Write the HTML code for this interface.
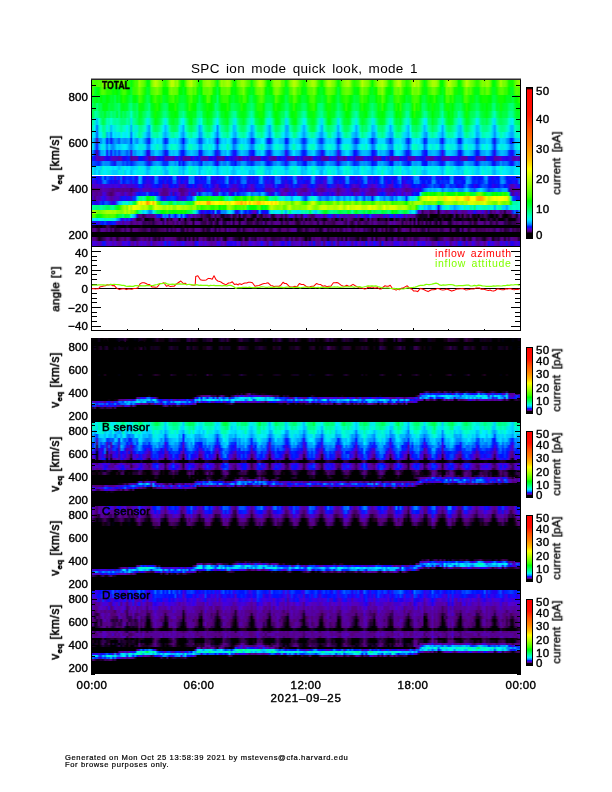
<!DOCTYPE html><html><head><meta charset="utf-8"><title>SPC ion mode quick look</title><style>
*{margin:0;padding:0;box-sizing:border-box}
html,body{width:612px;height:792px;background:#fff;overflow:hidden}
body{position:relative;font-family:"Liberation Sans",sans-serif;color:#000;font-size:11.5px;line-height:1}
.r{position:absolute;left:91px;width:430px}
.k{position:absolute;background:#000}
.t{position:absolute;white-space:nowrap;will-change:transform;-webkit-text-stroke:0.4px #000}
.yl{will-change:transform;position:absolute;white-space:nowrap;text-align:right;width:40px;left:48.3px;letter-spacing:.1px;-webkit-text-stroke:0.4px #000}
.cl{will-change:transform;position:absolute;white-space:nowrap;left:535.5px;letter-spacing:.3px;-webkit-text-stroke:0.4px #000}
.rot{will-change:transform;position:absolute;white-space:nowrap;transform:translate(-50%,-50%) rotate(-90deg);-webkit-text-stroke:0.55px #000}
.cb{position:absolute;left:526px;width:7px;border-left:1px solid #000;border-right:1px solid #000}
sub{font-size:7.5px;vertical-align:baseline;position:relative;top:3px;font-weight:bold}
</style></head><body>
<div class="t" style="left:191px;top:61.5px;font-size:13.5px;word-spacing:2.2px;letter-spacing:.33px;-webkit-text-stroke:0">SPC ion mode quick look, mode 1</div>
<div class="k" style="left:91px;top:79px;width:430px;height:168px"></div>
<div class="r" style="top:79px;height:8px;background:linear-gradient(90deg,#2f0,#5f0,#4f0,#4f0,#5f0,#4f0,#8f0,#9f0,#6f0,#5f0,#5f0,#5f0,#2f0,#5f0,#6f0,#4f0,#7f0,#4f0,#2f0,#3f0,#0f1,#2f0,#4f0,#4f0,#9f0,#7f0,#6f0,#4f0,#0f1,#0f1,#6f0,#9f0,#bf0,#af0,#8f0,#7f0,#3f0,#2f0,#4f0,#8f0,#bf0,#bf0,#8f0,#9f0,#4f0,#1f0,#0f0,#4f0,#8f0,#af0,#bf0,#8f0,#7f0,#4f0,#1f0,#2f0,#7f0,#8f0,#9f0,#9f0,#7f0,#6f0,#3f0,#0f2,#5f0,#9f0,#8f0,#9f0,#af0,#9f0,#5f0,#1f0,#1f0,#6f0,#7f0,#9f0,#9f0,#7f0,#5f0,#4f0,#0f1,#4f0,#6f0,#9f0,#bf0,#af0,#8f0,#4f0,#0f0,#0f0,#4f0,#8f0,#9f0,#9f0,#9f0,#5f0,#5f0,#0f1,#3f0,#7f0,#9f0,#bf0,#af0,#8f0,#5f0,#3f0,#1f0,#3f0,#7f0,#8f0,#af0,#af0,#8f0,#4f0,#2f0,#0f0,#4f0,#7f0,#af0,#af0,#8f0,#7f0,#4f0,#0f1,#2f0,#6f0,#8f0,#9f0,#af0,#8f0,#4f0,#2f0,#3f0,#4f0,#7f0,#bf0,#9f0,#8f0,#7f0,#4f0,#0f0,#4f0,#6f0,#9f0,#af0,#bf0,#9f0,#7f0,#3f0,#1f0,#3f0,#7f0,#9f0,#bf0,#af0,#6f0,#5f0,#2f0,#3f0,#5f0,#9f0,#bf0,#9f0,#af0,#6f0,#3f0,#0f1,#2f0,#6f0,#8f0,#af0,#af0,#9f0,#6f0,#0f0,#0f0,#4f0,#8f0,#bf0,#af0,#8f0,#7f0,#5f0,#0f0,#1f0,#5f0,#8f0,#bf0,#9f0,#7f0,#6f0,#4f0,#2f0,#3f0,#6f0,#8f0,#7f0,#9f0,#8f0,#5f0,#0f0,#0f1,#3f0,#6f0,#af0,#7f0,#7f0,#5f0,#1f0,#1f0,#1f0,#5f0,#7f0,#8f0,#af0)"></div>
<div class="r" style="top:87px;height:8px;background:linear-gradient(90deg,#1f0,#4f0,#0f3,#0f1,#0f0,#4f0,#5f0,#4f0,#2f0,#2f0,#2f0,#0f1,#1f0,#0f0,#0f2,#2f0,#4f0,#4f0,#1f0,#0f0,#0f3,#3f0,#3f0,#4f0,#7f0,#5f0,#3f0,#1f0,#0f3,#0f2,#4f0,#5f0,#6f0,#7f0,#5f0,#4f0,#0f0,#0f0,#0f0,#5f0,#7f0,#6f0,#6f0,#5f0,#0f0,#0f0,#0f2,#0f0,#4f0,#6f0,#6f0,#4f0,#5f0,#1f0,#0f2,#0f0,#5f0,#5f0,#5f0,#6f0,#5f0,#1f0,#0f1,#0f4,#0f0,#5f0,#5f0,#5f0,#6f0,#5f0,#0f0,#0f1,#0f0,#2f0,#4f0,#5f0,#7f0,#3f0,#1f0,#0f1,#0f2,#0f1,#4f0,#6f0,#6f0,#7f0,#5f0,#0f0,#0f2,#0f0,#0f0,#5f0,#7f0,#7f0,#5f0,#3f0,#1f0,#0f2,#0f2,#4f0,#5f0,#8f0,#6f0,#3f0,#4f0,#0f0,#0f1,#0f1,#4f0,#5f0,#5f0,#7f0,#4f0,#0f0,#0f2,#0f2,#0f0,#4f0,#6f0,#6f0,#5f0,#4f0,#1f0,#0f4,#0f1,#4f0,#5f0,#6f0,#6f0,#5f0,#3f0,#0f1,#0f1,#0f0,#4f0,#7f0,#5f0,#5f0,#3f0,#0f1,#0f2,#1f0,#0f0,#6f0,#6f0,#8f0,#5f0,#1f0,#0f0,#0f0,#0f2,#5f0,#6f0,#5f0,#7f0,#4f0,#1f0,#0f0,#1f0,#2f0,#7f0,#6f0,#6f0,#7f0,#4f0,#1f0,#0f1,#0f1,#3f0,#4f0,#6f0,#6f0,#4f0,#2f0,#0f0,#0f2,#1f0,#7f0,#6f0,#7f0,#5f0,#1f0,#1f0,#0f1,#0f1,#1f0,#5f0,#7f0,#4f0,#5f0,#2f0,#0f1,#0f1,#0f1,#4f0,#5f0,#3f0,#6f0,#5f0,#2f0,#0f2,#0f2,#1f0,#4f0,#5f0,#5f0,#3f0,#3f0,#0f0,#0f2,#0f2,#4f0,#5f0,#4f0,#5f0)"></div>
<div class="r" style="top:95px;height:8px;background:linear-gradient(90deg,#0f3,#0f3,#0f2,#0f1,#0f3,#0f0,#0f2,#0f2,#0f0,#0f1,#0f3,#0f2,#0f5,#0f1,#0f3,#0f0,#2f0,#1f0,#0f1,#0f3,#0f5,#0f1,#0f0,#0f2,#4f0,#3f0,#1f0,#0f2,#0f5,#0f4,#0f0,#2f0,#4f0,#2f0,#1f0,#2f0,#0f3,#0f2,#0f1,#2f0,#3f0,#4f0,#1f0,#2f0,#0f2,#0f3,#0f3,#0f2,#1f0,#3f0,#4f0,#1f0,#1f0,#0f1,#0f5,#0f2,#0f0,#1f0,#5f0,#4f0,#0f0,#0f2,#0f2,#0f7,#0f1,#2f0,#3f0,#3f0,#3f0,#0f0,#0f2,#0f3,#0f1,#0f1,#2f0,#1f0,#4f0,#3f0,#0f0,#0f4,#0f5,#0f2,#0f1,#2f0,#4f0,#5f0,#3f0,#0f2,#0f3,#0f3,#0f2,#0f1,#5f0,#3f0,#1f0,#0f0,#0f1,#0f5,#0f3,#2f0,#1f0,#5f0,#4f0,#1f0,#0f0,#0f3,#0f3,#0f2,#0f0,#3f0,#4f0,#4f0,#1f0,#0f2,#0f2,#0f4,#0f2,#0f1,#4f0,#3f0,#1f0,#0f0,#0f2,#0f5,#0f2,#1f0,#2f0,#3f0,#2f0,#0f0,#0f1,#0f4,#0f3,#0f3,#2f0,#4f0,#2f0,#2f0,#0f0,#0f3,#0f3,#0f3,#0f0,#2f0,#1f0,#5f0,#3f0,#0f0,#0f2,#0f4,#0f4,#2f0,#3f0,#4f0,#2f0,#1f0,#0f0,#0f3,#0f2,#0f2,#3f0,#4f0,#4f0,#3f0,#0f0,#0f3,#0f4,#0f2,#1f0,#0f0,#1f0,#3f0,#0f0,#0f2,#0f3,#0f4,#0f0,#4f0,#4f0,#1f0,#3f0,#0f1,#0f3,#0f3,#0f3,#0f1,#4f0,#4f0,#2f0,#0f1,#1f0,#0f2,#0f4,#0f2,#0f0,#1f0,#1f0,#1f0,#0f0,#0f0,#0f4,#0f4,#0f2,#1f0,#1f0,#1f0,#0f0,#0f2,#0f2,#0f2,#0f4,#0f1,#0f0,#2f0,#4f0)"></div>
<div class="r" style="top:103px;height:8px;background:linear-gradient(90deg,#0f6,#0f5,#0f3,#0f8,#0f4,#0f5,#0f1,#0f1,#0f1,#0f4,#0f3,#0f3,#0f5,#0f5,#0f7,#0f2,#0f1,#0f2,#0f2,#0f6,#0f8,#0f4,#0f4,#0f6,#1f0,#0f1,#0f1,#0f4,#0f5,#0f8,#0f2,#0f1,#1f0,#2f0,#0f0,#0f3,#0f5,#0f6,#0f5,#0f0,#0f0,#0f0,#2f0,#0f1,#0f4,#0f5,#0f5,#0f3,#0f1,#3f0,#1f0,#0f0,#0f0,#0f5,#0f6,#0f4,#0f2,#0f1,#1f0,#0f0,#0f0,#0f2,#0f7,#0f6,#0f3,#0f0,#0f0,#0f0,#2f0,#0f1,#0f5,#0f5,#0f4,#0f3,#0f2,#2f0,#0f0,#0f1,#0f4,#0f5,#0f7,#0f5,#0f2,#2f0,#2f0,#2f0,#0f0,#0f5,#0f6,#0f6,#0f5,#0f0,#2f0,#0f0,#0f0,#0f2,#0f3,#0f6,#0f6,#0f2,#0f1,#3f0,#0f0,#0f2,#0f2,#0f5,#0f6,#0f5,#0f1,#1f0,#2f0,#3f0,#0f0,#0f6,#0f7,#0f7,#0f4,#0f1,#1f0,#1f0,#0f2,#0f1,#0f3,#0f7,#0f5,#0f3,#0f0,#3f0,#0f0,#0f0,#0f4,#0f6,#0f5,#0f5,#0f1,#2f0,#0f0,#0f1,#0f2,#0f5,#0f7,#0f5,#0f4,#1f0,#0f2,#3f0,#0f0,#0f2,#0f5,#0f6,#0f6,#0f2,#2f0,#0f0,#3f0,#0f2,#0f4,#0f6,#0f6,#0f4,#1f0,#4f0,#1f0,#2f0,#0f1,#0f6,#0f6,#0f4,#0f1,#0f2,#1f0,#0f1,#0f2,#0f2,#0f6,#0f7,#0f2,#1f0,#1f0,#0f2,#0f0,#0f3,#0f5,#0f5,#0f6,#0f3,#0f1,#2f0,#0f0,#0f2,#0f3,#0f4,#0f6,#0f5,#0f2,#0f1,#0f2,#0f0,#0f2,#0f2,#0f7,#0f7,#0f2,#0f3,#1f0,#0f2,#0f3,#0f3,#0f6,#0f7,#0f7,#0f3,#0f1,#0f1,#0f0)"></div>
<div class="r" style="top:111px;height:7px;background:linear-gradient(90deg,#0f6,#0f4,#0fa,#0f9,#0f7,#0f4,#0f5,#0f2,#0f6,#0f5,#0f8,#0f6,#0f7,#0f3,#0f8,#0f3,#0f6,#0f4,#0f7,#0f7,#0fc,#0f7,#0f5,#0f7,#0f2,#0f2,#0f5,#0f6,#0f9,#0f9,#0f4,#0f2,#1f0,#0f1,#0f2,#0f4,#0f7,#0f8,#0f6,#0f3,#0f1,#0f1,#0f0,#0f1,#0f6,#0f7,#0f9,#0f6,#0f2,#0f1,#0f1,#0f2,#0f2,#0f7,#0f8,#0f8,#0f3,#0f2,#0f0,#0f1,#0f2,#0f5,#0f7,#0fa,#0f6,#0f2,#0f2,#0f0,#0f1,#0f4,#0f7,#0f9,#0f9,#0f4,#0f2,#0f1,#0f1,#0f2,#0f5,#0f8,#0fa,#0f7,#0f2,#0f1,#1f0,#1f0,#0f1,#0f6,#0f8,#0fa,#0f6,#0f2,#0f0,#0f1,#0f3,#0f5,#0f5,#0fa,#0f8,#0f3,#0f0,#0f1,#1f0,#0f4,#0f5,#0f8,#0fa,#0f8,#0f2,#0f1,#0f1,#1f0,#0f3,#0f6,#0f8,#0f9,#0f5,#0f4,#1f0,#0f1,#0f2,#0f2,#0f6,#0f9,#0f7,#0f5,#0f3,#0f0,#0f0,#0f2,#0f6,#0f8,#0fa,#0f7,#0f2,#0f2,#0f1,#0f0,#0f4,#0f6,#0f9,#0f7,#0f4,#0f1,#0f1,#0f0,#0f1,#0f5,#0f7,#0f8,#0f8,#0f4,#0f0,#0f1,#1f0,#0f3,#0f5,#0f9,#0f9,#0f4,#0f0,#2f0,#0f1,#0f1,#0f2,#0f6,#0f9,#0f8,#0f4,#0f3,#0f0,#0f2,#0f3,#0f3,#0f7,#0fa,#0f4,#0f3,#0f0,#0f2,#0f1,#0f5,#0f5,#0fa,#0f8,#0f6,#0f2,#1f0,#0f2,#0f5,#0f5,#0f6,#0f9,#0f8,#0f4,#0f3,#0f2,#0f1,#0f3,#0f5,#0f9,#0fb,#0f6,#0f4,#0f2,#0f4,#0f4,#0f4,#0f8,#0f9,#0f8,#0f4,#0f2,#0f2,#0f3)"></div>
<div class="r" style="top:118px;height:7px;background:linear-gradient(90deg,#0f9,#0f9,#0ed,#0bf,#0fd,#0f8,#0f4,#0f6,#0fb,#0fa,#0fd,#0fa,#0f9,#0fa,#0f9,#0f7,#0f7,#0f7,#0fa,#0f8,#0df,#0f9,#0f8,#0f6,#0f3,#0f4,#0f6,#0fa,#0ee,#0ed,#0f8,#0f5,#0f1,#0f2,#0f4,#0f7,#0fb,#0ee,#0fb,#0f5,#0f3,#0f2,#0f4,#0f4,#0f9,#0fd,#0ef,#0fa,#0f6,#0f2,#0f1,#0f5,#0f6,#0fa,#0ed,#0fd,#0f6,#0f5,#0f2,#0f3,#0f4,#0f9,#0fc,#0ef,#0f9,#0f6,#0f4,#0f3,#0f2,#0f7,#0f9,#0ed,#0ee,#0f8,#0f5,#0f4,#0f2,#0f5,#0f9,#0fb,#0ee,#0fb,#0f5,#0f4,#0f2,#0f1,#0f3,#0fa,#0ee,#0ee,#0fb,#0f6,#0f1,#0f1,#0f3,#0f8,#0f8,#0df,#0ed,#0f7,#0f3,#0f1,#0f1,#0f6,#0f8,#0fb,#0ef,#0fc,#0f5,#0f4,#0f2,#0f2,#0f5,#0fa,#0ed,#0df,#0fa,#0f6,#0f1,#0f1,#0f5,#0f7,#0f9,#0df,#0fc,#0f7,#0f3,#0f3,#0f2,#0f4,#0fa,#0fb,#0ee,#0fa,#0f5,#0f2,#0f3,#0f5,#0f8,#0fa,#0ee,#0ed,#0f8,#0f4,#0f2,#0f2,#0f3,#0f8,#0fb,#0ee,#0fc,#0f6,#0f3,#0f4,#0f2,#0f6,#0fa,#0fc,#0ed,#0f9,#0f3,#0f2,#0f2,#0f4,#0f7,#0fb,#0ef,#0ee,#0f6,#0f6,#0f2,#0f4,#0f5,#0f9,#0fb,#0ee,#0f9,#0f4,#0f2,#0f2,#0f3,#0f8,#0fa,#0ed,#0ee,#0f9,#0f5,#0f2,#0f3,#0f6,#0f8,#0fa,#0ef,#0ed,#0f7,#0f5,#0f6,#0f4,#0f7,#0f9,#0ee,#0df,#0f9,#0f6,#0f5,#0f6,#0f7,#0f8,#0fc,#0ee,#0ef,#0f7,#0f6,#0f5,#0f3)"></div>
<div class="r" style="top:125px;height:7px;background:linear-gradient(90deg,#0fb,#0fb,#0ef,#06f,#0ed,#0fd,#0f8,#0f9,#0ee,#0fb,#0bf,#0ee,#0ed,#0fc,#0fb,#0f9,#0fb,#0fc,#0ef,#0fb,#0af,#0fb,#0ed,#0ed,#0f8,#0f8,#0fa,#0fc,#0cf,#09f,#0fc,#0f7,#0f5,#0f6,#0f8,#0fb,#0ef,#0bf,#0df,#0fa,#0f6,#0f5,#0f5,#0f7,#0ee,#0df,#0af,#0fc,#0f9,#0f6,#0f5,#0f7,#0f9,#0ed,#0af,#0cf,#0fb,#0f8,#0f6,#0f5,#0f8,#0ed,#0ef,#08f,#0ee,#0f9,#0f8,#0f6,#0f5,#0fa,#0fc,#0bf,#0cf,#0fb,#0f8,#0f6,#0f6,#0f8,#0fc,#0ee,#0af,#0cf,#0fb,#0f7,#0f6,#0f6,#0f9,#0ed,#0cf,#09f,#0ed,#0f9,#0f5,#0f6,#0f8,#0fb,#0fc,#0af,#0af,#0fb,#0f8,#0f5,#0f5,#0f9,#0fb,#0df,#0af,#0df,#0fa,#0f6,#0f4,#0f4,#0f8,#0fd,#0df,#0af,#0fc,#0f9,#0f6,#0f7,#0f8,#0fa,#0ed,#0af,#0ef,#0fa,#0f6,#0f5,#0f6,#0f9,#0fc,#0ef,#0af,#0df,#0f9,#0f5,#0f7,#0f6,#0fa,#0fc,#0bf,#0cf,#0ee,#0f7,#0f7,#0f6,#0f8,#0fc,#0ee,#0af,#0df,#0fa,#0f7,#0f5,#0f6,#0fa,#0fc,#0df,#0bf,#0fd,#0f6,#0f6,#0f5,#0f7,#0f9,#0ed,#0bf,#0df,#0fa,#0f8,#0f5,#0f7,#0f8,#0fc,#0ef,#0af,#0ee,#0f8,#0f6,#0f6,#0f8,#0fa,#0ed,#0cf,#0bf,#0ed,#0f7,#0f5,#0f7,#0fa,#0fc,#0ee,#0bf,#0cf,#0fb,#0f8,#0f8,#0f8,#0fa,#0fc,#0cf,#09f,#0ee,#0fa,#0f8,#0f8,#0f9,#0fb,#0ee,#0bf,#0bf,#0fb,#0f9,#0f8,#0f7)"></div>
<div class="r" style="top:132px;height:6px;background:linear-gradient(90deg,#0ee,#0ee,#0df,#05f,#0ee,#0ef,#0fa,#0f9,#0af,#0df,#07f,#0ef,#0df,#0ee,#0df,#0fc,#0ef,#0ee,#0ef,#0fc,#07f,#0ef,#0ed,#0fc,#0f8,#0fa,#0ed,#0df,#0af,#08f,#0ed,#0fa,#0fa,#0f9,#0fc,#0fc,#0cf,#0af,#0cf,#0ed,#0fa,#0f9,#0fb,#0fb,#0ef,#0bf,#09f,#0df,#0fc,#0fa,#0f9,#0fc,#0fc,#0ee,#09f,#0af,#0ed,#0fb,#0f9,#0fa,#0fd,#0ef,#0bf,#07f,#0df,#0fc,#0fa,#0fa,#0f8,#0fc,#0ef,#0bf,#0af,#0ee,#0fb,#0fa,#0f9,#0fb,#0ef,#0bf,#08f,#0bf,#0fd,#0fa,#0fa,#0f8,#0fb,#0ef,#0cf,#08f,#0df,#0fd,#0f8,#0f9,#0fa,#0ee,#0ef,#0af,#0bf,#0ee,#0fc,#0f8,#0f9,#0ed,#0ef,#0cf,#09f,#0cf,#0ed,#0fb,#0f9,#0fa,#0ed,#0df,#0af,#09f,#0df,#0ee,#0f9,#0f8,#0fc,#0ed,#0df,#08f,#0bf,#0ee,#0fa,#0f8,#0fa,#0fb,#0cf,#0bf,#09f,#0cf,#0fc,#0f8,#0fa,#0fb,#0ee,#0ef,#09f,#09f,#0df,#0fa,#0fa,#0f8,#0fa,#0ee,#0cf,#0af,#0af,#0fc,#0f9,#0f9,#0fa,#0ed,#0df,#0cf,#0af,#0ef,#0fa,#0f9,#0f8,#0fa,#0fc,#0df,#0af,#09f,#0ee,#0fb,#0f9,#0fb,#0fc,#0df,#0cf,#09f,#0df,#0fb,#0f9,#0fa,#0fa,#0fd,#0ef,#0bf,#0bf,#0df,#0fa,#0f8,#0fa,#0ed,#0fc,#0ef,#0af,#0bf,#0ee,#0fa,#0fb,#0fc,#0fc,#0ee,#0cf,#08f,#0df,#0ee,#0fa,#0fc,#0ed,#0ef,#0cf,#0af,#0af,#0ed,#0fb,#0fc,#0fb)"></div>
<div class="r" style="top:138px;height:6px;background:linear-gradient(90deg,#0cf,#0cf,#08f,#50a,#08f,#08f,#0cf,#0bf,#02f,#08f,#11f,#06f,#09f,#08f,#05f,#0af,#09f,#08f,#09f,#0af,#02f,#0cf,#0af,#08f,#0cf,#0df,#0bf,#08f,#04f,#11f,#0af,#0cf,#0ef,#0cf,#0df,#0df,#07f,#02f,#04f,#0cf,#0df,#0df,#0cf,#0df,#0af,#06f,#01f,#08f,#0bf,#0ee,#0df,#0df,#0cf,#09f,#04f,#05f,#0af,#0cf,#0ef,#0cf,#0df,#0bf,#06f,#20e,#08f,#0cf,#0df,#0cf,#0ee,#0df,#0af,#04f,#04f,#09f,#0bf,#0df,#0cf,#0df,#0af,#08f,#11f,#03f,#0af,#0cf,#0cf,#0ef,#0ef,#09f,#02f,#11f,#06f,#0cf,#0df,#0df,#0bf,#0bf,#0af,#01f,#03f,#0bf,#0cf,#0ee,#0cf,#0cf,#0af,#05f,#02f,#05f,#0bf,#0df,#0df,#0ee,#0cf,#08f,#04f,#03f,#08f,#0cf,#0df,#0cf,#0df,#0cf,#08f,#01f,#04f,#0bf,#0df,#0df,#0df,#0df,#09f,#05f,#02f,#05f,#0bf,#0df,#0df,#0ef,#0bf,#07f,#01f,#05f,#08f,#0df,#0df,#0df,#0df,#09f,#07f,#03f,#06f,#0cf,#0df,#0df,#0ee,#0cf,#0bf,#05f,#02f,#07f,#0df,#0ee,#0df,#0ef,#0cf,#09f,#02f,#04f,#0cf,#0cf,#0cf,#0cf,#0bf,#0bf,#04f,#11f,#08f,#0cf,#0df,#0cf,#0df,#0cf,#09f,#02f,#02f,#09f,#0df,#0df,#0cf,#0cf,#0bf,#09f,#03f,#06f,#0bf,#0bf,#0bf,#0df,#0cf,#0bf,#04f,#11e,#08f,#0af,#0df,#0cf,#0cf,#09f,#07f,#01f,#03f,#0bf,#0cf,#0cf,#0ef)"></div>
<div class="r" style="top:144px;height:6px;background:linear-gradient(90deg,#0bf,#0ee,#08f,#11f,#0af,#0df,#0ed,#0df,#07f,#0df,#09f,#08f,#0af,#0df,#0cf,#0df,#0ee,#0ef,#0df,#0af,#08f,#0bf,#0df,#0ef,#0ed,#0ed,#0ed,#0df,#08f,#07f,#0df,#0ee,#0ed,#0fb,#0ed,#0ed,#0af,#08f,#0bf,#0ee,#0fb,#0fc,#0fc,#0ed,#0cf,#09f,#06f,#0bf,#0ee,#0fb,#0fb,#0ed,#0ed,#0df,#09f,#09f,#0ee,#0ed,#0ed,#0fc,#0ed,#0ef,#0af,#05f,#0cf,#0ed,#0ee,#0ee,#0fa,#0ed,#0cf,#07f,#09f,#0cf,#0ed,#0fb,#0ed,#0ee,#0df,#0af,#07f,#09f,#0ee,#0ed,#0fc,#0fa,#0fc,#0cf,#09f,#08f,#0bf,#0ee,#0fc,#0fc,#0ed,#0ed,#0cf,#07f,#08f,#0df,#0ed,#0fa,#0ed,#0ef,#0ee,#09f,#06f,#09f,#0ee,#0fc,#0fb,#0fb,#0ef,#0bf,#09f,#08f,#0cf,#0ed,#0fd,#0fc,#0ed,#0ee,#0bf,#05f,#0af,#0ee,#0fc,#0fb,#0fc,#0ed,#0cf,#09f,#08f,#0cf,#0ee,#0fc,#0ee,#0fb,#0ef,#0cf,#07f,#08f,#0df,#0fc,#0ed,#0fc,#0fd,#0ee,#0af,#09f,#08f,#0ee,#0fc,#0ed,#0fc,#0ef,#0cf,#0af,#06f,#0bf,#0fc,#0fb,#0fb,#0ed,#0ee,#0df,#06f,#09f,#0ef,#0fc,#0ed,#0ee,#0fc,#0ee,#09f,#07f,#0cf,#0fc,#0fc,#0ed,#0ed,#0ee,#0cf,#08f,#08f,#0cf,#0fc,#0fb,#0ee,#0ed,#0ee,#0cf,#07f,#09f,#0df,#0fc,#0ef,#0fc,#0ef,#0df,#08f,#03f,#0bf,#0ef,#0ed,#0ed,#0ee,#0df,#0bf,#07f,#08f,#0df,#0ed,#0fd,#0ed)"></div>
<div class="r" style="top:150px;height:6px;background:linear-gradient(90deg,#0af,#08f,#02f,#509,#03f,#0af,#0af,#0cf,#11f,#09f,#11f,#08f,#04f,#08f,#04f,#08f,#09f,#08f,#05f,#08f,#40d,#09f,#08f,#0bf,#0bf,#0cf,#0af,#07f,#20e,#20e,#09f,#09f,#0cf,#0cf,#0af,#09f,#05f,#11e,#02f,#0af,#0cf,#0bf,#0cf,#0cf,#07f,#02f,#01f,#06f,#0af,#0bf,#0cf,#0bf,#0af,#09f,#11f,#02f,#08f,#0af,#0bf,#0cf,#0bf,#08f,#02f,#21e,#04f,#0af,#0bf,#0af,#0df,#0af,#05f,#11f,#11f,#07f,#0af,#0cf,#0bf,#0af,#09f,#03f,#11f,#01f,#09f,#0cf,#0bf,#0df,#0cf,#06f,#02f,#11f,#06f,#0bf,#0cf,#0cf,#0bf,#09f,#08f,#30e,#03f,#08f,#0bf,#0ef,#0bf,#0bf,#09f,#03f,#01f,#03f,#0af,#0bf,#0cf,#0df,#09f,#06f,#04f,#20e,#03f,#0af,#0cf,#0af,#0bf,#09f,#06f,#40e,#03f,#0af,#0bf,#0df,#0df,#0af,#08f,#01f,#11f,#05f,#09f,#0bf,#0bf,#0bf,#0af,#08f,#01f,#11f,#04f,#0cf,#0af,#0bf,#0bf,#09f,#07f,#02f,#01f,#0af,#0df,#0df,#0cf,#0af,#06f,#02f,#11f,#05f,#0bf,#0cf,#0cf,#0bf,#0af,#04f,#11f,#01f,#0af,#0af,#0bf,#0bf,#0af,#08f,#04f,#30e,#05f,#0cf,#0cf,#0cf,#0bf,#0af,#08f,#11f,#01f,#06f,#0bf,#0cf,#0cf,#0af,#09f,#05f,#01f,#02f,#09f,#0af,#0af,#0cf,#0bf,#08f,#03f,#20e,#07f,#09f,#0bf,#0bf,#0af,#09f,#03f,#11f,#11f,#07f,#0bf,#0af,#0cf)"></div>
<div class="r" style="top:156px;height:5px;background:linear-gradient(90deg,#20e,#02f,#20e,#50b,#50a,#50b,#50b,#30e,#20e,#20e,#40d,#50b,#50b,#40c,#50a,#50b,#20e,#20e,#11f,#02f,#508,#50a,#50a,#50a,#01f,#01f,#11e,#30e,#40d,#509,#50b,#509,#50b,#30e,#20e,#11f,#20e,#50b,#50a,#50b,#50b,#50a,#30e,#11f,#40d,#20e,#50a,#509,#50a,#50a,#20e,#40d,#11f,#20e,#11f,#50b,#50a,#50a,#50b,#20e,#20e,#30e,#20e,#509,#50a,#50a,#509,#20e,#01f,#30e,#20e,#30e,#40c,#50b,#509,#50b,#30e,#40e,#20e,#40d,#509,#50a,#50b,#50a,#50a,#11f,#20e,#20e,#30e,#50b,#50a,#509,#50a,#11f,#20e,#21e,#11f,#30e,#50a,#50b,#50b,#50b,#11f,#40c,#21e,#20e,#50b,#50a,#50a,#509,#50b,#11f,#11e,#30e,#20e,#50a,#509,#509,#50a,#11f,#40d,#21e,#30e,#509,#50b,#50b,#509,#50b,#11f,#30e,#40d,#20e,#50a,#509,#50a,#50a,#30e,#21e,#20e,#30e,#20e,#50a,#50a,#50c,#50a,#11e,#01f,#40d,#20e,#50b,#509,#50b,#50b,#50b,#11e,#30e,#11e,#20e,#50b,#50a,#50b,#50b,#21e,#21e,#11e,#20e,#11e,#50b,#50b,#50a,#50a,#40d,#30e,#20e,#20e,#50a,#50a,#50b,#50b,#30e,#30e,#30e,#30e,#20e,#40c,#50a,#50a,#50a,#11e,#11e,#01f,#11f,#50a,#50b,#50b,#50b,#509,#11e,#01f,#20e,#20e,#50a,#50a,#50b,#50c,#30e,#30e,#20e,#30e,#21e,#50a,#50a,#50c,#50a,#01f)"></div>
<div class="r" style="top:161px;height:5px;background:linear-gradient(90deg,#03f,#05f,#04f,#03f,#02f,#05f,#09f,#08f,#08f,#08f,#04f,#03f,#11e,#07f,#07f,#07f,#04f,#06f,#03f,#05f,#02f,#04f,#06f,#08f,#09f,#09f,#09f,#06f,#03f,#21e,#04f,#08f,#09f,#0af,#09f,#07f,#03f,#03f,#03f,#09f,#0af,#0af,#08f,#0af,#02f,#05f,#01f,#05f,#08f,#0af,#09f,#07f,#08f,#07f,#04f,#02f,#09f,#08f,#08f,#09f,#09f,#06f,#02f,#20e,#06f,#09f,#07f,#07f,#0af,#07f,#03f,#03f,#01f,#06f,#06f,#09f,#09f,#08f,#04f,#04f,#02f,#04f,#08f,#08f,#08f,#0af,#09f,#04f,#01f,#02f,#04f,#08f,#08f,#0af,#09f,#06f,#05f,#11f,#04f,#08f,#0af,#0af,#0af,#05f,#06f,#04f,#01f,#01f,#08f,#07f,#09f,#0af,#07f,#03f,#04f,#02f,#05f,#08f,#0af,#08f,#08f,#07f,#04f,#20e,#04f,#07f,#08f,#08f,#0bf,#08f,#06f,#02f,#03f,#04f,#08f,#09f,#08f,#09f,#07f,#06f,#01f,#02f,#03f,#0af,#09f,#0af,#08f,#07f,#05f,#01f,#01f,#08f,#09f,#08f,#0af,#06f,#04f,#03f,#01f,#03f,#0af,#09f,#09f,#0af,#09f,#02f,#01f,#01f,#08f,#07f,#09f,#08f,#07f,#05f,#02f,#11f,#04f,#0af,#0af,#08f,#08f,#05f,#03f,#02f,#03f,#04f,#0af,#0af,#09f,#08f,#08f,#04f,#01f,#04f,#08f,#09f,#08f,#09f,#07f,#06f,#01f,#11e,#05f,#05f,#09f,#06f,#07f,#07f,#04f,#01f,#11f,#07f,#09f,#07f,#09f)"></div>
<div class="r" style="top:166px;height:4px;background:linear-gradient(90deg,#0cf,#0ef,#0bf,#0df,#0df,#0cf,#0fc,#0ef,#0ee,#0ee,#0ef,#0df,#0ef,#0df,#0bf,#0df,#0ed,#0ef,#0df,#0ef,#0cf,#0cf,#0df,#0df,#0fc,#0ee,#0ee,#0df,#0af,#0af,#0ed,#0ee,#0fc,#0ee,#0fd,#0ee,#0cf,#0bf,#0df,#0ed,#0fc,#0ed,#0ee,#0ed,#0cf,#0cf,#0af,#0cf,#0ef,#0fb,#0fc,#0ed,#0ee,#0ee,#0bf,#0cf,#0ee,#0ee,#0ed,#0fd,#0ed,#0df,#0df,#0af,#0df,#0ee,#0ee,#0ee,#0ed,#0ef,#0ef,#0bf,#0df,#0df,#0df,#0fc,#0ee,#0df,#0df,#0df,#0cf,#0df,#0ef,#0ee,#0ed,#0fc,#0ed,#0cf,#0bf,#0bf,#0cf,#0ee,#0ee,#0ee,#0ee,#0ef,#0df,#0af,#0bf,#0ee,#0fd,#0fc,#0fc,#0ef,#0ef,#0bf,#0cf,#0af,#0ee,#0ef,#0fc,#0fc,#0ed,#0cf,#0cf,#0bf,#0cf,#0ef,#0ed,#0ee,#0ee,#0ed,#0df,#0af,#0df,#0ef,#0fd,#0fc,#0fc,#0ed,#0df,#0cf,#0df,#0bf,#0ef,#0fc,#0ed,#0ee,#0ef,#0df,#0af,#0cf,#0df,#0fc,#0ef,#0ed,#0ed,#0ee,#0cf,#0df,#0bf,#0ef,#0ed,#0ed,#0fb,#0ef,#0df,#0cf,#0cf,#0ef,#0ed,#0ed,#0ed,#0ee,#0ed,#0ef,#0cf,#0df,#0ee,#0ee,#0ee,#0ee,#0ee,#0ef,#0cf,#0bf,#0df,#0fc,#0fc,#0ed,#0ed,#0ef,#0cf,#0bf,#0cf,#0df,#0ee,#0fd,#0ee,#0ee,#0ed,#0df,#0cf,#0bf,#0ef,#0ed,#0df,#0ee,#0ed,#0ef,#0cf,#0bf,#0ef,#0ee,#0fc,#0ed,#0ef,#0df,#0df,#0cf,#0cf,#0df,#0ee,#0ee,#0ed)"></div>
<div class="r" style="top:170px;height:5px;background:linear-gradient(90deg,#0ed,#0ed,#0bf,#0ef,#0bf,#0ed,#0ee,#0ef,#0ee,#0ed,#0df,#0cf,#0cf,#0cf,#0ed,#0df,#0ed,#0cf,#0ef,#0ef,#0bf,#0df,#0ef,#0ee,#0ee,#0ee,#0ee,#0df,#0bf,#0cf,#0ee,#0ee,#0ed,#0ee,#0ee,#0ed,#0df,#0bf,#0bf,#0ee,#0fc,#0ed,#0ed,#0ed,#0cf,#0df,#0bf,#0ee,#0ef,#0fc,#0ed,#0ed,#0ed,#0ef,#0bf,#0ef,#0ef,#0ee,#0fd,#0ed,#0ee,#0ef,#0df,#0bf,#0df,#0ef,#0ee,#0ee,#0ed,#0ef,#0cf,#0bf,#0cf,#0ef,#0ef,#0ee,#0ee,#0ee,#0ef,#0bf,#0cf,#0bf,#0ee,#0fc,#0fc,#0fc,#0ed,#0cf,#0df,#0bf,#0ef,#0ed,#0fc,#0ee,#0ee,#0ee,#0ee,#0cf,#0df,#0ed,#0ed,#0ed,#0fc,#0ee,#0ee,#0bf,#0cf,#0cf,#0ee,#0ef,#0ed,#0fc,#0ef,#0ef,#0bf,#0af,#0ef,#0df,#0fc,#0fc,#0ee,#0ed,#0ef,#0bf,#0cf,#0df,#0fd,#0ed,#0fc,#0ee,#0ef,#0cf,#0cf,#0cf,#0ef,#0fd,#0ee,#0ee,#0df,#0df,#0bf,#0df,#0ef,#0ed,#0ee,#0fb,#0ee,#0ef,#0df,#0cf,#0bf,#0ed,#0ed,#0ed,#0fc,#0df,#0ee,#0df,#0cf,#0df,#0ed,#0fb,#0ed,#0ee,#0ed,#0cf,#0bf,#0cf,#0ef,#0ee,#0ee,#0ee,#0ee,#0df,#0df,#0bf,#0ef,#0fc,#0fc,#0ee,#0ee,#0df,#0df,#0cf,#0df,#0cf,#0fc,#0fc,#0fd,#0ef,#0ed,#0df,#0cf,#0cf,#0ef,#0fc,#0ee,#0ee,#0ed,#0ee,#0bf,#0af,#0df,#0df,#0fd,#0ef,#0ef,#0ee,#0df,#0cf,#0cf,#0ee,#0ee,#0ee,#0fc)"></div>
<div class="r" style="top:175px;height:5px;background:linear-gradient(90deg,#30e,#03f,#11e,#01f,#20e,#02f,#08f,#01f,#06f,#04f,#02f,#03f,#40d,#03f,#11f,#06f,#20e,#11f,#03f,#02f,#02f,#04f,#11f,#20e,#0af,#09f,#01f,#01f,#30e,#11f,#11f,#20e,#08f,#07f,#11f,#02f,#11e,#01f,#21e,#01f,#01f,#07f,#08f,#01f,#30e,#01f,#01f,#11e,#20e,#07f,#07f,#07f,#01f,#11f,#21e,#01f,#02f,#01f,#07f,#09f,#11f,#30e,#11f,#20e,#11f,#11f,#11f,#05f,#09f,#01f,#20e,#01f,#02f,#01f,#11f,#05f,#06f,#05f,#21e,#20e,#11f,#20e,#02f,#11f,#06f,#09f,#02f,#11f,#20e,#02f,#11e,#01f,#08f,#06f,#06f,#11f,#02f,#20e,#02f,#02f,#02f,#08f,#06f,#30e,#21e,#20e,#02f,#11f,#01f,#11f,#08f,#09f,#11f,#21e,#20e,#01f,#30e,#30e,#07f,#08f,#06f,#11e,#01f,#20e,#01f,#11e,#11f,#08f,#09f,#01f,#20e,#20e,#02f,#30e,#11f,#03f,#07f,#08f,#11e,#20e,#21e,#01f,#20e,#01f,#04f,#08f,#01f,#20e,#01f,#11f,#11e,#20e,#01f,#07f,#08f,#20e,#11f,#20e,#01f,#11f,#03f,#08f,#09f,#08f,#01f,#01f,#11e,#01f,#02f,#11f,#06f,#06f,#11f,#11f,#21e,#01f,#02f,#01f,#01f,#07f,#08f,#11e,#01f,#01f,#01f,#20e,#03f,#08f,#09f,#06f,#02f,#01f,#02f,#01f,#01f,#02f,#08f,#09f,#11f,#01f,#20e,#11f,#01f,#01f,#08f,#08f,#05f,#01f,#11f,#02f,#11f,#02f,#02f,#05f,#09f)"></div>
<div class="r" style="top:180px;height:4px;background:linear-gradient(90deg,#20e,#21e,#40d,#20e,#11f,#20e,#06f,#08f,#04f,#02f,#20e,#11f,#20e,#11e,#40d,#05f,#01f,#02f,#04f,#03f,#30e,#03f,#11f,#11f,#0af,#08f,#01f,#11e,#30e,#30e,#11e,#11f,#07f,#06f,#01f,#01f,#20e,#02f,#20e,#01f,#20e,#05f,#06f,#11f,#40d,#01f,#11f,#30e,#20e,#08f,#07f,#08f,#01f,#01f,#11f,#11f,#11f,#11f,#06f,#07f,#20e,#20e,#20e,#11f,#11f,#02f,#11f,#06f,#09f,#20e,#01f,#11f,#03f,#20e,#11e,#06f,#07f,#07f,#20e,#11e,#11f,#11e,#11f,#01f,#07f,#08f,#03f,#30e,#11f,#21e,#20e,#11e,#08f,#07f,#08f,#11e,#11e,#30e,#11e,#01f,#20e,#07f,#09f,#20e,#11f,#11f,#01f,#20e,#20e,#21e,#08f,#07f,#11e,#30e,#20e,#11e,#40d,#40d,#06f,#07f,#06f,#11e,#20e,#21e,#01f,#11f,#20e,#07f,#08f,#11f,#11f,#11e,#01f,#20e,#21e,#01f,#06f,#08f,#30e,#11f,#21e,#01f,#30e,#01f,#05f,#08f,#02f,#30e,#01f,#01f,#40d,#01f,#11f,#04f,#07f,#20e,#30e,#11f,#02f,#11f,#01f,#08f,#07f,#08f,#03f,#01f,#01f,#03f,#01f,#11f,#08f,#08f,#03f,#01f,#03f,#02f,#03f,#03f,#02f,#08f,#09f,#01f,#11f,#02f,#02f,#01f,#01f,#0af,#09f,#07f,#02f,#02f,#03f,#01f,#02f,#03f,#06f,#08f,#01f,#01f,#11e,#01f,#02f,#01f,#08f,#09f,#07f,#11f,#01f,#01f,#11f,#11f,#20e,#06f,#08f)"></div>
<div class="r" style="top:184px;height:4px;background:linear-gradient(90deg,#50b,#50b,#40d,#50b,#40d,#40c,#50c,#40d,#40d,#40d,#40d,#40c,#40d,#40d,#30e,#40c,#50c,#50b,#40c,#40d,#40c,#40c,#30e,#30e,#02f,#02f,#20e,#40d,#40c,#40d,#30e,#11f,#11f,#01f,#20e,#11f,#50a,#40c,#50b,#20e,#01f,#11f,#20e,#11f,#40c,#50b,#50a,#40d,#20e,#01f,#01f,#30e,#01f,#30e,#40d,#40d,#11e,#02f,#01f,#03f,#11f,#20e,#40d,#50b,#20e,#01f,#01f,#01f,#03f,#21e,#30e,#40c,#40c,#30e,#11e,#11f,#03f,#01f,#30e,#40e,#50b,#40d,#11f,#02f,#02f,#02f,#03f,#40d,#40d,#40d,#40e,#20e,#04f,#11f,#20e,#20e,#20e,#50c,#40c,#21e,#20e,#03f,#11f,#11e,#30e,#40d,#50b,#50b,#30e,#11f,#01f,#02f,#30e,#40c,#50b,#50b,#40c,#40d,#01f,#02f,#21e,#21e,#40d,#50a,#40d,#40d,#20e,#01f,#02f,#20e,#40c,#50c,#40c,#40c,#20e,#02f,#11f,#11f,#40d,#40d,#50b,#50c,#40e,#21e,#11f,#03f,#02f,#30e,#40d,#50b,#50b,#11f,#01f,#11f,#03f,#30e,#40c,#50c,#40d,#30e,#01f,#01f,#02f,#11f,#01f,#30e,#20e,#11f,#03f,#04f,#06f,#03f,#04f,#03f,#01f,#30e,#02f,#06f,#05f,#02f,#03f,#03f,#01f,#20e,#11f,#01f,#05f,#08f,#04f,#02f,#01f,#30e,#20e,#01f,#03f,#05f,#04f,#04f,#01f,#01f,#30e,#20e,#11e,#01f,#04f,#04f,#01f,#02f,#30e,#50a,#50a,#40d,#30e,#11f,#20e)"></div>
<div class="r" style="top:188px;height:4px;background:linear-gradient(90deg,#507,#508,#508,#508,#508,#509,#50b,#50a,#50a,#509,#508,#507,#509,#508,#508,#509,#508,#509,#508,#509,#406,#508,#509,#50a,#40c,#30e,#50b,#50b,#50b,#50a,#40c,#40d,#40d,#40d,#50b,#50b,#508,#508,#509,#50b,#40d,#50b,#50b,#50c,#508,#507,#508,#509,#50a,#40d,#40c,#40d,#40d,#40c,#50a,#50c,#40d,#30e,#11f,#11f,#30e,#40d,#50a,#50a,#50c,#20e,#30e,#30e,#20e,#40c,#50b,#50a,#50b,#40c,#20e,#20e,#21e,#20e,#40c,#40d,#50b,#50b,#20e,#11f,#11f,#11f,#11e,#50b,#50a,#50a,#50b,#50c,#30e,#20e,#40d,#50c,#50a,#508,#509,#40c,#40c,#30e,#40c,#50b,#50a,#509,#508,#508,#50b,#40d,#30e,#30e,#50c,#509,#509,#508,#509,#50b,#40d,#40c,#50c,#50b,#50a,#507,#509,#50b,#50b,#40d,#30e,#40c,#509,#508,#508,#509,#50c,#40c,#40c,#50c,#50b,#509,#508,#509,#50a,#40d,#50b,#30e,#40d,#50a,#50a,#509,#508,#50a,#40c,#40d,#40d,#50b,#50a,#508,#509,#50a,#40c,#30e,#40d,#30e,#20e,#03f,#07f,#09f,#0bf,#0af,#0bf,#0af,#0bf,#0cf,#0bf,#07f,#0af,#0bf,#09f,#09f,#08f,#0af,#0bf,#08f,#08f,#08f,#0bf,#0df,#0af,#07f,#07f,#05f,#09f,#0bf,#0df,#0bf,#09f,#07f,#04f,#06f,#06f,#08f,#09f,#07f,#08f,#0af,#0af,#0af,#11e,#508,#508,#50a,#50a,#50a,#50a)"></div>
<div class="r" style="top:192px;height:4px;background:linear-gradient(90deg,#406,#50a,#509,#508,#50a,#508,#40d,#40d,#509,#507,#406,#507,#50a,#50c,#50c,#50a,#509,#40d,#50b,#509,#508,#50c,#40d,#02f,#01f,#11f,#02f,#11f,#06f,#11f,#01f,#02f,#20e,#01f,#50c,#509,#508,#508,#508,#50c,#11e,#509,#20e,#40d,#50c,#508,#508,#50b,#50b,#11f,#40c,#50a,#40d,#06f,#01f,#05f,#08f,#07f,#05f,#07f,#05f,#20e,#30e,#40d,#07f,#04f,#01f,#03f,#06f,#40d,#20e,#01f,#06f,#01f,#03f,#05f,#04f,#06f,#09f,#0bf,#06f,#08f,#09f,#08f,#05f,#0bf,#0af,#05f,#02f,#40c,#20e,#11e,#07f,#03f,#21e,#50a,#50c,#50c,#30e,#11e,#40d,#20e,#03f,#50b,#50a,#50b,#40d,#40c,#40d,#40c,#03f,#20e,#20e,#40c,#50c,#40c,#30e,#30e,#11e,#40d,#20e,#30e,#50b,#508,#50b,#40c,#40d,#40d,#30e,#40d,#20e,#50a,#40d,#50b,#40d,#11f,#30e,#50b,#50a,#50a,#509,#50a,#50b,#30e,#11f,#01f,#02f,#40d,#50a,#40c,#40d,#20e,#40c,#40e,#30e,#50a,#30e,#50c,#40c,#50c,#20e,#02f,#01f,#01f,#0df,#0f4,#0f1,#0f0,#2f0,#0f1,#1f0,#0f0,#2f0,#4f0,#3f0,#0f1,#4f0,#2f0,#0f0,#0f1,#0f1,#1f0,#4f0,#0f0,#0f0,#0f1,#1f0,#4f0,#3f0,#0f2,#0f3,#0f4,#4f0,#6f0,#6f0,#3f0,#0f0,#0f3,#0f5,#0f3,#0f0,#1f0,#0f0,#0f3,#0f1,#3f0,#1f0,#3f0,#0f7,#20e,#508,#40c,#30e,#50a,#40e)"></div>
<div class="r" style="top:196px;height:5px;background:linear-gradient(90deg,#508,#40c,#507,#50b,#50a,#40d,#21e,#30e,#50c,#50b,#509,#50a,#40c,#50b,#40c,#11e,#11f,#11f,#30e,#11f,#40c,#03f,#03f,#0bf,#0f8,#0f7,#0fa,#0f8,#0f0,#0f1,#0f5,#0f3,#0fa,#09f,#06f,#02f,#30e,#40d,#02f,#02f,#03f,#03f,#02f,#20e,#40c,#40c,#30e,#40d,#03f,#04f,#03f,#09f,#0ee,#0f1,#0f1,#0f1,#0f2,#0f2,#1f0,#2f0,#0f2,#0f3,#0f4,#0f3,#1f0,#0f0,#0f3,#0f8,#0f7,#0fb,#0f8,#0f5,#0f0,#1f0,#2f0,#4f0,#0f1,#0f0,#4f0,#6f0,#0f0,#3f0,#6f0,#5f0,#2f0,#4f0,#4f0,#1f0,#0f3,#0fa,#0f8,#0f7,#0f5,#0f9,#0ed,#0ee,#0fb,#0cf,#0df,#0df,#09f,#0ef,#0ef,#0ee,#0ef,#0af,#06f,#03f,#0af,#0df,#0fb,#0fc,#0ef,#0af,#06f,#09f,#09f,#07f,#06f,#0af,#09f,#0df,#09f,#07f,#0af,#0cf,#08f,#0bf,#0cf,#09f,#0df,#0af,#05f,#09f,#0cf,#09f,#04f,#0af,#08f,#09f,#01f,#08f,#0cf,#0ef,#0af,#0af,#07f,#0af,#0af,#07f,#05f,#0af,#07f,#0cf,#0cf,#0af,#09f,#02f,#0af,#0ee,#0df,#0ee,#0fb,#0f3,#8f0,#cf0,#df0,#df0,#ff0,#df0,#df0,#ef0,#df0,#bf0,#cf0,#cf0,#fd0,#fe0,#ff0,#ff0,#ef0,#ef0,#fd0,#fe0,#ff0,#ff0,#fd0,#fc0,#fb0,#ff0,#ff0,#ff0,#fb0,#fa0,#fa0,#fb0,#fd0,#ef0,#bf0,#df0,#ef0,#ff0,#ef0,#ff0,#ff0,#ff0,#ef0,#fe0,#9f0,#0fb,#04f,#03f,#11f,#21e,#30e)"></div>
<div class="r" style="top:201px;height:4px;background:linear-gradient(90deg,#20e,#11f,#20e,#20e,#30e,#04f,#01f,#05f,#05f,#03f,#40d,#20e,#30e,#06f,#0bf,#0cf,#0fc,#0fb,#0ef,#0f9,#0fb,#0f5,#0f2,#8f0,#ff0,#fd0,#ff0,#fe0,#f90,#fb0,#ff0,#fb0,#ef0,#6f0,#3f0,#0f5,#0f8,#0f8,#0f7,#0f3,#0f2,#0f7,#0f9,#0f5,#0f6,#0f7,#0f8,#0f6,#0f4,#0f3,#0f4,#3f0,#bf0,#fe0,#fd0,#fe0,#fe0,#fe0,#fa0,#fa0,#fe0,#fe0,#ff0,#ff0,#fe0,#fe0,#ef0,#cf0,#fe0,#cf0,#ff0,#ff0,#fd0,#fc0,#fc0,#fa0,#fd0,#fb0,#ff0,#fb0,#ff0,#fd0,#fd0,#fb0,#fb0,#fe0,#fd0,#ff0,#fe0,#ff0,#fd0,#ff0,#fd0,#ef0,#9f0,#bf0,#af0,#8f0,#8f0,#9f0,#4f0,#7f0,#af0,#af0,#8f0,#5f0,#3f0,#2f0,#6f0,#8f0,#cf0,#cf0,#8f0,#5f0,#3f0,#6f0,#7f0,#5f0,#4f0,#4f0,#5f0,#9f0,#7f0,#4f0,#8f0,#9f0,#5f0,#5f0,#6f0,#5f0,#9f0,#7f0,#4f0,#6f0,#8f0,#4f0,#3f0,#5f0,#5f0,#5f0,#2f0,#4f0,#8f0,#8f0,#6f0,#7f0,#6f0,#5f0,#7f0,#6f0,#2f0,#4f0,#4f0,#5f0,#5f0,#5f0,#3f0,#0f0,#5f0,#8f0,#6f0,#9f0,#af0,#af0,#af0,#8f0,#5f0,#7f0,#6f0,#6f0,#7f0,#7f0,#5f0,#0f4,#3f0,#5f0,#9f0,#af0,#af0,#af0,#9f0,#7f0,#7f0,#af0,#af0,#9f0,#bf0,#af0,#df0,#df0,#df0,#cf0,#bf0,#bf0,#cf0,#cf0,#ef0,#bf0,#9f0,#9f0,#7f0,#6f0,#7f0,#cf0,#9f0,#7f0,#6f0,#8f0,#7f0,#0f1,#0fa,#0fa,#0fa,#0fc,#0fc)"></div>
<div class="r" style="top:205px;height:5px;background:linear-gradient(90deg,#0fb,#0f9,#0f8,#0f7,#0f7,#0fa,#0f8,#0f7,#0f5,#0f5,#0f8,#0f9,#0f5,#0f2,#1f0,#5f0,#8f0,#af0,#7f0,#df0,#af0,#ef0,#ef0,#df0,#df0,#bf0,#af0,#bf0,#af0,#6f0,#5f0,#9f0,#df0,#cf0,#bf0,#bf0,#9f0,#9f0,#bf0,#9f0,#bf0,#8f0,#8f0,#bf0,#bf0,#af0,#9f0,#af0,#9f0,#8f0,#7f0,#9f0,#9f0,#4f0,#5f0,#2f0,#3f0,#4f0,#5f0,#4f0,#2f0,#2f0,#4f0,#4f0,#0f0,#2f0,#1f0,#1f0,#8f0,#9f0,#7f0,#5f0,#2f0,#4f0,#4f0,#5f0,#4f0,#6f0,#0f5,#0f1,#0f0,#0f0,#0f1,#4f0,#5f0,#0f0,#0f3,#0f1,#3f0,#9f0,#bf0,#9f0,#8f0,#7f0,#8f0,#9f0,#5f0,#6f0,#af0,#cf0,#8f0,#7f0,#8f0,#8f0,#7f0,#8f0,#8f0,#8f0,#bf0,#cf0,#af0,#8f0,#7f0,#8f0,#bf0,#cf0,#cf0,#cf0,#af0,#bf0,#bf0,#af0,#af0,#bf0,#df0,#cf0,#9f0,#bf0,#ef0,#bf0,#cf0,#cf0,#df0,#df0,#df0,#bf0,#bf0,#bf0,#df0,#ef0,#cf0,#df0,#cf0,#af0,#9f0,#bf0,#ef0,#bf0,#bf0,#df0,#df0,#df0,#cf0,#af0,#af0,#bf0,#bf0,#af0,#7f0,#5f0,#7f0,#7f0,#2f0,#0f7,#0ee,#0fb,#0cf,#0df,#0af,#0af,#0df,#0df,#0af,#20e,#09f,#0df,#0ed,#0fb,#0fc,#0cf,#0cf,#09f,#0bf,#0cf,#0ee,#0ef,#0fa,#0ee,#0ee,#0f9,#0fb,#0f6,#0ee,#0fc,#0fc,#0fb,#0fa,#0fb,#0ed,#0fc,#0fc,#0af,#0fc,#0fa,#0fa,#0cf,#0cf,#09f,#0df,#0fa,#0fc,#0fc,#0fb,#0fc,#0fc)"></div>
<div class="r" style="top:210px;height:4px;background:linear-gradient(90deg,#7f0,#9f0,#9f0,#7f0,#6f0,#7f0,#8f0,#9f0,#af0,#af0,#af0,#9f0,#af0,#8f0,#8f0,#7f0,#8f0,#bf0,#8f0,#bf0,#7f0,#8f0,#5f0,#0f2,#0f8,#0fb,#0cf,#0ef,#0cf,#08f,#08f,#0ee,#0f9,#0f4,#0f4,#0f1,#0f0,#1f0,#3f0,#0f2,#1f0,#0f0,#0f1,#1f0,#1f0,#0f0,#1f0,#0f0,#0f3,#0f4,#0f5,#0fa,#0ed,#0af,#03f,#20e,#30e,#02f,#20e,#01f,#03f,#20e,#0af,#01f,#11f,#08f,#08f,#08f,#0cf,#0ed,#0cf,#09f,#11e,#20e,#04f,#09f,#04f,#01f,#04f,#01f,#30e,#50b,#50b,#01f,#0af,#01f,#20e,#01f,#01f,#0cf,#0fc,#0df,#0ef,#0ef,#0ee,#0f8,#0ee,#0af,#0fc,#0f6,#0fc,#0ee,#0ee,#0df,#0ee,#0fa,#0fb,#0f9,#0fb,#0f4,#0fb,#0df,#0cf,#0fc,#0f9,#0f6,#0f2,#0f1,#0f5,#0f8,#0f9,#0f7,#0f8,#0f5,#0f3,#0f5,#0f6,#0f6,#0f2,#0f4,#0fb,#0f5,#0f1,#0f5,#0f7,#0f6,#0f3,#0f7,#0f3,#0f1,#0f7,#0f4,#0f6,#0f7,#0f7,#0f3,#0f4,#0f5,#0f8,#0f6,#0f0,#0f2,#0f1,#0f5,#0f8,#0f6,#0f3,#0f4,#0f8,#0cf,#0ee,#0ee,#08f,#40d,#50b,#305,#508,#508,#509,#405,#406,#507,#50a,#102,#508,#50b,#509,#507,#509,#50a,#40c,#509,#507,#40c,#50a,#508,#509,#509,#40d,#50b,#40c,#11f,#40c,#50c,#50b,#30e,#50a,#507,#20e,#405,#509,#507,#50b,#50a,#406,#508,#203,#509,#508,#50a,#03f,#07f,#11e,#08f,#08f)"></div>
<div class="r" style="top:214px;height:4px;background:linear-gradient(90deg,#4f0,#5f0,#4f0,#0f0,#0f1,#1f0,#3f0,#4f0,#5f0,#4f0,#5f0,#5f0,#4f0,#0f1,#0f4,#0f4,#0f8,#0f2,#0f4,#0f4,#0fc,#0cf,#09f,#20e,#507,#508,#304,#406,#509,#508,#508,#508,#50b,#02f,#01f,#40d,#08f,#06f,#08f,#30e,#08f,#06f,#01f,#06f,#0af,#02f,#09f,#03f,#20e,#50a,#40d,#508,#50a,#508,#508,#305,#406,#305,#203,#202,#407,#509,#305,#508,#406,#102,#102,#305,#204,#305,#508,#203,#304,#508,#101,#509,#203,#304,#507,#507,#203,#001,#101,#509,#304,#202,#508,#406,#508,#50b,#203,#203,#507,#509,#508,#305,#509,#304,#508,#30e,#30e,#50a,#305,#50a,#508,#304,#40d,#30e,#509,#507,#405,#406,#50b,#50b,#40c,#40d,#508,#50b,#11f,#02f,#30e,#509,#40c,#02f,#50b,#40c,#509,#40c,#50a,#509,#509,#50a,#11f,#50a,#50b,#02f,#50a,#20e,#20e,#04f,#40d,#40d,#50b,#50b,#509,#50a,#11e,#50b,#40c,#02f,#02f,#50b,#02f,#30e,#11f,#30e,#509,#40d,#509,#50a,#509,#509,#305,#203,#101,#102,#102,#102,#406,#000,#000,#000,#000,#101,#203,#101,#101,#203,#101,#000,#102,#407,#000,#203,#406,#101,#507,#304,#203,#508,#102,#101,#203,#000,#305,#203,#406,#305,#102,#000,#000,#203,#000,#304,#507,#101,#000,#000,#202,#203,#507,#405,#102,#50a,#508)"></div>
<div class="r" style="top:218px;height:3px;background:linear-gradient(90deg,#0df,#0ee,#0ef,#0df,#0ef,#0fc,#0ee,#0fa,#0fb,#0fb,#0fb,#0ed,#0ee,#0af,#08f,#02f,#40d,#04f,#30e,#04f,#20e,#50b,#508,#202,#203,#305,#508,#000,#000,#102,#203,#101,#507,#508,#507,#101,#204,#50b,#202,#406,#203,#508,#50a,#508,#001,#509,#406,#000,#406,#406,#102,#000,#203,#102,#000,#000,#405,#305,#406,#101,#203,#101,#406,#000,#203,#406,#101,#000,#000,#000,#204,#000,#304,#101,#000,#000,#102,#507,#000,#101,#000,#202,#406,#000,#202,#203,#000,#102,#000,#203,#203,#000,#000,#406,#000,#000,#305,#000,#204,#102,#000,#405,#000,#102,#304,#102,#507,#000,#305,#101,#406,#305,#000,#305,#305,#203,#001,#101,#405,#508,#304,#406,#000,#203,#407,#000,#507,#304,#509,#507,#406,#203,#203,#406,#101,#000,#305,#508,#101,#509,#304,#406,#406,#000,#203,#203,#203,#000,#405,#001,#000,#406,#102,#203,#406,#204,#102,#305,#304,#000,#304,#001,#407,#000,#101,#102,#000,#101,#000,#000,#000,#102,#102,#000,#000,#203,#000,#000,#000,#000,#305,#102,#001,#000,#000,#102,#102,#101,#000,#101,#202,#000,#000,#406,#000,#000,#101,#304,#001,#304,#102,#000,#304,#000,#000,#000,#102,#304,#000,#000,#000,#000,#305,#407,#508)"></div>
<div class="r" style="top:221px;height:4px;background:linear-gradient(90deg,#30e,#11f,#30e,#11f,#40c,#02f,#01f,#04f,#01f,#20e,#01f,#02f,#11f,#50b,#509,#40c,#508,#40c,#50a,#50a,#406,#508,#509,#507,#509,#509,#305,#305,#406,#305,#405,#204,#406,#507,#508,#509,#305,#50a,#405,#507,#507,#406,#509,#406,#509,#406,#406,#203,#406,#508,#508,#202,#509,#509,#508,#305,#304,#304,#507,#305,#203,#508,#304,#102,#508,#509,#203,#204,#508,#406,#509,#203,#508,#507,#102,#508,#508,#407,#203,#304,#304,#507,#305,#203,#406,#305,#509,#203,#507,#508,#305,#507,#509,#508,#508,#203,#508,#405,#304,#509,#507,#508,#304,#202,#304,#508,#305,#507,#507,#406,#406,#508,#508,#203,#509,#507,#203,#507,#406,#406,#405,#304,#507,#508,#508,#509,#406,#304,#50a,#405,#203,#406,#50a,#304,#405,#508,#406,#305,#406,#508,#406,#509,#508,#406,#406,#407,#406,#304,#507,#50a,#508,#50a,#508,#507,#507,#204,#507,#405,#507,#305,#508,#203,#509,#202,#406,#304,#508,#203,#406,#203,#508,#304,#102,#507,#102,#406,#507,#508,#203,#102,#406,#508,#406,#507,#509,#305,#507,#508,#406,#204,#507,#202,#304,#509,#508,#508,#304,#508,#508,#203,#406,#507,#203,#508,#508,#508,#204,#305,#202,#203,#305,#304,#406,#507,#509)"></div>
<div class="r" style="top:225px;height:3px;background:linear-gradient(90deg,#203,#102,#101,#000,#101,#000,#102,#101,#405,#305,#102,#101,#202,#000,#000,#000,#000,#000,#102,#000,#000,#000,#000,#000,#000,#101,#000,#000,#000,#000,#000,#000,#000,#000,#000,#000,#000,#000,#000,#000,#000,#101,#000,#000,#000,#000,#101,#000,#000,#000,#000,#000,#000,#000,#000,#000,#000,#000,#000,#000,#000,#101,#000,#000,#000,#101,#000,#000,#000,#000,#000,#000,#000,#000,#000,#001,#000,#000,#000,#000,#000,#000,#000,#000,#000,#000,#000,#000,#000,#001,#001,#000,#000,#000,#000,#000,#000,#000,#000,#000,#000,#000,#000,#000,#000,#000,#000,#000,#000,#000,#000,#000,#000,#000,#000,#000,#000,#000,#000,#000,#000,#000,#000,#000,#000,#000,#000,#000,#102,#000,#000,#000,#101,#000,#000,#000,#000,#000,#000,#000,#000,#000,#000,#000,#000,#000,#000,#000,#101,#000,#000,#000,#000,#000,#101,#000,#000,#000,#000,#000,#101,#000,#000,#000,#000,#000,#000,#000,#000,#000,#000,#000,#000,#000,#000,#000,#000,#000,#000,#000,#000,#000,#000,#000,#000,#000,#000,#000,#001,#000,#000,#000,#000,#000,#000,#000,#000,#000,#000,#000,#000,#000,#000,#000,#000,#000,#000,#000,#000,#000,#000,#000,#000,#000,#000)"></div>
<div class="r" style="top:228px;height:4px;background:linear-gradient(90deg,#406,#507,#509,#405,#203,#509,#509,#508,#406,#509,#304,#508,#203,#304,#304,#406,#508,#305,#508,#508,#202,#508,#507,#507,#406,#405,#305,#304,#406,#508,#203,#304,#204,#304,#405,#406,#406,#507,#204,#508,#305,#407,#405,#509,#508,#204,#203,#507,#304,#507,#406,#304,#508,#508,#508,#406,#203,#405,#203,#204,#508,#407,#203,#508,#305,#507,#507,#304,#50a,#407,#508,#507,#508,#203,#305,#508,#203,#406,#507,#508,#508,#405,#509,#406,#406,#406,#304,#508,#508,#304,#304,#508,#508,#405,#204,#507,#507,#507,#305,#507,#509,#509,#509,#102,#203,#304,#507,#203,#305,#507,#406,#508,#304,#406,#102,#203,#508,#508,#203,#406,#304,#508,#304,#508,#304,#305,#509,#406,#508,#509,#304,#406,#508,#406,#508,#509,#305,#407,#305,#304,#101,#508,#102,#406,#508,#304,#507,#202,#406,#203,#203,#406,#509,#202,#304,#508,#509,#507,#507,#203,#507,#507,#405,#508,#405,#204,#304,#508,#203,#406,#406,#406,#405,#507,#305,#305,#507,#508,#507,#102,#507,#406,#102,#102,#509,#203,#509,#507,#203,#405,#508,#507,#304,#406,#405,#406,#405,#507,#406,#507,#406,#305,#509,#508,#305,#507,#203,#304,#305,#509,#304,#406,#304,#304,#507)"></div>
<div class="r" style="top:232px;height:5px;background:#000"></div>
<div class="r" style="top:237px;height:4px;background:linear-gradient(90deg,#508,#508,#508,#405,#101,#203,#305,#406,#509,#508,#305,#508,#508,#203,#405,#507,#508,#405,#509,#508,#304,#203,#203,#305,#406,#508,#507,#406,#508,#305,#509,#305,#203,#405,#203,#507,#305,#509,#508,#508,#508,#507,#507,#304,#203,#304,#405,#102,#407,#203,#507,#202,#406,#203,#508,#508,#406,#507,#304,#203,#406,#204,#508,#304,#406,#509,#203,#101,#406,#508,#508,#305,#203,#203,#101,#203,#507,#101,#203,#508,#305,#305,#203,#508,#406,#508,#406,#304,#507,#507,#304,#304,#305,#405,#305,#406,#508,#305,#304,#509,#304,#508,#304,#405,#508,#406,#304,#000,#304,#101,#508,#406,#508,#507,#508,#304,#406,#406,#102,#406,#406,#406,#508,#204,#406,#203,#508,#102,#507,#305,#305,#305,#203,#101,#406,#202,#203,#203,#508,#508,#203,#509,#202,#406,#406,#507,#507,#102,#406,#407,#204,#509,#508,#304,#406,#507,#203,#305,#507,#405,#507,#305,#305,#406,#508,#508,#508,#406,#508,#405,#304,#203,#102,#304,#405,#406,#509,#508,#507,#405,#304,#507,#406,#406,#509,#305,#203,#508,#304,#203,#509,#509,#305,#406,#406,#203,#102,#405,#507,#509,#101,#304,#305,#203,#508,#508,#203,#508,#304,#509,#508,#507,#507,#203,#406)"></div>
<div class="r" style="top:241px;height:6px;background:linear-gradient(90deg,#50a,#40d,#40d,#40c,#50a,#40c,#11e,#11f,#50b,#50c,#40d,#50a,#40d,#50a,#509,#50a,#30e,#40d,#40d,#20e,#50a,#509,#40d,#508,#50b,#40d,#50b,#40d,#50a,#509,#30e,#509,#50a,#50b,#40d,#50b,#40d,#02f,#40c,#11f,#40d,#40d,#50b,#40d,#40c,#30e,#21e,#40c,#50b,#50b,#50b,#509,#20e,#11f,#50c,#40d,#50b,#40d,#50b,#50a,#509,#50a,#50a,#30e,#30e,#50a,#50b,#509,#20e,#20e,#20e,#30e,#20e,#50c,#30e,#508,#50b,#509,#50a,#30e,#40d,#50c,#50b,#40c,#40d,#11f,#40d,#50b,#508,#21e,#30e,#509,#50b,#50b,#40d,#20e,#20e,#50b,#20e,#11f,#509,#40c,#50b,#50b,#40d,#508,#40d,#509,#50b,#20e,#50a,#01f,#50a,#509,#50a,#21e,#507,#40d,#11e,#20e,#509,#11e,#50c,#507,#30e,#40d,#40c,#40d,#21e,#30e,#509,#40d,#20e,#50c,#50b,#30e,#50a,#01f,#50b,#30e,#40c,#11f,#30e,#40c,#507,#01f,#50b,#50a,#40c,#50b,#50a,#30e,#30e,#30e,#50c,#50b,#40d,#40c,#50b,#50c,#40d,#50a,#50c,#11f,#40d,#30e,#30e,#50b,#40c,#40c,#509,#50a,#50b,#20e,#40c,#40c,#50a,#30e,#40d,#508,#50b,#40d,#50a,#11e,#11e,#40c,#509,#20e,#50a,#50a,#30e,#40c,#509,#508,#40c,#50b,#508,#50c,#01f,#40d,#30e,#50b,#50a,#509,#30e,#40c,#40c,#11e,#50a,#20e,#20e,#40c,#40d,#30e,#20e)"></div>
<div class="k" style="left:91px;top:338px;width:430px;height:84px"></div>
<div class="r" style="top:338px;height:4px;background:linear-gradient(90deg,#102,#000,#000,#000,#102,#000,#000,#101,#101,#000,#000,#000,#000,#001,#102,#102,#102,#304,#101,#000,#000,#000,#001,#000,#102,#102,#101,#101,#000,#000,#000,#001,#101,#203,#101,#101,#101,#000,#000,#102,#203,#102,#102,#101,#101,#000,#000,#000,#204,#304,#102,#203,#202,#101,#000,#000,#102,#102,#203,#203,#304,#000,#000,#000,#102,#204,#203,#102,#304,#101,#000,#000,#000,#101,#204,#304,#102,#102,#102,#001,#000,#001,#304,#203,#102,#101,#000,#001,#000,#000,#000,#204,#101,#203,#305,#102,#000,#000,#001,#202,#203,#101,#305,#102,#101,#000,#000,#000,#101,#204,#102,#203,#000,#101,#000,#000,#101,#203,#305,#102,#204,#101,#101,#000,#000,#102,#204,#202,#203,#102,#102,#000,#000,#000,#102,#102,#202,#304,#000,#000,#000,#101,#000,#101,#304,#304,#102,#101,#000,#000,#000,#204,#000,#304,#305,#102,#101,#000,#000,#000,#000,#102,#203,#203,#101,#000,#000,#000,#102,#102,#101,#101,#000,#000,#000,#000,#101,#101,#304,#203,#203,#202,#102,#101,#000,#000,#203,#304,#202,#202,#102,#000,#000,#000,#102,#101,#102,#101,#101,#102,#000,#000,#000,#101,#000,#001,#000,#000,#000,#000,#001,#000,#000,#102,#001)"></div>
<div class="r" style="top:342px;height:4px;background:linear-gradient(90deg,#000,#000,#000,#000,#000,#000,#000,#000,#000,#000,#000,#000,#000,#000,#000,#000,#000,#000,#000,#000,#000,#000,#000,#000,#000,#000,#000,#000,#000,#000,#000,#000,#000,#000,#000,#000,#000,#000,#000,#000,#000,#000,#000,#000,#000,#000,#000,#000,#000,#000,#000,#000,#000,#000,#000,#000,#000,#000,#000,#000,#000,#000,#000,#000,#000,#000,#000,#000,#000,#000,#000,#000,#000,#000,#000,#000,#000,#000,#000,#000,#000,#000,#000,#000,#000,#000,#000,#000,#000,#000,#000,#000,#000,#000,#000,#000,#000,#000,#000,#000,#000,#000,#000,#000,#000,#000,#000,#000,#000,#000,#000,#000,#000,#000,#000,#000,#000,#000,#000,#000,#000,#000,#000,#000,#000,#000,#000,#000,#000,#000,#000,#000,#000,#000,#000,#000,#000,#000,#000,#000,#000,#000,#000,#000,#101,#101,#000,#000,#000,#000,#000,#000,#000,#000,#000,#000,#000,#000,#000,#000,#000,#000,#000,#000,#000,#000,#000,#000,#000,#000,#000,#000,#000,#000,#000,#000,#000,#000,#000,#000,#000,#000,#000,#000,#000,#000,#000,#000,#000,#000,#000,#000,#000,#000,#000,#000,#000,#000,#000,#000,#000,#000,#000,#000,#000,#000,#000,#000,#000,#000,#000,#000,#000,#000,#000)"></div>
<div class="r" style="top:346px;height:4px;background:linear-gradient(90deg,#000,#000,#102,#000,#101,#203,#000,#102,#203,#000,#000,#000,#102,#000,#102,#102,#101,#000,#102,#000,#000,#000,#101,#000,#101,#304,#000,#102,#000,#000,#102,#101,#102,#102,#101,#000,#000,#000,#000,#102,#203,#102,#101,#102,#000,#000,#000,#000,#203,#102,#001,#202,#102,#101,#000,#000,#101,#101,#203,#203,#102,#000,#000,#000,#102,#203,#101,#102,#102,#102,#000,#000,#000,#101,#304,#203,#203,#102,#101,#000,#000,#000,#102,#102,#203,#203,#102,#101,#000,#000,#000,#202,#101,#102,#203,#000,#000,#000,#000,#101,#102,#101,#203,#203,#101,#000,#000,#000,#000,#102,#202,#203,#000,#000,#101,#000,#102,#102,#406,#304,#202,#203,#101,#001,#000,#101,#203,#203,#203,#202,#000,#000,#101,#101,#101,#203,#102,#203,#101,#000,#000,#101,#000,#001,#305,#204,#203,#101,#000,#000,#000,#101,#102,#203,#305,#102,#203,#000,#000,#001,#001,#304,#305,#203,#101,#000,#101,#000,#001,#101,#000,#000,#000,#000,#000,#000,#101,#102,#202,#305,#102,#203,#102,#000,#000,#000,#204,#203,#102,#101,#203,#101,#000,#000,#000,#203,#102,#102,#000,#101,#000,#000,#000,#102,#102,#101,#001,#202,#000,#001,#000,#000,#000,#001,#000)"></div>
<div class="r" style="top:350px;height:4px;background:#000"></div>
<div class="r" style="top:354px;height:4px;background:#000"></div>
<div class="r" style="top:358px;height:3px;background:#000"></div>
<div class="r" style="top:361px;height:3px;background:#000"></div>
<div class="r" style="top:364px;height:3px;background:#000"></div>
<div class="r" style="top:367px;height:3px;background:#000"></div>
<div class="r" style="top:370px;height:4px;background:#000"></div>
<div class="r" style="top:374px;height:2px;background:linear-gradient(90deg,#000,#000,#000,#000,#001,#000,#000,#202,#000,#000,#000,#000,#000,#000,#001,#000,#000,#000,#000,#000,#000,#000,#000,#000,#102,#102,#000,#000,#000,#000,#000,#101,#203,#202,#101,#000,#000,#000,#000,#000,#203,#102,#101,#000,#000,#000,#000,#000,#101,#102,#101,#000,#101,#000,#000,#000,#000,#001,#304,#101,#102,#000,#000,#000,#000,#001,#101,#102,#102,#101,#000,#000,#000,#000,#102,#204,#102,#101,#000,#000,#000,#000,#000,#001,#101,#101,#000,#000,#000,#000,#000,#101,#102,#102,#101,#000,#000,#000,#000,#000,#101,#102,#102,#102,#000,#000,#000,#000,#000,#102,#001,#001,#000,#000,#000,#000,#000,#102,#203,#102,#101,#000,#000,#000,#000,#000,#102,#203,#101,#000,#000,#000,#000,#000,#000,#102,#000,#101,#000,#000,#000,#000,#000,#000,#102,#203,#101,#000,#000,#000,#000,#000,#000,#101,#203,#000,#000,#000,#000,#000,#101,#102,#203,#101,#000,#000,#000,#000,#000,#101,#000,#000,#000,#000,#000,#000,#000,#101,#202,#203,#000,#001,#000,#000,#000,#000,#001,#101,#203,#000,#000,#000,#000,#000,#000,#101,#202,#000,#000,#000,#000,#000,#000,#000,#001,#000,#000,#101,#000,#000,#000,#000,#000,#000,#000)"></div>
<div class="r" style="top:376px;height:3px;background:#000"></div>
<div class="r" style="top:379px;height:2px;background:#000"></div>
<div class="r" style="top:381px;height:3px;background:#000"></div>
<div class="r" style="top:384px;height:2px;background:#000"></div>
<div class="r" style="top:386px;height:2px;background:#000"></div>
<div class="r" style="top:388px;height:3px;background:#000"></div>
<div class="r" style="top:391px;height:2px;background:linear-gradient(90deg,#000,#000,#000,#000,#000,#000,#000,#000,#000,#000,#000,#000,#000,#000,#000,#000,#000,#000,#000,#000,#000,#000,#000,#000,#000,#000,#000,#000,#000,#000,#000,#000,#000,#000,#000,#000,#000,#000,#000,#000,#000,#000,#000,#000,#000,#000,#000,#000,#000,#000,#000,#000,#000,#000,#000,#000,#000,#000,#000,#000,#000,#000,#000,#000,#000,#000,#000,#000,#000,#000,#000,#000,#000,#000,#000,#000,#000,#000,#000,#000,#000,#000,#000,#000,#000,#000,#000,#000,#000,#000,#000,#000,#000,#000,#000,#000,#000,#000,#000,#000,#000,#000,#000,#000,#000,#000,#000,#000,#000,#000,#000,#000,#000,#000,#000,#000,#000,#000,#000,#000,#000,#000,#000,#000,#000,#000,#000,#000,#000,#000,#000,#000,#000,#000,#000,#000,#000,#000,#000,#000,#000,#000,#000,#000,#000,#000,#000,#000,#000,#000,#000,#000,#000,#000,#000,#000,#000,#000,#000,#000,#000,#000,#000,#000,#000,#000,#203,#406,#304,#101,#202,#202,#203,#405,#203,#101,#406,#304,#102,#304,#001,#203,#405,#204,#102,#101,#102,#304,#102,#102,#101,#000,#304,#507,#304,#203,#101,#000,#101,#203,#305,#203,#101,#000,#000,#102,#102,#305,#000,#000,#000,#000,#000,#000,#000)"></div>
<div class="r" style="top:393px;height:2px;background:linear-gradient(90deg,#000,#000,#000,#000,#000,#000,#000,#000,#000,#000,#000,#000,#000,#000,#000,#000,#000,#000,#000,#000,#000,#000,#000,#000,#000,#000,#000,#000,#000,#000,#000,#000,#000,#000,#000,#000,#000,#000,#000,#000,#000,#000,#000,#000,#000,#000,#000,#000,#000,#000,#000,#000,#000,#000,#000,#000,#000,#000,#000,#000,#000,#000,#000,#000,#000,#000,#000,#000,#000,#000,#000,#000,#000,#102,#000,#203,#000,#202,#406,#508,#102,#204,#102,#101,#000,#101,#101,#001,#000,#000,#000,#000,#000,#000,#000,#000,#000,#000,#000,#000,#000,#000,#000,#000,#000,#000,#000,#000,#000,#000,#000,#000,#000,#000,#000,#000,#000,#000,#000,#000,#000,#000,#000,#000,#000,#000,#000,#000,#000,#000,#000,#000,#000,#000,#000,#000,#000,#000,#000,#000,#000,#000,#000,#000,#000,#000,#000,#000,#000,#000,#000,#000,#000,#000,#000,#000,#000,#000,#000,#000,#000,#000,#000,#000,#50c,#40c,#11f,#05f,#03f,#11e,#03f,#11f,#02f,#11e,#11f,#11f,#21e,#04f,#02f,#01f,#50b,#11f,#07f,#02f,#30e,#11f,#09f,#05f,#03f,#30e,#01f,#11f,#11f,#0bf,#11f,#06f,#04f,#11e,#50b,#30e,#03f,#11e,#40c,#02f,#01f,#50b,#40d,#09f,#508,#509,#509,#50b,#305,#509,#507)"></div>
<div class="r" style="top:395px;height:2px;background:linear-gradient(90deg,#000,#000,#000,#000,#000,#000,#000,#000,#000,#000,#000,#000,#000,#000,#000,#000,#000,#000,#000,#000,#000,#000,#000,#000,#000,#000,#000,#000,#000,#102,#000,#000,#000,#000,#000,#000,#000,#000,#000,#000,#000,#000,#000,#000,#000,#000,#000,#000,#000,#000,#000,#000,#000,#203,#304,#507,#508,#508,#509,#50a,#305,#304,#305,#101,#305,#509,#406,#102,#101,#000,#204,#305,#40c,#508,#40d,#20e,#40d,#509,#50b,#20e,#20e,#40d,#40d,#40c,#40d,#50a,#508,#50a,#40c,#509,#507,#305,#305,#406,#101,#000,#204,#101,#203,#000,#000,#000,#001,#000,#000,#000,#000,#000,#000,#000,#203,#101,#000,#000,#000,#000,#000,#000,#000,#000,#000,#000,#001,#000,#000,#101,#000,#000,#000,#000,#000,#000,#000,#000,#000,#000,#000,#000,#000,#000,#000,#000,#001,#000,#101,#000,#000,#000,#000,#000,#000,#000,#000,#000,#000,#000,#000,#000,#000,#000,#000,#000,#202,#507,#03f,#08f,#08f,#09f,#0ef,#0af,#0df,#0df,#06f,#09f,#0bf,#0df,#0cf,#0ee,#0cf,#0df,#0bf,#0af,#0af,#0af,#05f,#0cf,#0af,#0df,#0af,#0bf,#0bf,#09f,#0ee,#0fb,#0ee,#0cf,#0ee,#0cf,#21e,#0df,#05f,#0ee,#0bf,#0df,#09f,#05f,#09f,#0ed,#30e,#50b,#50a,#30e,#04f,#01f,#50c)"></div>
<div class="r" style="top:397px;height:2px;background:linear-gradient(90deg,#000,#000,#000,#000,#000,#000,#000,#000,#000,#000,#000,#000,#000,#000,#000,#000,#000,#000,#000,#000,#000,#000,#000,#509,#509,#11f,#30e,#30e,#07f,#07f,#21e,#20e,#50a,#305,#000,#000,#000,#000,#000,#000,#000,#000,#000,#000,#000,#000,#000,#000,#000,#000,#000,#102,#40c,#01f,#09f,#01f,#0bf,#07f,#11f,#09f,#09f,#02f,#09f,#40c,#0af,#07f,#02f,#06f,#08f,#50a,#03f,#04f,#0bf,#0af,#0df,#0ef,#0df,#0df,#0cf,#0fc,#09f,#0cf,#0ee,#0fc,#0ef,#0df,#0df,#09f,#0ee,#0af,#0cf,#09f,#11f,#06f,#01f,#02f,#03f,#11e,#20e,#509,#508,#40d,#06f,#11e,#40d,#40c,#509,#509,#01f,#06f,#02f,#40d,#01f,#509,#40d,#30e,#40d,#50c,#50b,#40d,#50c,#30e,#40d,#50a,#40d,#30e,#50a,#40c,#01f,#50b,#30e,#30e,#507,#50a,#02f,#509,#40c,#40c,#30e,#01f,#40d,#50b,#30e,#20e,#01f,#30e,#40c,#40d,#40d,#50a,#509,#508,#40c,#40d,#50b,#50a,#407,#509,#40c,#50b,#50a,#40d,#03f,#40c,#0bf,#06f,#09f,#0cf,#08f,#20e,#03f,#0bf,#02f,#11f,#03f,#11f,#08f,#0cf,#0ef,#09f,#0af,#30e,#09f,#06f,#08f,#09f,#0af,#0ef,#09f,#0ee,#09f,#0ee,#08f,#0cf,#07f,#0ef,#0df,#0ef,#06f,#0af,#30e,#05f,#03f,#0ef,#0af,#09f,#20e,#0ee,#20e,#40d,#30e,#02f,#03f,#50b,#20e)"></div>
<div class="r" style="top:399px;height:2px;background:linear-gradient(90deg,#000,#000,#000,#000,#000,#000,#000,#000,#000,#101,#000,#000,#101,#101,#507,#509,#509,#50a,#50b,#40d,#50b,#20e,#50c,#0cf,#08f,#0bf,#0af,#0bf,#0bf,#0ee,#06f,#0df,#0ed,#05f,#20e,#01f,#40c,#40d,#11f,#50a,#02f,#50b,#50b,#20e,#50a,#30e,#40d,#20e,#04f,#20e,#50b,#01f,#0bf,#0af,#0ed,#07f,#0cf,#0bf,#0ef,#0ef,#0df,#0ef,#0cf,#0cf,#09f,#0ef,#09f,#0cf,#0ee,#07f,#0df,#0ef,#0cf,#0ef,#0df,#0cf,#0df,#06f,#0af,#0fc,#0df,#03f,#08f,#0fc,#0cf,#0df,#0cf,#09f,#0ef,#0ee,#0ef,#0cf,#0bf,#0ef,#0af,#05f,#05f,#02f,#08f,#06f,#09f,#11f,#0ed,#07f,#08f,#0cf,#04f,#0af,#0bf,#0df,#0cf,#04f,#0af,#04f,#04f,#0af,#0fc,#0df,#01f,#0bf,#08f,#0bf,#08f,#0df,#09f,#0af,#0bf,#0cf,#0fd,#07f,#08f,#0ef,#0cf,#08f,#0bf,#05f,#03f,#0cf,#0df,#0df,#0df,#0bf,#09f,#0af,#0df,#0cf,#0ee,#0af,#0af,#02f,#0bf,#0af,#0bf,#03f,#0bf,#0cf,#06f,#0df,#0af,#01f,#02f,#20e,#30e,#40d,#50c,#50a,#101,#508,#508,#304,#305,#508,#203,#001,#101,#304,#50a,#405,#509,#407,#508,#101,#102,#508,#405,#406,#507,#508,#40d,#30e,#50a,#50b,#406,#509,#50c,#50b,#50a,#509,#50b,#509,#508,#50a,#508,#50a,#50b,#406,#203,#508,#203,#000,#000,#203,#304,#102,#203)"></div>
<div class="r" style="top:401px;height:2px;background:linear-gradient(90deg,#50c,#40c,#50a,#30e,#40d,#40c,#50b,#508,#30e,#01f,#50b,#50a,#02f,#40d,#07f,#07f,#03f,#0cf,#08f,#0cf,#08f,#0af,#0bf,#0ee,#0ee,#09f,#0cf,#0ee,#04f,#05f,#06f,#03f,#0af,#08f,#04f,#20e,#07f,#0af,#04f,#02f,#0af,#05f,#0bf,#0bf,#0cf,#08f,#09f,#09f,#04f,#0af,#03f,#11f,#07f,#50b,#05f,#40d,#20e,#40d,#11f,#04f,#40c,#50b,#20e,#11f,#30e,#03f,#50b,#40d,#01f,#11f,#09f,#08f,#509,#40c,#50b,#40c,#40d,#30e,#50a,#40d,#50b,#50b,#50a,#30e,#40c,#509,#509,#305,#50a,#20e,#20e,#01f,#11e,#40c,#40d,#40d,#50a,#50a,#11e,#01f,#11f,#509,#02f,#01f,#50b,#40c,#50b,#40d,#20e,#09f,#30e,#30e,#04f,#40d,#03f,#02f,#03f,#04f,#01f,#40d,#05f,#11f,#05f,#09f,#06f,#05f,#02f,#04f,#08f,#20e,#11f,#03f,#02f,#05f,#07f,#20e,#06f,#01f,#0af,#0cf,#08f,#06f,#08f,#11f,#04f,#03f,#0af,#09f,#01f,#11f,#05f,#0af,#01f,#40c,#04f,#02f,#40c,#05f,#40c,#50a,#50b,#30e,#40c,#101,#000,#000,#000,#000,#000,#000,#000,#000,#000,#000,#000,#000,#000,#000,#000,#000,#000,#000,#000,#000,#000,#000,#000,#000,#000,#000,#000,#000,#000,#000,#000,#000,#000,#000,#000,#000,#000,#000,#000,#000,#000,#000,#000,#000,#000,#000,#000,#000,#000,#000,#000)"></div>
<div class="r" style="top:403px;height:2px;background:linear-gradient(90deg,#0cf,#0af,#06f,#02f,#06f,#05f,#06f,#11f,#07f,#01f,#03f,#02f,#08f,#11f,#02f,#06f,#06f,#06f,#0af,#0bf,#03f,#09f,#04f,#40d,#50c,#508,#50a,#509,#509,#304,#507,#507,#11e,#50a,#30e,#509,#11f,#06f,#01f,#21e,#30e,#40c,#20e,#07f,#05f,#20e,#40d,#03f,#11e,#30e,#30e,#509,#50b,#000,#000,#000,#000,#000,#000,#000,#000,#000,#000,#000,#000,#000,#000,#101,#102,#203,#405,#102,#000,#000,#000,#000,#000,#000,#000,#000,#000,#000,#000,#000,#000,#000,#000,#000,#000,#000,#000,#000,#000,#000,#102,#102,#000,#000,#406,#101,#001,#000,#203,#000,#101,#202,#000,#304,#203,#203,#102,#000,#203,#001,#202,#508,#305,#509,#305,#406,#508,#000,#304,#508,#509,#203,#101,#305,#509,#305,#101,#507,#203,#508,#203,#406,#203,#305,#50a,#509,#508,#405,#405,#000,#507,#203,#508,#507,#202,#305,#50a,#406,#507,#102,#203,#405,#101,#509,#000,#000,#000,#000,#000,#000,#000,#000,#000,#000,#000,#000,#000,#000,#000,#000,#000,#000,#000,#000,#000,#000,#000,#000,#000,#000,#000,#000,#000,#000,#000,#000,#000,#000,#000,#000,#000,#000,#000,#000,#000,#000,#000,#000,#000,#000,#000,#000,#000,#000,#000,#000,#000,#000,#000,#000,#000)"></div>
<div class="r" style="top:405px;height:2px;background:linear-gradient(90deg,#30e,#02f,#04f,#50a,#40d,#01f,#30e,#50b,#01f,#40d,#11f,#40d,#01f,#50a,#509,#508,#406,#30e,#40c,#50b,#203,#509,#405,#000,#000,#000,#000,#000,#000,#000,#000,#000,#000,#000,#000,#000,#305,#507,#406,#101,#304,#102,#102,#405,#304,#101,#202,#102,#101,#101,#000,#000,#000,#000,#000,#000,#000,#000,#000,#000,#000,#000,#000,#000,#000,#000,#000,#000,#000,#000,#000,#000,#000,#000,#000,#000,#000,#000,#000,#000,#000,#000,#000,#000,#000,#000,#000,#000,#000,#000,#000,#000,#000,#000,#000,#000,#000,#000,#000,#000,#000,#000,#000,#000,#000,#000,#000,#000,#000,#000,#000,#000,#000,#000,#000,#000,#000,#000,#000,#000,#000,#000,#000,#000,#000,#000,#000,#000,#000,#000,#000,#000,#000,#000,#000,#000,#000,#000,#000,#000,#000,#000,#000,#000,#000,#000,#000,#000,#000,#000,#000,#000,#000,#000,#000,#000,#000,#000,#000,#000,#000,#000,#000,#000,#000,#000,#000,#000,#000,#000,#000,#000,#000,#000,#000,#000,#000,#000,#000,#000,#000,#000,#000,#000,#000,#000,#000,#000,#000,#000,#000,#000,#000,#000,#000,#000,#000,#000,#000,#000,#000,#000,#000,#000,#000,#000,#000,#000,#000,#000,#000,#000,#000,#000,#000)"></div>
<div class="r" style="top:407px;height:2px;background:linear-gradient(90deg,#508,#102,#407,#000,#101,#304,#305,#102,#305,#304,#405,#101,#406,#000,#000,#000,#000,#000,#000,#000,#000,#000,#000,#000,#000,#000,#000,#000,#000,#000,#000,#000,#000,#000,#000,#000,#000,#000,#000,#000,#000,#000,#000,#000,#000,#000,#000,#000,#000,#000,#000,#000,#000,#000,#000,#000,#000,#000,#000,#000,#000,#000,#000,#000,#000,#000,#000,#000,#000,#000,#000,#000,#000,#000,#000,#000,#000,#000,#000,#000,#000,#000,#000,#000,#000,#000,#000,#000,#000,#000,#000,#000,#000,#000,#000,#000,#000,#000,#000,#000,#000,#000,#000,#000,#000,#000,#000,#000,#000,#000,#000,#000,#000,#000,#000,#000,#000,#000,#000,#000,#000,#000,#000,#000,#000,#000,#000,#000,#000,#000,#000,#000,#000,#000,#000,#000,#000,#000,#000,#000,#000,#000,#000,#000,#000,#000,#000,#000,#000,#000,#000,#000,#000,#000,#000,#000,#000,#000,#000,#000,#000,#000,#000,#000,#000,#000,#000,#000,#000,#000,#000,#000,#000,#000,#000,#000,#000,#000,#000,#000,#000,#000,#000,#000,#000,#000,#000,#000,#000,#000,#000,#000,#000,#000,#000,#000,#000,#000,#000,#000,#000,#000,#000,#000,#000,#000,#000,#000,#000,#000,#000,#000,#000,#000,#000)"></div>
<div class="r" style="top:409px;height:2px;background:#000"></div>
<div class="r" style="top:411px;height:1px;background:#000"></div>
<div class="r" style="top:412px;height:3px;background:#000"></div>
<div class="r" style="top:415px;height:2px;background:#000"></div>
<div class="r" style="top:417px;height:2px;background:#000"></div>
<div class="r" style="top:419px;height:3px;background:#000"></div>
<div class="k" style="left:91px;top:422px;width:430px;height:84px"></div>
<div class="r" style="top:422px;height:4px;background:linear-gradient(90deg,#0fb,#0fb,#0ee,#0ee,#0fa,#0ed,#0f9,#0f8,#0f9,#0f9,#0ef,#0ee,#0ee,#0fb,#0fb,#0fa,#0f7,#0fa,#0fc,#0fc,#0df,#0fb,#0f9,#0fb,#0f6,#0f7,#0fa,#0fc,#0fb,#0ee,#0fa,#0f8,#0f5,#0f4,#0f7,#0fa,#0fb,#0cf,#0fd,#0f9,#0f9,#0f7,#0f7,#0f8,#0fa,#0fc,#0cf,#0f9,#0f7,#0f5,#0f6,#0f6,#0fa,#0fd,#0ed,#0ed,#0fc,#0f8,#0f8,#0f8,#0f8,#0fa,#0ee,#0df,#0ee,#0f8,#0f4,#0f3,#0f5,#0fa,#0ed,#0ee,#0ee,#0f8,#0fa,#0f7,#0f7,#0f6,#0f9,#0ee,#0ee,#0ed,#0fb,#0f7,#0f3,#0f9,#0f8,#0f9,#0ed,#0bf,#0fd,#0fa,#0f5,#0f7,#0f9,#0f9,#0fa,#0cf,#0ed,#0f9,#0f8,#0f6,#0f7,#0fb,#0fb,#0ee,#0bf,#0fc,#0f8,#0f7,#0f7,#0f3,#0fb,#0fc,#0fc,#0ef,#0f9,#0f7,#0f6,#0f8,#0f7,#0f8,#0ef,#0ef,#0fc,#0f7,#0f4,#0f8,#0f8,#0f8,#0fb,#0ef,#0cf,#0ee,#0f7,#0f8,#0f5,#0f6,#0f8,#0ed,#0ee,#0ee,#0f9,#0f8,#0f7,#0f5,#0f6,#0fa,#0fb,#0ee,#0ee,#0fb,#0f7,#0f4,#0fa,#0f9,#0ee,#0ee,#0bf,#0fc,#0fa,#0f7,#0f6,#0f6,#0fa,#0fb,#0df,#0fc,#0f9,#0f7,#0f5,#0f4,#0f8,#0fc,#0fa,#0cf,#0fa,#0fa,#0f7,#0f6,#0f5,#0f9,#0fb,#0fd,#0fc,#0f9,#0f6,#0f5,#0f8,#0f9,#0fc,#0fd,#0ed,#0ed,#0fa,#0fa,#0f7,#0f9,#0fa,#0fa,#0ed,#0cf,#0fa,#0f7,#0f8,#0f9,#0f8,#0fa,#0fc,#0ee,#0cf,#0fa,#0f8,#0fa,#0f6)"></div>
<div class="r" style="top:426px;height:4px;background:linear-gradient(90deg,#0fa,#0fc,#0fb,#0df,#0fa,#0ee,#0fc,#0fc,#0fc,#0fa,#0fc,#0fc,#0ee,#0fd,#0fc,#0fa,#0fc,#0fc,#0ed,#08f,#09f,#0fc,#0fc,#0fc,#0fa,#0fa,#0fb,#0ee,#0ee,#0ee,#0ed,#0fa,#0f9,#0f9,#0fa,#0fb,#0ee,#0cf,#0ee,#0fc,#0fb,#0f9,#0f9,#0f9,#0fc,#0df,#0df,#0fc,#0fb,#0f9,#0fa,#0f8,#0ed,#0ef,#0df,#0df,#0fc,#0fc,#0fb,#0fa,#0fb,#0fc,#0df,#0ef,#0ee,#0fa,#0f9,#0f7,#0f7,#0fc,#0cf,#0ee,#0df,#0fb,#0ed,#0fa,#0fb,#0fa,#0fc,#0df,#0cf,#0ee,#0ee,#0f8,#0f8,#0fc,#0f9,#0fc,#0ee,#0cf,#0ef,#0ed,#0f9,#0fb,#0f9,#0fb,#0fc,#0cf,#0ee,#0fd,#0f9,#0fb,#0fa,#0fd,#0ee,#0ef,#0bf,#0cf,#0f9,#0f8,#0f9,#0f8,#0fb,#0ee,#0ee,#0bf,#0fc,#0f9,#0fa,#0f9,#0fa,#0fb,#0df,#0ee,#0ef,#0fb,#0f9,#0fb,#0f8,#0fb,#0ed,#0ef,#0cf,#0ee,#0fb,#0fa,#0f8,#0fa,#0fa,#0ee,#0fc,#0ee,#0fa,#0fa,#0f8,#0f9,#0fa,#0ed,#0ef,#0cf,#0cf,#0fa,#0fb,#0f8,#0f9,#0ed,#0ee,#0df,#0af,#0fc,#0fc,#0f9,#0f8,#0f9,#0fb,#0df,#0bf,#0ed,#0fb,#0ed,#0fa,#0f6,#0fb,#0ee,#0ee,#0df,#0fc,#0fc,#0fb,#0f8,#0f8,#0ee,#0ee,#0df,#0ed,#0fa,#0f9,#0f9,#0fa,#0f9,#0fd,#0ee,#0ef,#0ef,#0fb,#0ee,#0fa,#0fb,#0fa,#0fc,#0cf,#0cf,#0fc,#0fb,#0fa,#0fc,#0fa,#0ed,#0ee,#0df,#0cf,#0fc,#0ed,#0fc,#0f9)"></div>
<div class="r" style="top:430px;height:4px;background:linear-gradient(90deg,#0af,#0df,#0af,#0ef,#0fc,#0ee,#0fb,#0cf,#0ee,#0df,#0bf,#0fd,#0cf,#0bf,#0af,#0bf,#0fa,#0df,#0bf,#0ef,#0bf,#0fc,#0ed,#0ee,#0fa,#0ee,#0df,#0df,#0cf,#0cf,#0df,#0fb,#0ee,#0fc,#0ed,#0cf,#0ee,#0af,#0cf,#0ed,#0fc,#0fc,#0ee,#0fb,#0df,#0cf,#0af,#0ee,#0ed,#0fa,#0ee,#0fb,#0ef,#0df,#0cf,#0ef,#0cf,#0ef,#0fb,#0ed,#0ed,#0ee,#0cf,#0bf,#0df,#0fb,#0fa,#0fa,#0fc,#0ef,#0df,#0df,#0cf,#0ee,#0ef,#0ee,#0ed,#0fa,#0ee,#0cf,#0bf,#0df,#0ee,#0fa,#0f9,#0ee,#0ed,#0ee,#0ef,#0af,#0bf,#0fd,#0fb,#0fc,#0fc,#0ef,#0ef,#09f,#09f,#0ee,#0ed,#0ed,#0ee,#0ed,#0cf,#0df,#08f,#0bf,#0ed,#0fb,#0fb,#0fa,#0fd,#0cf,#0ef,#09f,#0ed,#0fb,#0fd,#0fa,#0ed,#0fc,#0bf,#0df,#0df,#0fc,#0fc,#0ed,#0ed,#0ee,#0ee,#0cf,#07f,#0df,#0ed,#0ee,#0fa,#0ed,#0fd,#0ef,#0ee,#0bf,#0df,#0ed,#0ed,#0fc,#0ed,#0df,#0ee,#09f,#0cf,#0ee,#0fc,#0fa,#0fc,#0ee,#0df,#0bf,#07f,#0ee,#0ef,#0fb,#0fb,#0fc,#0ef,#0cf,#0bf,#0bf,#0ed,#0ee,#0fa,#0f9,#0ed,#0df,#0ee,#08f,#0ee,#0fc,#0fc,#0ed,#0fc,#0cf,#0ee,#0df,#0cf,#0ed,#0fc,#0fb,#0fc,#0ee,#0ee,#0ee,#0bf,#0cf,#0fc,#0ef,#0ef,#0df,#0fc,#0ed,#0af,#09f,#0cf,#0fd,#0ed,#0ee,#0fc,#0ef,#0df,#0df,#0bf,#0ee,#0ed,#0ee,#0ee)"></div>
<div class="r" style="top:434px;height:4px;background:linear-gradient(90deg,#08f,#0af,#07f,#03f,#0cf,#0df,#0df,#0bf,#0ef,#0bf,#0bf,#0df,#07f,#0bf,#0df,#0af,#0ee,#0ef,#08f,#06f,#09f,#08f,#0ef,#0ee,#0cf,#0ef,#0bf,#0bf,#0cf,#09f,#0af,#0ed,#0ee,#0ee,#0df,#0df,#0cf,#06f,#0af,#0ee,#0ee,#0ee,#0ee,#0ef,#0af,#0cf,#02f,#0af,#0df,#0df,#0ef,#0df,#0af,#0af,#09f,#0bf,#0cf,#0ee,#0ee,#0df,#0df,#0cf,#08f,#05f,#0af,#0df,#0fc,#0ed,#0ee,#0bf,#0bf,#0cf,#09f,#0df,#0df,#0ee,#0df,#0ee,#0df,#0bf,#09f,#0bf,#0df,#0ed,#0ee,#0ef,#0ee,#0ee,#0bf,#07f,#09f,#0cf,#0ee,#0ee,#0ed,#0cf,#0af,#06f,#08f,#0df,#0ed,#0df,#0cf,#0df,#0bf,#0af,#05f,#0af,#0df,#0df,#0df,#0fc,#0bf,#0bf,#0af,#05f,#0bf,#0ee,#0ee,#0ed,#0ee,#0ee,#09f,#0af,#0af,#0ee,#0fc,#0ee,#0ed,#0cf,#09f,#0af,#05f,#09f,#0cf,#0ee,#0fc,#0ed,#0cf,#0cf,#0af,#08f,#0df,#0ed,#0ee,#0ed,#0ed,#0bf,#0cf,#08f,#08f,#0af,#0ef,#0ed,#0bf,#0bf,#0bf,#08f,#08f,#0af,#0df,#0df,#0ed,#0ee,#0bf,#0af,#07f,#09f,#0bf,#0df,#0ed,#0fc,#0ee,#0cf,#0cf,#07f,#0bf,#0ee,#0ee,#0ee,#0ed,#0af,#0af,#0bf,#09f,#0df,#0ee,#0ed,#0df,#0ee,#0cf,#0df,#09f,#0bf,#0ef,#0ef,#0ef,#0bf,#0ef,#0df,#0bf,#04f,#0cf,#0cf,#0df,#0cf,#0ee,#0cf,#0cf,#0bf,#09f,#0ef,#0bf,#0af,#0cf)"></div>
<div class="r" style="top:438px;height:4px;background:linear-gradient(90deg,#0df,#09f,#06f,#40c,#08f,#09f,#0bf,#0cf,#03f,#04f,#06f,#05f,#0cf,#0bf,#11e,#0df,#08f,#05f,#07f,#11f,#02f,#08f,#08f,#06f,#0ee,#0df,#0af,#08f,#07f,#08f,#09f,#0df,#0df,#0ee,#0cf,#08f,#0bf,#04f,#06f,#0af,#0bf,#0cf,#0cf,#0df,#09f,#09f,#11f,#0bf,#0af,#0bf,#0cf,#0df,#08f,#09f,#07f,#07f,#09f,#09f,#0cf,#0cf,#0cf,#0bf,#07f,#11f,#08f,#0af,#0ef,#0ed,#0df,#09f,#09f,#07f,#06f,#0af,#08f,#0cf,#0bf,#0df,#0af,#07f,#02f,#0af,#0af,#0ee,#0ed,#0cf,#0bf,#0bf,#08f,#01f,#07f,#09f,#0ef,#0af,#0bf,#0bf,#07f,#11f,#02f,#08f,#0df,#0cf,#0bf,#09f,#0af,#06f,#20e,#08f,#0cf,#0ef,#0ef,#0df,#08f,#07f,#06f,#11e,#0bf,#0df,#0ee,#0df,#0bf,#0af,#09f,#01f,#05f,#0bf,#0cf,#0bf,#0ef,#0bf,#08f,#07f,#01f,#09f,#0bf,#0af,#0ed,#0cf,#0af,#09f,#09f,#06f,#0bf,#0df,#0ed,#0cf,#0df,#0af,#08f,#11f,#07f,#08f,#0df,#0ef,#0cf,#09f,#07f,#08f,#03f,#0af,#0af,#0df,#0cf,#0cf,#08f,#07f,#02f,#08f,#08f,#0cf,#0cf,#0df,#0af,#0af,#09f,#01f,#09f,#0cf,#0bf,#0df,#0ef,#0bf,#08f,#08f,#08f,#0bf,#0cf,#0cf,#0ef,#0cf,#0af,#0bf,#05f,#04f,#0bf,#08f,#0cf,#0af,#0af,#0af,#02f,#01f,#0af,#0cf,#0df,#0af,#0cf,#0cf,#08f,#04f,#02f,#09f,#08f,#09f,#0bf)"></div>
<div class="r" style="top:442px;height:3px;background:linear-gradient(90deg,#07f,#01f,#06f,#507,#08f,#04f,#08f,#05f,#50b,#02f,#50a,#09f,#07f,#05f,#21e,#08f,#08f,#07f,#01f,#04f,#30e,#05f,#09f,#03f,#0bf,#0cf,#05f,#05f,#07f,#02f,#08f,#0af,#0bf,#0af,#07f,#09f,#08f,#40d,#02f,#09f,#0bf,#0bf,#09f,#0af,#06f,#02f,#40d,#05f,#08f,#0bf,#08f,#0cf,#04f,#02f,#01f,#01f,#08f,#07f,#0bf,#09f,#09f,#08f,#04f,#11f,#04f,#0bf,#0bf,#0cf,#0df,#06f,#03f,#03f,#11f,#0af,#07f,#0bf,#09f,#0bf,#09f,#07f,#01f,#06f,#05f,#0af,#0df,#0af,#09f,#09f,#03f,#50b,#07f,#07f,#0af,#0af,#0af,#09f,#07f,#11f,#01f,#06f,#0cf,#09f,#0cf,#07f,#05f,#03f,#40d,#11f,#0af,#0af,#0af,#0df,#08f,#03f,#02f,#30e,#09f,#0af,#0bf,#0af,#0af,#0bf,#04f,#01f,#04f,#08f,#0df,#0bf,#0cf,#09f,#04f,#04f,#30e,#07f,#08f,#08f,#0ef,#0cf,#09f,#03f,#05f,#11f,#08f,#09f,#0cf,#0af,#0cf,#06f,#04f,#40d,#03f,#08f,#0af,#0bf,#09f,#09f,#03f,#02f,#30e,#08f,#05f,#0bf,#0af,#0bf,#07f,#04f,#40d,#03f,#08f,#09f,#0cf,#0cf,#0af,#05f,#09f,#30e,#08f,#0af,#09f,#0cf,#0cf,#09f,#06f,#06f,#11f,#08f,#09f,#0cf,#09f,#0af,#08f,#06f,#02f,#04f,#09f,#09f,#08f,#07f,#0af,#08f,#02f,#11e,#03f,#08f,#0cf,#06f,#0af,#07f,#08f,#11f,#30e,#06f,#08f,#07f,#09f)"></div>
<div class="r" style="top:445px;height:3px;background:linear-gradient(90deg,#07f,#02f,#07f,#203,#08f,#02f,#11f,#04f,#40c,#06f,#509,#11f,#04f,#04f,#40c,#0bf,#09f,#04f,#30e,#21e,#509,#20e,#03f,#06f,#0af,#08f,#02f,#02f,#02f,#01f,#03f,#09f,#08f,#0bf,#06f,#07f,#04f,#30e,#02f,#05f,#08f,#09f,#08f,#08f,#04f,#02f,#50b,#04f,#07f,#0af,#08f,#08f,#02f,#03f,#20e,#01f,#05f,#04f,#08f,#05f,#08f,#05f,#20e,#30e,#01f,#07f,#0bf,#0cf,#09f,#03f,#11f,#01f,#30e,#08f,#06f,#07f,#07f,#0bf,#05f,#02f,#40d,#04f,#01f,#0bf,#09f,#06f,#09f,#06f,#11f,#50b,#04f,#04f,#08f,#06f,#07f,#05f,#01f,#40c,#20e,#03f,#09f,#08f,#08f,#03f,#05f,#03f,#50b,#11f,#08f,#09f,#09f,#0af,#04f,#01f,#02f,#40c,#05f,#07f,#09f,#07f,#08f,#09f,#20e,#40d,#30e,#04f,#0bf,#06f,#09f,#06f,#05f,#01f,#50b,#02f,#06f,#07f,#09f,#09f,#05f,#03f,#11f,#11f,#03f,#09f,#0af,#0af,#05f,#05f,#04f,#30e,#01f,#04f,#08f,#0cf,#07f,#01f,#02f,#01f,#50a,#05f,#02f,#08f,#07f,#08f,#04f,#01f,#30e,#20e,#04f,#06f,#07f,#09f,#09f,#06f,#04f,#40c,#01f,#09f,#08f,#0bf,#0af,#05f,#01f,#01f,#20e,#07f,#09f,#06f,#06f,#08f,#05f,#06f,#30e,#01f,#08f,#06f,#06f,#06f,#08f,#05f,#01f,#40d,#11f,#07f,#07f,#04f,#08f,#06f,#02f,#30e,#50b,#07f,#07f,#05f,#07f)"></div>
<div class="r" style="top:448px;height:3px;background:linear-gradient(90deg,#06f,#05f,#30e,#305,#11e,#30e,#20e,#08f,#508,#11f,#50b,#03f,#04f,#01f,#50a,#08f,#07f,#20e,#50a,#40c,#50b,#21e,#04f,#05f,#0af,#07f,#03f,#01f,#40d,#30e,#01f,#08f,#05f,#06f,#04f,#20e,#02f,#50b,#11f,#05f,#03f,#08f,#07f,#07f,#01f,#01f,#50b,#01f,#05f,#08f,#08f,#05f,#03f,#01f,#40d,#40d,#02f,#05f,#03f,#05f,#08f,#03f,#40d,#50c,#20e,#02f,#06f,#08f,#06f,#03f,#11e,#11f,#30e,#04f,#11e,#08f,#05f,#07f,#05f,#02f,#50a,#01f,#03f,#07f,#08f,#06f,#05f,#06f,#20e,#50a,#03f,#03f,#07f,#02f,#06f,#05f,#03f,#40d,#50b,#21e,#06f,#04f,#04f,#02f,#21e,#01f,#50b,#40c,#06f,#07f,#05f,#08f,#11f,#20e,#40d,#50b,#01f,#08f,#08f,#06f,#06f,#05f,#11f,#40d,#40d,#05f,#05f,#06f,#05f,#04f,#02f,#40e,#50b,#21e,#04f,#02f,#0af,#06f,#03f,#11e,#40d,#40c,#05f,#07f,#09f,#08f,#06f,#03f,#20e,#50b,#21e,#04f,#05f,#08f,#07f,#02f,#02f,#21e,#50b,#03f,#03f,#07f,#07f,#09f,#04f,#03f,#509,#50c,#02f,#03f,#0af,#0af,#04f,#11f,#03f,#50a,#04f,#04f,#06f,#08f,#06f,#04f,#01f,#01f,#20e,#04f,#03f,#07f,#06f,#07f,#02f,#01f,#40c,#11f,#03f,#05f,#04f,#02f,#03f,#11f,#20e,#50a,#20e,#04f,#07f,#02f,#05f,#02f,#02f,#40d,#40c,#04f,#01f,#03f,#03f)"></div>
<div class="r" style="top:451px;height:3px;background:linear-gradient(90deg,#01f,#40d,#11e,#001,#20e,#40d,#01f,#07f,#203,#30e,#509,#40c,#30e,#01f,#50b,#01f,#20e,#11f,#50b,#01f,#507,#20e,#01f,#04f,#02f,#03f,#02f,#30e,#40d,#509,#20e,#04f,#04f,#02f,#20e,#20e,#01f,#50b,#50b,#01f,#03f,#03f,#04f,#03f,#01f,#50c,#509,#11f,#02f,#03f,#04f,#02f,#30e,#11e,#50a,#50b,#40d,#02f,#01f,#01f,#04f,#11e,#40c,#509,#30e,#03f,#08f,#05f,#05f,#11f,#20e,#40c,#50a,#11f,#11f,#11f,#11e,#03f,#01f,#20e,#509,#40c,#20e,#05f,#06f,#11f,#04f,#03f,#40d,#407,#30e,#11e,#04f,#01f,#01f,#11f,#20e,#50a,#509,#20e,#02f,#02f,#01f,#20e,#30e,#30e,#508,#50b,#02f,#06f,#02f,#06f,#02f,#30e,#50b,#508,#02f,#03f,#06f,#02f,#04f,#02f,#50b,#50a,#50c,#11f,#06f,#01f,#01f,#21e,#40e,#40c,#507,#20e,#11f,#02f,#09f,#02f,#11e,#30e,#50b,#50b,#03f,#03f,#08f,#07f,#06f,#20e,#40d,#50a,#40d,#11f,#05f,#06f,#02f,#30e,#30e,#40d,#508,#11f,#20e,#03f,#06f,#06f,#11f,#40d,#50a,#50b,#11f,#03f,#07f,#08f,#02f,#21e,#01f,#509,#20e,#02f,#01f,#02f,#03f,#02f,#11e,#40c,#50a,#02f,#03f,#03f,#03f,#04f,#30e,#20e,#509,#40c,#01f,#01f,#02f,#11e,#21e,#20e,#40c,#508,#40d,#04f,#05f,#01f,#04f,#01f,#30e,#509,#508,#01f,#02f,#01f,#05f)"></div>
<div class="r" style="top:454px;height:4px;background:linear-gradient(90deg,#40d,#50b,#20e,#000,#40c,#30e,#11e,#50c,#304,#50a,#305,#30e,#30e,#11e,#509,#11f,#40d,#20e,#50b,#509,#304,#40d,#30e,#50b,#20e,#11f,#40c,#40d,#509,#508,#20e,#03f,#02f,#03f,#20e,#30e,#30e,#507,#50a,#30e,#20e,#04f,#11f,#01f,#40c,#509,#305,#50c,#01f,#05f,#01f,#20e,#20e,#30e,#507,#509,#40d,#01f,#04f,#20e,#11f,#30e,#50b,#203,#50c,#02f,#06f,#08f,#02f,#40d,#40d,#509,#508,#21e,#20e,#04f,#01f,#04f,#30e,#40c,#406,#509,#30e,#04f,#02f,#01f,#04f,#30e,#509,#304,#40d,#30e,#03f,#03f,#01f,#20e,#50b,#305,#406,#40d,#01f,#02f,#01f,#11e,#50c,#50b,#304,#50a,#02f,#04f,#02f,#05f,#30e,#40d,#509,#203,#40c,#02f,#05f,#01f,#11f,#02f,#50b,#508,#509,#02f,#04f,#03f,#06f,#20e,#21e,#50b,#406,#40d,#21e,#20e,#05f,#04f,#20e,#40d,#50a,#507,#11e,#03f,#05f,#06f,#01f,#40c,#50b,#305,#50a,#30e,#02f,#05f,#01f,#20e,#50b,#50a,#102,#40c,#01f,#02f,#02f,#05f,#40d,#40d,#305,#507,#40c,#30e,#06f,#04f,#01f,#40c,#30e,#305,#50b,#01f,#01f,#04f,#04f,#11e,#50b,#509,#507,#20e,#02f,#05f,#02f,#20e,#30e,#50b,#508,#50a,#11e,#11f,#20e,#11f,#02f,#21e,#50a,#305,#40d,#11f,#01f,#01f,#03f,#01f,#40d,#508,#507,#30e,#30e,#20e,#03f)"></div>
<div class="r" style="top:458px;height:2px;background:linear-gradient(90deg,#50a,#50b,#40c,#000,#50b,#30e,#02f,#01f,#000,#40d,#101,#509,#509,#50c,#509,#11f,#20e,#50b,#509,#507,#000,#40c,#50b,#11e,#11e,#01f,#40d,#50a,#406,#202,#40c,#11f,#30e,#02f,#40d,#50b,#50a,#102,#507,#30e,#30e,#02f,#40d,#11e,#40d,#507,#000,#50b,#11f,#04f,#20e,#20e,#50a,#50b,#102,#305,#50b,#20e,#11f,#11f,#20e,#40c,#508,#000,#507,#40d,#02f,#02f,#02f,#40d,#509,#507,#304,#40c,#40c,#02f,#20e,#01f,#40c,#50a,#101,#507,#50b,#01f,#01f,#11f,#30e,#40d,#508,#000,#50a,#40e,#20e,#20e,#30e,#40d,#50a,#101,#101,#40d,#20e,#01f,#30e,#50c,#50a,#50a,#000,#304,#20e,#01f,#01f,#01f,#40c,#50a,#507,#000,#40c,#20e,#03f,#20e,#01f,#20e,#50a,#101,#304,#20e,#02f,#11f,#03f,#40d,#50a,#507,#001,#507,#40c,#11f,#02f,#04f,#30e,#50a,#405,#203,#40c,#30e,#04f,#02f,#11f,#50a,#50b,#000,#507,#40d,#01f,#02f,#40d,#40d,#50b,#507,#000,#509,#40d,#11f,#01f,#02f,#40d,#50b,#102,#203,#30e,#20e,#01f,#03f,#30e,#40c,#50a,#000,#509,#20e,#02f,#03f,#03f,#50c,#50b,#405,#203,#40c,#30e,#02f,#03f,#11e,#40c,#50b,#202,#406,#30e,#40e,#21e,#40d,#40c,#40c,#507,#001,#50b,#40d,#02f,#30e,#01f,#21e,#50c,#304,#001,#50c,#30e,#30e,#11f)"></div>
<div class="r" style="top:460px;height:3px;background:linear-gradient(90deg,#000,#000,#000,#000,#000,#000,#101,#203,#000,#102,#000,#000,#000,#000,#000,#202,#101,#101,#000,#000,#000,#000,#000,#000,#000,#203,#001,#000,#000,#000,#000,#203,#203,#305,#102,#000,#000,#000,#000,#001,#203,#407,#202,#102,#000,#000,#000,#000,#000,#204,#203,#203,#000,#000,#000,#000,#000,#203,#203,#102,#101,#000,#000,#000,#000,#000,#305,#304,#304,#000,#000,#000,#000,#000,#000,#304,#203,#304,#000,#000,#000,#000,#000,#405,#406,#202,#101,#000,#000,#000,#000,#000,#204,#101,#203,#000,#000,#000,#000,#000,#202,#304,#203,#102,#000,#000,#000,#000,#102,#304,#406,#405,#000,#000,#000,#000,#000,#203,#304,#203,#202,#101,#000,#000,#000,#000,#304,#304,#203,#000,#000,#000,#000,#000,#000,#304,#507,#204,#000,#000,#000,#000,#000,#203,#305,#405,#202,#000,#000,#000,#000,#000,#203,#406,#204,#000,#000,#000,#000,#000,#102,#203,#304,#203,#000,#000,#000,#000,#000,#203,#304,#305,#101,#000,#000,#000,#000,#101,#203,#305,#203,#000,#000,#000,#000,#001,#203,#204,#203,#102,#000,#000,#000,#000,#000,#000,#101,#101,#000,#000,#000,#000,#000,#101,#203,#202,#202,#000,#000,#000,#000,#000,#102,#101,#102)"></div>
<div class="r" style="top:463px;height:2px;background:linear-gradient(90deg,#509,#50c,#50b,#507,#40c,#50b,#30e,#30e,#50b,#30e,#508,#509,#406,#509,#50b,#30e,#50b,#50a,#507,#509,#406,#40c,#50a,#40d,#40c,#20e,#50a,#50b,#406,#507,#509,#11e,#01f,#01f,#40c,#40c,#50a,#204,#507,#50b,#30e,#02f,#40c,#40d,#50b,#507,#203,#509,#30e,#20e,#30e,#30e,#50a,#50a,#507,#406,#50a,#30e,#01f,#40d,#40d,#40c,#406,#406,#507,#40c,#01f,#05f,#03f,#50a,#509,#509,#507,#40c,#30e,#20e,#01f,#01f,#50b,#508,#304,#508,#509,#01f,#05f,#20e,#11e,#50b,#508,#102,#50a,#40c,#30e,#20e,#11f,#50b,#509,#203,#305,#50a,#30e,#30e,#11e,#30e,#509,#509,#304,#507,#40c,#30e,#20e,#03f,#40c,#50a,#405,#203,#50a,#20e,#21e,#11e,#20e,#40d,#507,#507,#405,#40c,#01f,#30e,#30e,#30e,#509,#508,#304,#509,#40c,#20e,#04f,#20e,#50b,#50a,#507,#405,#50a,#30e,#02f,#01f,#30e,#509,#509,#406,#406,#40c,#20e,#03f,#40d,#50b,#508,#406,#203,#509,#50b,#11f,#20e,#01f,#40c,#50a,#204,#305,#40c,#30e,#03f,#01f,#40c,#50b,#509,#304,#509,#20e,#20e,#03f,#11f,#40c,#509,#507,#305,#50b,#11f,#11f,#02f,#40d,#50a,#509,#507,#508,#50c,#50b,#40d,#40c,#30e,#50b,#406,#305,#50a,#40d,#30e,#40c,#30e,#40d,#509,#305,#406,#50a,#50b,#30e,#01f)"></div>
<div class="r" style="top:465px;height:3px;background:linear-gradient(90deg,#509,#50a,#40d,#50b,#40c,#50b,#40d,#20e,#20e,#509,#509,#508,#50b,#40d,#30e,#30e,#01f,#50b,#40c,#50b,#304,#508,#50a,#50b,#30e,#20e,#40c,#509,#509,#406,#50a,#11f,#11f,#04f,#40d,#50a,#50b,#305,#509,#30e,#11f,#04f,#30e,#20e,#40c,#508,#203,#50a,#30e,#02f,#11e,#20e,#40c,#509,#507,#508,#40d,#30e,#03f,#11e,#30e,#40c,#508,#406,#509,#11e,#01f,#02f,#03f,#50c,#50a,#507,#407,#50b,#40c,#20e,#01f,#01f,#40d,#509,#304,#508,#50a,#11f,#02f,#40d,#11f,#40c,#507,#203,#50a,#40c,#02f,#21e,#11e,#40c,#50a,#406,#305,#50a,#11f,#11e,#01f,#30e,#50b,#50a,#304,#508,#30e,#02f,#02f,#04f,#50c,#509,#507,#203,#50a,#21e,#11e,#21e,#20e,#30e,#508,#406,#406,#40d,#11f,#21e,#03f,#40d,#50b,#508,#406,#509,#40c,#01f,#04f,#01f,#50b,#50a,#509,#507,#50c,#01f,#03f,#03f,#01f,#40c,#509,#406,#507,#40c,#30e,#03f,#01f,#40d,#509,#508,#203,#509,#30e,#02f,#01f,#02f,#40c,#50b,#305,#508,#50c,#30e,#03f,#03f,#11f,#50c,#50a,#203,#50a,#40c,#11f,#11e,#01f,#40d,#50b,#507,#509,#40d,#11f,#03f,#01f,#40d,#50b,#509,#406,#406,#40c,#30e,#30e,#11f,#40d,#40c,#508,#406,#508,#40d,#01f,#40d,#01f,#30e,#50a,#508,#305,#40c,#40c,#40d,#11e)"></div>
<div class="r" style="top:468px;height:2px;background:linear-gradient(90deg,#30e,#509,#50b,#508,#50a,#509,#40d,#01f,#40d,#40c,#50a,#50b,#50a,#50b,#40d,#20e,#01f,#30e,#509,#50a,#508,#50b,#40d,#30e,#01f,#30e,#40c,#509,#508,#507,#50a,#40d,#30e,#02f,#40c,#50b,#50a,#204,#507,#30e,#30e,#01f,#20e,#40d,#50b,#508,#305,#509,#30e,#03f,#40d,#40d,#50a,#509,#304,#406,#509,#20e,#21e,#11f,#40c,#50a,#406,#406,#508,#50c,#03f,#05f,#03f,#50b,#509,#508,#305,#50b,#50c,#30e,#01f,#01f,#50b,#509,#405,#507,#50a,#02f,#01f,#11e,#40c,#50b,#507,#305,#509,#30e,#01f,#11f,#30e,#50a,#50a,#305,#406,#509,#30e,#01f,#20e,#40d,#50b,#508,#203,#508,#40c,#11f,#11e,#01f,#50b,#50a,#406,#102,#50a,#30e,#02f,#11e,#30e,#40d,#509,#204,#305,#40d,#02f,#30e,#30e,#30e,#509,#508,#305,#509,#40d,#40d,#03f,#02f,#40c,#50a,#509,#407,#50b,#20e,#04f,#03f,#40d,#50b,#508,#203,#507,#40c,#01f,#01f,#40e,#50a,#508,#406,#204,#509,#50b,#30e,#11f,#02f,#50a,#50a,#204,#305,#50b,#30e,#01f,#02f,#40d,#50a,#508,#304,#509,#40d,#20e,#01f,#02f,#40c,#508,#405,#507,#50b,#40d,#01f,#20e,#40d,#509,#509,#508,#406,#50c,#40d,#40d,#40d,#40d,#50b,#304,#304,#508,#40c,#11f,#40d,#30e,#50a,#509,#406,#305,#50a,#40d,#30e,#30e)"></div>
<div class="r" style="top:470px;height:2px;background:linear-gradient(90deg,#203,#102,#000,#101,#000,#102,#102,#001,#203,#304,#102,#000,#000,#000,#203,#202,#305,#101,#000,#000,#000,#101,#102,#102,#305,#305,#101,#000,#000,#000,#101,#304,#304,#305,#304,#000,#101,#000,#000,#101,#305,#507,#304,#305,#101,#000,#000,#000,#203,#304,#203,#406,#101,#000,#000,#000,#102,#203,#304,#304,#202,#101,#000,#000,#000,#203,#508,#507,#305,#102,#000,#000,#000,#000,#101,#407,#305,#405,#202,#000,#000,#000,#102,#406,#508,#304,#305,#101,#000,#000,#000,#202,#406,#305,#405,#101,#000,#000,#000,#101,#304,#305,#204,#102,#101,#000,#000,#000,#203,#305,#304,#407,#102,#000,#000,#000,#101,#406,#406,#406,#304,#304,#000,#000,#000,#204,#507,#406,#507,#203,#102,#000,#000,#000,#203,#204,#507,#406,#102,#001,#000,#000,#203,#305,#508,#407,#405,#102,#000,#000,#000,#102,#405,#406,#203,#203,#000,#000,#000,#000,#203,#304,#507,#405,#203,#001,#000,#000,#101,#305,#507,#508,#405,#001,#101,#000,#001,#203,#304,#508,#406,#202,#001,#000,#000,#202,#305,#406,#407,#304,#000,#102,#000,#000,#203,#203,#305,#305,#203,#101,#000,#000,#000,#304,#507,#304,#305,#203,#000,#000,#000,#001,#203,#203,#507)"></div>
<div class="r" style="top:472px;height:3px;background:linear-gradient(90deg,#203,#101,#101,#000,#202,#101,#305,#406,#203,#102,#000,#000,#000,#202,#000,#305,#406,#000,#000,#101,#000,#203,#203,#203,#406,#304,#101,#101,#000,#000,#101,#304,#406,#406,#203,#000,#101,#000,#000,#203,#204,#405,#203,#204,#000,#000,#000,#000,#304,#507,#305,#406,#000,#101,#000,#000,#101,#304,#508,#203,#406,#202,#000,#000,#000,#203,#407,#508,#507,#102,#000,#000,#000,#101,#204,#304,#304,#305,#101,#000,#000,#000,#001,#406,#406,#304,#203,#202,#000,#000,#000,#203,#305,#406,#304,#000,#101,#000,#000,#001,#203,#405,#305,#102,#000,#000,#000,#000,#304,#304,#406,#508,#102,#001,#000,#000,#101,#203,#507,#305,#305,#304,#000,#000,#000,#102,#305,#407,#405,#203,#000,#000,#000,#000,#102,#406,#508,#406,#101,#101,#000,#000,#101,#305,#508,#508,#305,#000,#000,#000,#000,#102,#405,#508,#304,#101,#000,#000,#000,#000,#102,#203,#305,#405,#101,#101,#000,#000,#101,#203,#509,#509,#406,#203,#203,#000,#000,#406,#305,#509,#508,#304,#000,#000,#000,#203,#507,#508,#406,#406,#001,#000,#000,#102,#406,#304,#304,#305,#102,#204,#000,#000,#000,#203,#507,#304,#407,#406,#101,#000,#000,#102,#305,#304,#405)"></div>
<div class="r" style="top:475px;height:2px;background:linear-gradient(90deg,#000,#000,#000,#000,#000,#000,#000,#000,#000,#000,#000,#000,#000,#000,#000,#000,#000,#000,#000,#000,#000,#000,#000,#000,#000,#000,#000,#000,#000,#000,#000,#000,#102,#102,#000,#000,#000,#000,#000,#000,#000,#101,#000,#000,#000,#000,#000,#000,#000,#203,#000,#000,#000,#000,#000,#000,#000,#000,#102,#102,#101,#000,#000,#000,#000,#000,#203,#305,#101,#000,#000,#000,#000,#000,#001,#101,#101,#001,#000,#000,#000,#000,#000,#102,#304,#101,#101,#000,#000,#000,#000,#000,#102,#001,#000,#000,#000,#000,#000,#000,#000,#001,#102,#000,#000,#000,#000,#000,#000,#102,#102,#203,#000,#000,#000,#000,#000,#000,#203,#101,#000,#000,#000,#000,#000,#000,#101,#101,#202,#000,#000,#000,#000,#000,#000,#001,#204,#102,#000,#000,#000,#000,#000,#102,#204,#203,#000,#000,#000,#000,#000,#000,#000,#203,#000,#000,#000,#000,#000,#000,#000,#202,#102,#102,#102,#101,#102,#101,#203,#305,#509,#509,#305,#305,#507,#000,#305,#507,#507,#508,#508,#305,#202,#304,#102,#202,#508,#507,#406,#405,#000,#203,#203,#305,#406,#507,#304,#406,#102,#304,#000,#101,#101,#203,#406,#203,#406,#406,#101,#101,#000,#101,#101,#204,#406)"></div>
<div class="r" style="top:477px;height:2px;background:linear-gradient(90deg,#000,#000,#000,#000,#000,#000,#000,#000,#000,#000,#000,#000,#000,#000,#000,#000,#000,#000,#000,#000,#000,#000,#000,#000,#000,#001,#000,#000,#000,#000,#000,#000,#202,#102,#000,#000,#000,#000,#000,#000,#000,#101,#000,#000,#000,#000,#000,#000,#000,#102,#000,#101,#000,#000,#000,#000,#000,#001,#304,#203,#101,#000,#000,#000,#000,#102,#203,#203,#101,#000,#000,#000,#102,#000,#304,#507,#203,#203,#203,#001,#000,#000,#203,#305,#509,#203,#406,#102,#000,#000,#000,#000,#203,#305,#101,#000,#000,#000,#000,#000,#102,#203,#203,#000,#000,#000,#000,#000,#000,#102,#101,#203,#000,#000,#000,#000,#000,#000,#102,#203,#101,#000,#000,#000,#000,#000,#102,#203,#102,#000,#000,#000,#000,#000,#000,#000,#304,#001,#000,#000,#000,#000,#000,#202,#305,#101,#101,#000,#000,#000,#000,#000,#101,#102,#000,#000,#000,#000,#000,#000,#000,#203,#305,#406,#509,#509,#509,#50b,#40d,#50a,#06f,#03f,#20e,#40d,#11f,#50a,#40c,#20e,#11f,#11f,#40c,#01f,#30e,#30e,#509,#30e,#30e,#20e,#30e,#50a,#50b,#40c,#01f,#20e,#04f,#02f,#30e,#30e,#50c,#50b,#40d,#30e,#50b,#30e,#50b,#11e,#11f,#40d,#406,#406,#202,#509,#407,#50a,#30e)"></div>
<div class="r" style="top:479px;height:2px;background:linear-gradient(90deg,#000,#000,#000,#000,#000,#000,#000,#000,#000,#000,#000,#000,#000,#000,#000,#000,#000,#000,#000,#000,#000,#000,#000,#000,#000,#000,#000,#000,#101,#000,#000,#000,#000,#000,#000,#000,#000,#000,#000,#000,#000,#000,#000,#000,#000,#000,#000,#000,#000,#000,#000,#000,#000,#203,#000,#101,#203,#102,#203,#406,#202,#102,#000,#102,#305,#203,#203,#000,#000,#000,#000,#102,#407,#509,#509,#509,#507,#304,#509,#509,#507,#508,#30e,#406,#509,#203,#508,#507,#405,#000,#305,#405,#304,#102,#000,#000,#000,#000,#000,#000,#000,#000,#000,#000,#000,#000,#000,#000,#000,#000,#000,#000,#000,#000,#000,#000,#000,#000,#000,#000,#000,#000,#000,#000,#000,#000,#000,#000,#000,#000,#000,#000,#000,#000,#000,#000,#000,#000,#000,#000,#000,#000,#000,#000,#000,#000,#000,#000,#000,#000,#000,#000,#000,#000,#000,#000,#000,#000,#000,#000,#000,#000,#000,#305,#40c,#11f,#30e,#04f,#01f,#02f,#11e,#20e,#04f,#03f,#01f,#01f,#03f,#0af,#20e,#09f,#40d,#09f,#07f,#06f,#01f,#04f,#0bf,#03f,#04f,#40d,#04f,#01f,#09f,#08f,#0af,#06f,#02f,#30e,#40e,#02f,#02f,#01f,#40c,#08f,#40c,#40c,#07f,#03f,#50b,#50b,#508,#50b,#508,#40c,#40d)"></div>
<div class="r" style="top:481px;height:2px;background:linear-gradient(90deg,#000,#000,#000,#000,#000,#000,#000,#000,#000,#000,#000,#000,#000,#000,#000,#000,#000,#000,#000,#000,#000,#000,#000,#102,#50b,#30e,#304,#509,#40c,#30e,#508,#40d,#509,#000,#000,#000,#000,#000,#000,#000,#000,#000,#000,#000,#000,#000,#000,#000,#000,#000,#000,#101,#508,#20e,#30e,#40d,#04f,#02f,#40d,#08f,#05f,#11f,#02f,#11f,#20e,#01f,#40c,#406,#509,#507,#40c,#11f,#30e,#07f,#0bf,#06f,#06f,#08f,#05f,#09f,#05f,#01f,#0bf,#04f,#0af,#06f,#08f,#05f,#11f,#20e,#30e,#05f,#21e,#21e,#508,#50a,#40c,#50a,#40c,#40c,#508,#50b,#509,#50b,#509,#50b,#508,#509,#507,#30e,#50a,#40d,#40c,#50b,#509,#507,#509,#50a,#507,#50a,#50a,#50a,#50c,#508,#40d,#50a,#50a,#507,#304,#509,#509,#50a,#50a,#507,#50a,#508,#406,#509,#509,#305,#508,#406,#50b,#40d,#50b,#305,#507,#509,#508,#406,#509,#509,#509,#508,#508,#509,#508,#508,#50a,#508,#508,#508,#40c,#01f,#05f,#21e,#40c,#20e,#50a,#40c,#30e,#40c,#40c,#50b,#50c,#01f,#05f,#05f,#03f,#02f,#40c,#30e,#11f,#07f,#07f,#04f,#05f,#30e,#02f,#40c,#07f,#03f,#08f,#06f,#05f,#06f,#03f,#01f,#40d,#04f,#50b,#02f,#50a,#02f,#11f,#509,#03f,#04f,#50b,#50b,#507,#508,#508,#50b,#50b)"></div>
<div class="r" style="top:483px;height:2px;background:linear-gradient(90deg,#000,#000,#000,#000,#000,#000,#000,#000,#000,#000,#000,#000,#000,#000,#102,#101,#203,#406,#203,#508,#50a,#40c,#509,#11f,#0bf,#0cf,#07f,#08f,#0ed,#09f,#40c,#0bf,#20e,#40c,#50a,#50c,#508,#406,#304,#509,#508,#102,#406,#508,#40c,#508,#405,#40c,#509,#50b,#508,#50a,#03f,#05f,#06f,#11f,#07f,#05f,#08f,#07f,#0af,#06f,#06f,#01f,#0af,#08f,#02f,#11f,#02f,#05f,#0af,#09f,#30e,#0af,#0bf,#06f,#03f,#0af,#20e,#11f,#30e,#07f,#04f,#03f,#07f,#20e,#09f,#08f,#20e,#20e,#05f,#0bf,#02f,#03f,#11f,#04f,#40c,#50b,#01f,#01f,#02f,#30e,#05f,#02f,#01f,#02f,#30e,#02f,#07f,#08f,#11f,#02f,#20e,#04f,#01f,#20e,#09f,#06f,#03f,#11e,#07f,#40d,#11e,#02f,#05f,#0af,#03f,#02f,#21e,#30e,#06f,#05f,#08f,#02f,#02f,#03f,#11f,#01f,#08f,#06f,#09f,#40c,#0af,#05f,#40c,#11f,#06f,#02f,#02f,#30e,#07f,#08f,#20e,#21e,#20e,#06f,#40c,#01f,#02f,#40c,#03f,#50b,#30e,#50b,#507,#305,#000,#203,#101,#101,#001,#101,#000,#000,#000,#000,#203,#202,#406,#203,#203,#102,#101,#305,#508,#407,#508,#304,#406,#507,#508,#405,#508,#203,#304,#406,#406,#507,#304,#304,#203,#102,#000,#406,#203,#101,#101,#102,#000,#000,#000,#001,#000,#001,#101)"></div>
<div class="r" style="top:485px;height:2px;background:linear-gradient(90deg,#305,#508,#507,#507,#507,#507,#406,#50b,#40c,#508,#508,#508,#509,#50b,#40c,#30e,#40d,#03f,#01f,#02f,#05f,#08f,#05f,#03f,#03f,#04f,#30e,#06f,#01f,#11f,#508,#09f,#05f,#01f,#05f,#40d,#04f,#50b,#40c,#11e,#04f,#40d,#50b,#01f,#05f,#30e,#30e,#01f,#01f,#20e,#40e,#01f,#04f,#406,#40c,#508,#50a,#40d,#40d,#509,#509,#50a,#508,#50c,#50a,#508,#508,#507,#50c,#50a,#20e,#50b,#203,#509,#50a,#406,#509,#305,#203,#305,#304,#507,#507,#509,#508,#001,#507,#406,#203,#509,#40d,#50b,#508,#406,#509,#50b,#508,#508,#40d,#20e,#40c,#509,#40d,#30e,#50b,#50b,#50b,#20e,#50a,#02f,#50b,#508,#508,#509,#509,#30e,#11e,#50b,#50a,#40c,#02f,#50b,#20e,#30e,#40c,#40d,#50a,#40d,#50b,#40d,#30e,#40c,#11e,#21e,#11e,#40d,#20e,#50a,#40d,#30e,#03f,#30e,#11e,#50b,#509,#40d,#05f,#30e,#40c,#50a,#03f,#05f,#20e,#508,#40d,#30e,#50b,#01f,#50a,#509,#40d,#508,#204,#000,#000,#000,#000,#000,#000,#000,#000,#000,#000,#000,#000,#000,#000,#000,#000,#000,#000,#000,#000,#000,#000,#000,#000,#000,#000,#000,#000,#000,#000,#000,#000,#000,#000,#000,#000,#000,#000,#000,#000,#000,#000,#000,#000,#000,#000,#000,#000,#000,#000,#000,#000)"></div>
<div class="r" style="top:487px;height:2px;background:linear-gradient(90deg,#50a,#21e,#30e,#50a,#40d,#40d,#30e,#05f,#03f,#01f,#11f,#40d,#20e,#01f,#40c,#01f,#02f,#07f,#30e,#11f,#20e,#03f,#20e,#50b,#507,#509,#406,#406,#102,#101,#000,#405,#305,#509,#508,#509,#40d,#40d,#50b,#509,#30e,#50a,#50a,#50b,#30e,#30e,#509,#50b,#50b,#50a,#50a,#507,#507,#000,#000,#000,#000,#000,#000,#000,#000,#000,#000,#000,#000,#000,#000,#000,#000,#102,#000,#000,#000,#000,#000,#000,#000,#000,#000,#000,#000,#000,#000,#000,#000,#000,#000,#000,#000,#000,#000,#000,#000,#000,#000,#000,#000,#000,#000,#203,#000,#000,#000,#000,#000,#000,#000,#000,#102,#000,#000,#000,#000,#000,#000,#001,#000,#000,#102,#204,#204,#000,#101,#000,#304,#101,#000,#001,#101,#102,#000,#000,#203,#202,#001,#000,#203,#000,#102,#102,#203,#304,#000,#101,#000,#000,#204,#101,#000,#001,#204,#508,#203,#000,#000,#304,#000,#102,#000,#000,#000,#000,#000,#000,#000,#000,#000,#000,#000,#000,#000,#000,#000,#000,#000,#000,#000,#000,#000,#000,#000,#000,#000,#000,#000,#000,#000,#000,#000,#000,#000,#000,#000,#000,#000,#000,#000,#000,#000,#000,#000,#000,#000,#000,#000,#000,#000,#000,#000,#000,#000,#000,#000,#000,#000)"></div>
<div class="r" style="top:489px;height:2px;background:linear-gradient(90deg,#509,#50b,#40c,#305,#305,#508,#508,#30e,#30e,#50b,#50b,#40c,#509,#407,#305,#508,#203,#508,#508,#304,#102,#406,#000,#000,#000,#000,#000,#000,#000,#000,#000,#000,#000,#000,#000,#000,#000,#000,#000,#000,#000,#000,#000,#000,#000,#001,#000,#102,#000,#000,#000,#000,#000,#000,#000,#000,#000,#000,#000,#000,#000,#000,#000,#000,#000,#000,#000,#000,#000,#000,#000,#000,#000,#000,#000,#000,#000,#000,#000,#000,#000,#000,#000,#000,#000,#000,#000,#000,#000,#000,#000,#000,#000,#000,#000,#000,#000,#000,#000,#000,#000,#000,#000,#000,#000,#000,#000,#000,#000,#000,#000,#000,#000,#000,#000,#000,#000,#000,#000,#000,#000,#000,#000,#000,#000,#000,#000,#000,#000,#000,#000,#000,#000,#000,#000,#000,#000,#000,#000,#000,#000,#000,#000,#000,#000,#000,#000,#000,#000,#000,#000,#000,#000,#000,#000,#000,#000,#000,#000,#000,#000,#000,#000,#000,#000,#000,#000,#000,#000,#000,#000,#000,#000,#000,#000,#000,#000,#000,#000,#000,#000,#000,#000,#000,#000,#000,#000,#000,#000,#000,#000,#000,#000,#000,#000,#000,#000,#000,#000,#000,#000,#000,#000,#000,#000,#000,#000,#000,#000,#000,#000,#000,#000,#000,#000)"></div>
<div class="r" style="top:491px;height:2px;background:linear-gradient(90deg,#000,#101,#000,#000,#000,#000,#000,#000,#101,#000,#102,#101,#000,#000,#000,#000,#000,#000,#000,#000,#000,#000,#000,#000,#000,#000,#000,#000,#000,#000,#000,#000,#000,#000,#000,#000,#000,#000,#000,#000,#000,#000,#000,#000,#000,#000,#000,#000,#000,#000,#000,#000,#000,#000,#000,#000,#000,#000,#000,#000,#000,#000,#000,#000,#000,#000,#000,#000,#000,#000,#000,#000,#000,#000,#000,#000,#000,#000,#000,#000,#000,#000,#000,#000,#000,#000,#000,#000,#000,#000,#000,#000,#000,#000,#000,#000,#000,#000,#000,#000,#000,#000,#000,#000,#000,#000,#000,#000,#000,#000,#000,#000,#000,#000,#000,#000,#000,#000,#000,#000,#000,#000,#000,#000,#000,#000,#000,#000,#000,#000,#000,#000,#000,#000,#000,#000,#000,#000,#000,#000,#000,#000,#000,#000,#000,#000,#000,#000,#000,#000,#000,#000,#000,#000,#000,#000,#000,#000,#000,#000,#000,#000,#000,#000,#000,#000,#000,#000,#000,#000,#000,#000,#000,#000,#000,#000,#000,#000,#000,#000,#000,#000,#000,#000,#000,#000,#000,#000,#000,#000,#000,#000,#000,#000,#000,#000,#000,#000,#000,#000,#000,#000,#000,#000,#000,#000,#000,#000,#000,#000,#000,#000,#000,#000,#000)"></div>
<div class="r" style="top:493px;height:2px;background:#000"></div>
<div class="r" style="top:495px;height:1px;background:#000"></div>
<div class="r" style="top:496px;height:3px;background:#000"></div>
<div class="r" style="top:499px;height:2px;background:#000"></div>
<div class="r" style="top:501px;height:2px;background:#000"></div>
<div class="r" style="top:503px;height:3px;background:#000"></div>
<div class="k" style="left:91px;top:506px;width:430px;height:84px"></div>
<div class="r" style="top:506px;height:4px;background:linear-gradient(90deg,#40c,#40d,#509,#406,#50a,#509,#50b,#40c,#40c,#01f,#40d,#40c,#508,#30e,#01f,#40c,#50b,#40e,#508,#508,#509,#40c,#40c,#50b,#04f,#30e,#40d,#40c,#50a,#508,#50b,#01f,#01f,#04f,#04f,#40d,#40c,#507,#40d,#01f,#02f,#03f,#01f,#02f,#40d,#509,#508,#50b,#02f,#02f,#06f,#21e,#11e,#40d,#50a,#50b,#20e,#05f,#04f,#01f,#03f,#40d,#50a,#508,#40c,#01f,#06f,#05f,#05f,#02f,#50a,#508,#407,#40d,#05f,#05f,#05f,#03f,#30e,#40d,#509,#50b,#02f,#05f,#05f,#08f,#02f,#30e,#50b,#509,#30e,#06f,#07f,#11f,#04f,#20e,#50a,#508,#50a,#11f,#20e,#05f,#02f,#03f,#40d,#50a,#509,#50a,#30e,#07f,#05f,#05f,#11e,#40c,#509,#508,#40c,#01f,#07f,#02f,#03f,#50c,#50a,#509,#50b,#11f,#06f,#06f,#08f,#20e,#40c,#508,#509,#50c,#01f,#04f,#08f,#07f,#21e,#40c,#509,#50b,#40d,#01f,#01f,#03f,#11f,#11f,#50b,#507,#50a,#21e,#08f,#11f,#06f,#02f,#50a,#50a,#406,#40c,#03f,#07f,#08f,#04f,#21e,#50b,#508,#508,#20e,#02f,#06f,#07f,#20e,#40c,#50b,#509,#50b,#11f,#08f,#08f,#20e,#11f,#40d,#508,#508,#20e,#05f,#04f,#21e,#11e,#50c,#50a,#508,#50b,#30e,#40d,#11e,#11f,#20e,#40c,#509,#508,#50a,#01f,#20e,#04f,#30e,#30e,#50a,#509,#508,#50c,#01f,#03f,#20e)"></div>
<div class="r" style="top:510px;height:4px;background:linear-gradient(90deg,#509,#50b,#508,#406,#50c,#509,#50a,#40d,#30e,#50b,#508,#509,#305,#40c,#509,#40c,#40d,#50a,#50b,#508,#509,#304,#50a,#40e,#30e,#40d,#40c,#509,#508,#507,#40c,#40d,#01f,#40d,#11f,#50a,#50a,#507,#50a,#40d,#30e,#30e,#11f,#30e,#40c,#406,#508,#50a,#11f,#01f,#03f,#40c,#40d,#50a,#508,#509,#40c,#11f,#11f,#01f,#11e,#509,#508,#508,#509,#40c,#03f,#11e,#03f,#30e,#50b,#305,#304,#50b,#01f,#11f,#02f,#02f,#40d,#509,#406,#50a,#30e,#11f,#01f,#01f,#40d,#40c,#507,#406,#50a,#20e,#20e,#01f,#11f,#30e,#50b,#406,#507,#50b,#30e,#04f,#30e,#20e,#50a,#508,#406,#508,#30e,#04f,#03f,#20e,#40d,#50b,#508,#407,#509,#11e,#11f,#20e,#20e,#50a,#508,#508,#50a,#40c,#03f,#05f,#11e,#50c,#508,#406,#406,#509,#40c,#11f,#11f,#03f,#50c,#509,#508,#508,#509,#40c,#20e,#11f,#30e,#40d,#508,#508,#509,#40c,#01f,#20e,#11f,#40d,#509,#508,#304,#50b,#11e,#02f,#01f,#01f,#50b,#40c,#507,#508,#20e,#20e,#02f,#03f,#20e,#509,#509,#406,#509,#40c,#03f,#02f,#30e,#40d,#509,#406,#405,#50b,#11f,#11f,#40c,#50c,#50a,#509,#406,#50a,#50a,#50b,#30e,#40d,#50b,#50b,#507,#406,#509,#20e,#40c,#11e,#50a,#40d,#509,#304,#507,#50a,#30e,#11f,#40d)"></div>
<div class="r" style="top:514px;height:4px;background:linear-gradient(90deg,#50a,#509,#406,#304,#203,#509,#509,#507,#509,#406,#305,#508,#102,#305,#509,#508,#406,#508,#507,#204,#406,#304,#507,#305,#40d,#509,#507,#406,#203,#203,#507,#50b,#50c,#40c,#50b,#508,#507,#204,#406,#509,#509,#40c,#50b,#50b,#509,#305,#202,#508,#50b,#50a,#40d,#509,#509,#406,#204,#507,#50a,#40c,#40c,#50a,#50b,#507,#203,#304,#305,#50a,#40d,#40d,#40c,#50b,#407,#304,#203,#508,#50b,#40d,#40d,#50a,#509,#508,#203,#507,#50a,#40c,#40d,#40d,#509,#508,#507,#305,#507,#50b,#40c,#40c,#50c,#509,#406,#304,#405,#509,#509,#30e,#40c,#50c,#508,#305,#304,#507,#509,#40c,#40d,#40c,#509,#508,#304,#203,#508,#50a,#40d,#50b,#50b,#406,#304,#405,#508,#508,#30e,#30e,#50b,#50a,#405,#203,#405,#305,#50a,#40d,#40d,#50b,#50a,#304,#203,#406,#507,#50a,#40c,#50a,#50b,#50a,#406,#405,#406,#50b,#30e,#40c,#40c,#50a,#406,#305,#102,#406,#50b,#50b,#40d,#50b,#508,#509,#203,#203,#509,#50a,#11e,#40d,#509,#405,#305,#203,#304,#50a,#30e,#20e,#50a,#50a,#508,#304,#305,#509,#50b,#40c,#50a,#509,#507,#305,#204,#508,#509,#508,#50b,#50a,#508,#508,#101,#204,#508,#50a,#50a,#50b,#508,#509,#304,#305,#203,#406,#50b,#40d,#509)"></div>
<div class="r" style="top:518px;height:4px;background:linear-gradient(90deg,#508,#305,#203,#000,#102,#102,#304,#406,#203,#102,#000,#000,#203,#203,#304,#406,#305,#101,#102,#203,#001,#000,#203,#507,#509,#405,#305,#102,#101,#000,#304,#507,#508,#509,#509,#204,#102,#000,#203,#507,#508,#508,#507,#507,#305,#000,#101,#203,#508,#406,#509,#507,#406,#304,#101,#203,#203,#509,#50a,#509,#406,#202,#000,#001,#102,#405,#50a,#508,#50a,#406,#203,#000,#000,#304,#508,#509,#509,#508,#304,#102,#000,#203,#406,#508,#508,#509,#507,#304,#000,#101,#203,#406,#509,#406,#508,#406,#203,#000,#000,#305,#507,#50a,#508,#508,#305,#000,#000,#101,#304,#50a,#509,#508,#305,#304,#000,#001,#203,#507,#509,#50a,#509,#305,#000,#000,#202,#204,#50a,#50b,#50a,#406,#203,#000,#000,#202,#508,#50a,#50a,#508,#305,#000,#101,#202,#202,#507,#507,#508,#507,#406,#101,#101,#203,#507,#50a,#406,#508,#507,#101,#102,#000,#203,#508,#50a,#50a,#508,#406,#304,#001,#101,#305,#406,#50c,#50a,#507,#202,#000,#000,#101,#406,#50a,#509,#406,#508,#203,#101,#000,#305,#508,#508,#507,#305,#304,#101,#000,#102,#204,#204,#507,#507,#507,#304,#000,#000,#204,#508,#507,#508,#305,#507,#000,#000,#000,#202,#508,#508,#507)"></div>
<div class="r" style="top:522px;height:4px;background:linear-gradient(90deg,#102,#000,#000,#000,#000,#000,#202,#101,#102,#203,#000,#001,#000,#000,#000,#202,#000,#000,#000,#001,#000,#000,#000,#202,#406,#203,#000,#000,#000,#000,#001,#405,#406,#406,#508,#000,#000,#000,#000,#304,#406,#405,#305,#204,#101,#000,#000,#001,#406,#507,#406,#304,#102,#000,#000,#000,#101,#406,#507,#507,#202,#000,#000,#000,#000,#202,#508,#508,#507,#203,#000,#000,#000,#102,#406,#406,#406,#304,#203,#000,#000,#001,#304,#507,#305,#508,#203,#101,#000,#000,#101,#305,#508,#304,#305,#203,#000,#000,#000,#102,#203,#508,#508,#406,#000,#000,#000,#000,#203,#507,#508,#508,#304,#001,#000,#000,#000,#305,#508,#407,#406,#102,#000,#000,#000,#102,#508,#509,#406,#304,#000,#000,#000,#000,#203,#405,#508,#406,#102,#000,#000,#000,#000,#305,#507,#406,#203,#102,#000,#000,#000,#304,#508,#507,#508,#304,#000,#000,#000,#000,#304,#407,#406,#203,#102,#101,#000,#000,#304,#305,#509,#507,#202,#000,#000,#000,#000,#204,#509,#508,#304,#304,#000,#000,#000,#101,#405,#406,#305,#202,#001,#000,#000,#000,#202,#101,#304,#304,#102,#000,#000,#000,#000,#203,#203,#406,#102,#101,#000,#000,#000,#101,#405,#508,#405)"></div>
<div class="r" style="top:526px;height:3px;background:linear-gradient(90deg,#000,#000,#000,#000,#000,#000,#000,#000,#000,#000,#000,#000,#000,#000,#000,#000,#000,#000,#000,#000,#000,#000,#000,#000,#000,#000,#000,#000,#000,#000,#000,#001,#202,#102,#101,#000,#000,#000,#000,#000,#000,#101,#101,#000,#000,#000,#000,#000,#000,#000,#101,#000,#000,#000,#000,#000,#000,#102,#101,#101,#000,#000,#000,#000,#000,#000,#000,#101,#202,#000,#000,#000,#000,#000,#000,#102,#203,#000,#000,#000,#000,#000,#000,#000,#102,#001,#000,#000,#000,#000,#000,#000,#000,#101,#101,#000,#000,#000,#000,#000,#000,#102,#102,#000,#000,#000,#000,#000,#000,#203,#203,#000,#000,#000,#000,#000,#000,#000,#102,#101,#000,#000,#000,#000,#000,#000,#102,#203,#001,#000,#000,#000,#000,#000,#000,#101,#202,#102,#000,#000,#000,#000,#000,#000,#001,#000,#000,#000,#000,#000,#000,#000,#101,#101,#001,#000,#000,#000,#000,#000,#000,#000,#101,#000,#000,#000,#000,#000,#000,#000,#204,#203,#000,#000,#000,#000,#000,#000,#102,#203,#000,#000,#000,#000,#000,#000,#000,#102,#001,#000,#000,#000,#000,#000,#000,#000,#000,#000,#000,#000,#000,#000,#000,#000,#000,#000,#000,#000,#000,#000,#000,#000,#000,#102,#000)"></div>
<div class="r" style="top:529px;height:3px;background:#000"></div>
<div class="r" style="top:532px;height:3px;background:#000"></div>
<div class="r" style="top:535px;height:3px;background:#000"></div>
<div class="r" style="top:538px;height:4px;background:#000"></div>
<div class="r" style="top:542px;height:2px;background:#000"></div>
<div class="r" style="top:544px;height:3px;background:#000"></div>
<div class="r" style="top:547px;height:2px;background:#000"></div>
<div class="r" style="top:549px;height:3px;background:#000"></div>
<div class="r" style="top:552px;height:2px;background:#000"></div>
<div class="r" style="top:554px;height:2px;background:#000"></div>
<div class="r" style="top:556px;height:3px;background:#000"></div>
<div class="r" style="top:559px;height:2px;background:linear-gradient(90deg,#000,#000,#000,#000,#000,#000,#000,#000,#000,#000,#000,#000,#000,#000,#000,#000,#000,#000,#000,#000,#000,#000,#000,#000,#000,#000,#000,#000,#000,#000,#000,#000,#000,#000,#000,#000,#000,#000,#000,#000,#000,#000,#000,#000,#000,#000,#000,#000,#000,#000,#000,#000,#000,#000,#000,#000,#000,#000,#000,#000,#000,#000,#000,#000,#000,#000,#000,#000,#000,#000,#000,#000,#000,#000,#000,#000,#000,#000,#000,#000,#000,#000,#000,#000,#000,#000,#000,#000,#000,#000,#000,#000,#000,#000,#000,#000,#000,#000,#000,#000,#000,#000,#000,#000,#000,#000,#000,#000,#000,#000,#000,#000,#000,#000,#000,#000,#000,#000,#000,#000,#000,#000,#000,#000,#000,#000,#000,#000,#000,#000,#000,#000,#000,#000,#000,#000,#000,#000,#000,#000,#000,#000,#000,#000,#000,#000,#000,#000,#000,#000,#000,#000,#000,#000,#000,#000,#000,#000,#000,#000,#000,#000,#000,#000,#000,#203,#102,#204,#405,#000,#102,#305,#305,#102,#405,#102,#305,#000,#102,#000,#204,#102,#101,#101,#203,#202,#101,#304,#102,#000,#000,#203,#203,#304,#406,#202,#101,#102,#102,#102,#000,#102,#203,#000,#202,#405,#304,#304,#000,#000,#000,#000,#000,#000,#000)"></div>
<div class="r" style="top:561px;height:2px;background:linear-gradient(90deg,#000,#000,#000,#000,#000,#000,#000,#000,#000,#000,#000,#000,#000,#000,#000,#000,#000,#000,#000,#000,#000,#000,#000,#000,#000,#000,#000,#000,#000,#000,#000,#000,#000,#000,#000,#000,#000,#000,#000,#000,#000,#000,#000,#000,#000,#000,#000,#000,#000,#000,#000,#000,#000,#000,#000,#000,#000,#000,#000,#000,#000,#000,#000,#000,#000,#000,#000,#000,#000,#000,#000,#000,#102,#203,#102,#101,#101,#304,#102,#203,#001,#102,#102,#102,#203,#000,#000,#101,#001,#000,#000,#000,#000,#000,#000,#000,#000,#000,#000,#000,#000,#000,#000,#000,#000,#000,#000,#000,#000,#000,#000,#000,#000,#000,#000,#000,#000,#000,#000,#000,#000,#000,#000,#000,#000,#000,#000,#000,#000,#000,#000,#000,#000,#000,#000,#000,#000,#000,#000,#000,#000,#000,#000,#000,#000,#000,#000,#000,#000,#000,#000,#000,#000,#000,#000,#000,#000,#000,#000,#000,#000,#000,#000,#000,#40c,#50a,#40c,#50c,#30e,#01f,#04f,#02f,#30e,#40d,#02f,#30e,#03f,#01f,#04f,#02f,#11e,#02f,#08f,#02f,#02f,#11f,#05f,#07f,#06f,#40c,#20e,#50c,#04f,#0cf,#09f,#07f,#30e,#50b,#40d,#30e,#03f,#08f,#02f,#30e,#20e,#05f,#08f,#01f,#507,#50a,#406,#50c,#509,#50a,#508)"></div>
<div class="r" style="top:563px;height:2px;background:linear-gradient(90deg,#000,#000,#000,#000,#000,#000,#000,#000,#000,#000,#000,#000,#000,#000,#000,#000,#000,#000,#000,#000,#000,#000,#000,#000,#000,#000,#000,#000,#000,#000,#000,#001,#000,#000,#000,#000,#000,#000,#000,#000,#000,#000,#000,#000,#000,#000,#000,#000,#000,#000,#000,#000,#000,#508,#508,#50a,#304,#405,#508,#509,#405,#203,#203,#507,#509,#406,#203,#204,#203,#000,#102,#406,#509,#40d,#11f,#20e,#40e,#50b,#01f,#40c,#508,#50b,#03f,#40d,#50c,#50b,#11e,#40c,#50a,#305,#50a,#50a,#50a,#507,#101,#101,#304,#000,#101,#001,#000,#000,#000,#304,#000,#000,#000,#000,#000,#101,#000,#101,#000,#000,#000,#000,#000,#000,#000,#000,#000,#203,#101,#000,#202,#202,#000,#000,#000,#000,#000,#000,#000,#000,#000,#000,#000,#000,#000,#000,#000,#000,#000,#202,#000,#000,#000,#000,#000,#000,#000,#000,#000,#000,#000,#000,#000,#000,#000,#101,#000,#000,#507,#407,#05f,#05f,#09f,#08f,#0df,#08f,#08f,#0af,#08f,#07f,#05f,#03f,#0ef,#08f,#0af,#09f,#0df,#0bf,#0ee,#09f,#0df,#0ee,#0bf,#0af,#0df,#0bf,#0af,#0df,#0df,#0f9,#0fa,#0fc,#0cf,#06f,#0af,#09f,#0df,#0ee,#0af,#0ef,#0df,#0cf,#0ef,#0ee,#20e,#06f,#50b,#40c,#06f,#03f,#03f)"></div>
<div class="r" style="top:565px;height:2px;background:linear-gradient(90deg,#000,#000,#000,#000,#000,#000,#000,#000,#000,#000,#000,#000,#000,#000,#000,#000,#000,#000,#000,#000,#000,#000,#000,#509,#509,#04f,#01f,#03f,#40d,#02f,#11f,#01f,#509,#102,#304,#000,#000,#000,#000,#000,#000,#000,#000,#000,#000,#000,#000,#000,#000,#000,#000,#305,#508,#09f,#0df,#0df,#04f,#08f,#0df,#0ef,#07f,#08f,#04f,#11e,#0cf,#09f,#08f,#03f,#06f,#03f,#03f,#08f,#0df,#0ee,#0ef,#09f,#08f,#0ed,#0df,#0df,#09f,#08f,#07f,#0af,#0ed,#0cf,#0af,#0ed,#08f,#06f,#0bf,#03f,#0af,#04f,#11f,#01f,#01f,#11f,#30e,#05f,#509,#40d,#04f,#08f,#11f,#509,#30e,#508,#30e,#04f,#03f,#04f,#20e,#30e,#50a,#50b,#30e,#20e,#40d,#30e,#40d,#03f,#20e,#50b,#03f,#30e,#03f,#11f,#20e,#40d,#03f,#30e,#01f,#11f,#20e,#40d,#20e,#50a,#20e,#40c,#30e,#40d,#05f,#03f,#03f,#40d,#01f,#20e,#20e,#01f,#40d,#508,#50b,#509,#508,#11f,#40c,#509,#50a,#11f,#30e,#03f,#08f,#09f,#08f,#02f,#01f,#09f,#08f,#09f,#02f,#09f,#50b,#30e,#08f,#30e,#0df,#04f,#0cf,#0ef,#0af,#02f,#0af,#08f,#0df,#0ee,#0df,#0af,#0df,#08f,#06f,#0cf,#0df,#0ee,#0ee,#0ed,#0df,#0bf,#08f,#0af,#0af,#0af,#08f,#0df,#0bf,#30e,#0cf,#05f,#11e,#20e,#30e,#50b,#01f,#21e,#05f)"></div>
<div class="r" style="top:567px;height:2px;background:linear-gradient(90deg,#000,#000,#000,#000,#000,#000,#000,#000,#000,#000,#000,#000,#001,#000,#203,#508,#509,#50b,#507,#02f,#40c,#40d,#11e,#09f,#0ed,#0fb,#0ee,#0fb,#0fc,#0ee,#0fc,#0df,#0af,#05f,#08f,#21e,#40c,#50b,#40c,#40c,#30e,#50c,#40d,#40d,#20e,#50c,#20e,#509,#30e,#30e,#20e,#04f,#0af,#0ef,#0fc,#0fc,#05f,#0bf,#0ee,#0fc,#0fc,#0af,#04f,#0cf,#0fc,#09f,#0ef,#07f,#0ed,#0bf,#0bf,#0df,#0ee,#0df,#0bf,#09f,#0af,#0ed,#05f,#0bf,#07f,#0ee,#07f,#0cf,#0ed,#0cf,#04f,#0df,#0df,#0ee,#0df,#0ed,#0fc,#09f,#0af,#0cf,#06f,#06f,#05f,#0ed,#08f,#08f,#0ef,#0df,#05f,#0cf,#05f,#02f,#0df,#0ed,#09f,#06f,#07f,#08f,#0af,#0cf,#0cf,#06f,#04f,#0bf,#0df,#0df,#07f,#0ee,#0ee,#0ee,#0af,#0bf,#07f,#0af,#0df,#0bf,#0ee,#0ef,#0cf,#0bf,#0ef,#0bf,#0af,#0cf,#0bf,#0cf,#0ef,#0df,#0df,#0af,#0df,#08f,#0df,#0bf,#0bf,#0cf,#0cf,#0af,#20e,#0ef,#05f,#02f,#02f,#04f,#04f,#0af,#08f,#30e,#40c,#508,#304,#305,#508,#203,#406,#405,#000,#000,#001,#203,#50a,#304,#509,#40c,#508,#405,#406,#406,#405,#50b,#50a,#50a,#30e,#40d,#508,#509,#50a,#50b,#20e,#30e,#30e,#40c,#509,#508,#203,#507,#406,#50a,#40c,#101,#50a,#305,#203,#202,#202,#304,#407,#305,#102)"></div>
<div class="r" style="top:569px;height:2px;background:linear-gradient(90deg,#509,#40c,#40c,#20e,#40c,#40d,#30e,#40d,#40c,#20e,#40c,#11f,#509,#02f,#21e,#04f,#0df,#0df,#01f,#0cf,#0af,#0df,#0cf,#08f,#0df,#0ef,#0cf,#0af,#0df,#09f,#11f,#08f,#0af,#0bf,#0cf,#0df,#04f,#0bf,#09f,#02f,#0bf,#07f,#11f,#09f,#0cf,#05f,#09f,#06f,#0af,#01f,#07f,#09f,#05f,#40d,#11e,#20e,#30e,#11f,#08f,#06f,#01f,#30e,#50a,#20e,#40d,#02f,#02f,#50c,#09f,#08f,#40d,#02f,#30e,#02f,#30e,#50c,#30e,#50a,#406,#305,#508,#508,#406,#50b,#50c,#507,#507,#50a,#50b,#20e,#03f,#06f,#06f,#03f,#02f,#40e,#40d,#50b,#05f,#09f,#01f,#20e,#20e,#01f,#11e,#11f,#11f,#40d,#08f,#0bf,#40d,#20e,#05f,#11f,#03f,#07f,#09f,#01f,#02f,#03f,#08f,#20e,#07f,#0bf,#0cf,#02f,#03f,#02f,#03f,#07f,#09f,#09f,#0af,#03f,#08f,#09f,#06f,#01f,#0af,#08f,#0af,#0af,#0bf,#07f,#04f,#08f,#0df,#07f,#07f,#0bf,#0bf,#0bf,#03f,#50c,#02f,#09f,#06f,#11f,#40d,#50b,#02f,#02f,#50a,#406,#000,#000,#000,#000,#000,#000,#000,#000,#000,#000,#000,#000,#000,#000,#000,#000,#000,#000,#000,#000,#000,#000,#000,#000,#000,#000,#000,#000,#000,#000,#000,#000,#000,#000,#000,#000,#000,#000,#000,#000,#000,#000,#000,#000,#000,#000,#000,#000,#000,#000,#000)"></div>
<div class="r" style="top:571px;height:2px;background:linear-gradient(90deg,#08f,#02f,#09f,#09f,#03f,#03f,#09f,#06f,#05f,#09f,#03f,#0af,#04f,#05f,#04f,#08f,#03f,#0af,#06f,#0df,#07f,#04f,#40d,#01f,#509,#20e,#20e,#50a,#406,#406,#304,#304,#40d,#30e,#20e,#05f,#50a,#30e,#04f,#40d,#03f,#01f,#03f,#03f,#02f,#20e,#08f,#03f,#50b,#40d,#40c,#40d,#509,#000,#203,#101,#000,#000,#101,#000,#001,#000,#001,#000,#000,#000,#000,#000,#202,#305,#304,#203,#000,#000,#000,#000,#000,#000,#000,#000,#000,#000,#000,#000,#000,#000,#000,#000,#000,#000,#202,#001,#102,#000,#101,#101,#000,#000,#203,#406,#101,#000,#000,#000,#000,#102,#305,#304,#508,#304,#000,#000,#203,#000,#102,#304,#509,#406,#204,#405,#507,#304,#304,#508,#508,#203,#507,#203,#102,#204,#203,#304,#508,#203,#203,#406,#50b,#405,#509,#50a,#508,#509,#508,#203,#101,#406,#50b,#507,#305,#508,#508,#50b,#50a,#305,#000,#406,#507,#304,#101,#000,#000,#000,#000,#000,#000,#000,#000,#000,#000,#000,#000,#000,#000,#000,#000,#000,#000,#000,#000,#000,#000,#000,#000,#000,#000,#000,#000,#000,#000,#000,#000,#000,#000,#000,#000,#000,#000,#000,#000,#000,#000,#000,#000,#000,#000,#000,#000,#000,#000,#000,#000,#000,#000,#000,#000)"></div>
<div class="r" style="top:573px;height:2px;background:linear-gradient(90deg,#40d,#50b,#40d,#50a,#50b,#20e,#01f,#40d,#20e,#03f,#01f,#02f,#11f,#40d,#50a,#50b,#50b,#40d,#509,#509,#405,#508,#406,#000,#000,#000,#000,#000,#000,#000,#000,#000,#000,#000,#000,#304,#000,#203,#406,#000,#203,#102,#001,#406,#202,#101,#304,#304,#102,#101,#001,#000,#000,#000,#000,#000,#000,#000,#000,#000,#000,#000,#000,#000,#000,#000,#000,#000,#000,#000,#000,#000,#000,#000,#000,#000,#000,#000,#000,#000,#000,#000,#000,#000,#000,#000,#000,#000,#000,#000,#000,#000,#000,#000,#000,#000,#000,#000,#000,#000,#000,#000,#000,#000,#000,#000,#000,#000,#000,#000,#000,#000,#000,#000,#000,#000,#000,#000,#000,#000,#000,#000,#000,#000,#000,#000,#000,#000,#000,#000,#000,#000,#000,#000,#000,#000,#000,#000,#000,#000,#000,#000,#000,#000,#000,#000,#000,#000,#000,#000,#000,#000,#000,#000,#000,#000,#000,#000,#000,#000,#000,#000,#000,#000,#000,#000,#000,#000,#000,#000,#000,#000,#000,#000,#000,#000,#000,#000,#000,#000,#000,#000,#000,#000,#000,#000,#000,#000,#000,#000,#000,#000,#000,#000,#000,#000,#000,#000,#000,#000,#000,#000,#000,#000,#000,#000,#000,#000,#000,#000,#000,#000,#000,#000,#000)"></div>
<div class="r" style="top:575px;height:2px;background:linear-gradient(90deg,#203,#305,#203,#101,#000,#203,#406,#102,#101,#305,#508,#202,#202,#000,#000,#000,#000,#000,#000,#000,#000,#000,#000,#000,#000,#000,#000,#000,#000,#000,#000,#000,#000,#000,#000,#000,#000,#000,#000,#000,#000,#000,#000,#000,#000,#000,#000,#000,#000,#000,#000,#000,#000,#000,#000,#000,#000,#000,#000,#000,#000,#000,#000,#000,#000,#000,#000,#000,#000,#000,#000,#000,#000,#000,#000,#000,#000,#000,#000,#000,#000,#000,#000,#000,#000,#000,#000,#000,#000,#000,#000,#000,#000,#000,#000,#000,#000,#000,#000,#000,#000,#000,#000,#000,#000,#000,#000,#000,#000,#000,#000,#000,#000,#000,#000,#000,#000,#000,#000,#000,#000,#000,#000,#000,#000,#000,#000,#000,#000,#000,#000,#000,#000,#000,#000,#000,#000,#000,#000,#000,#000,#000,#000,#000,#000,#000,#000,#000,#000,#000,#000,#000,#000,#000,#000,#000,#000,#000,#000,#000,#000,#000,#000,#000,#000,#000,#000,#000,#000,#000,#000,#000,#000,#000,#000,#000,#000,#000,#000,#000,#000,#000,#000,#000,#000,#000,#000,#000,#000,#000,#000,#000,#000,#000,#000,#000,#000,#000,#000,#000,#000,#000,#000,#000,#000,#000,#000,#000,#000,#000,#000,#000,#000,#000,#000)"></div>
<div class="r" style="top:577px;height:2px;background:#000"></div>
<div class="r" style="top:579px;height:1px;background:#000"></div>
<div class="r" style="top:580px;height:3px;background:#000"></div>
<div class="r" style="top:583px;height:2px;background:#000"></div>
<div class="r" style="top:585px;height:2px;background:#000"></div>
<div class="r" style="top:587px;height:3px;background:#000"></div>
<div class="k" style="left:91px;top:590px;width:430px;height:84px"></div>
<div class="r" style="top:590px;height:4px;background:linear-gradient(90deg,#05f,#01f,#30e,#30e,#20e,#01f,#03f,#20e,#11f,#20e,#02f,#06f,#30e,#04f,#02f,#40d,#02f,#40d,#40d,#05f,#02f,#03f,#30e,#04f,#07f,#01f,#05f,#11f,#40d,#20e,#11f,#02f,#07f,#02f,#03f,#06f,#01f,#04f,#01f,#07f,#01f,#05f,#03f,#11e,#04f,#01f,#40d,#20e,#03f,#03f,#04f,#03f,#01f,#20e,#01f,#11f,#11e,#03f,#01f,#02f,#11e,#02f,#30e,#11f,#30e,#03f,#05f,#01f,#03f,#01f,#03f,#30e,#11f,#02f,#01f,#01f,#01f,#03f,#11e,#40d,#21e,#01f,#11e,#05f,#03f,#02f,#11e,#01f,#02f,#40d,#05f,#01f,#02f,#02f,#03f,#02f,#40d,#03f,#40d,#02f,#04f,#03f,#01f,#01f,#01f,#30e,#30e,#05f,#04f,#02f,#01f,#02f,#04f,#01f,#20e,#02f,#04f,#01f,#03f,#01f,#20e,#04f,#02f,#40d,#11f,#03f,#06f,#03f,#04f,#03f,#20e,#03f,#21e,#04f,#20e,#20e,#06f,#03f,#01f,#30e,#02f,#11f,#01f,#04f,#03f,#11f,#04f,#03f,#20e,#02f,#21e,#04f,#04f,#05f,#07f,#05f,#02f,#01f,#11f,#30e,#01f,#07f,#04f,#04f,#03f,#02f,#30e,#21e,#21e,#01f,#06f,#02f,#11e,#01f,#03f,#11f,#20e,#01f,#02f,#01f,#03f,#01f,#21e,#11f,#11e,#04f,#03f,#05f,#04f,#03f,#01f,#02f,#01f,#01f,#11f,#01f,#06f,#20e,#03f,#11e,#20e,#20e,#20e,#03f,#05f,#20e,#02f,#02f,#03f,#04f,#03f,#11e,#02f,#04f,#03f)"></div>
<div class="r" style="top:594px;height:4px;background:linear-gradient(90deg,#04f,#30e,#40d,#11e,#01f,#21e,#05f,#30e,#30e,#05f,#30e,#04f,#20e,#03f,#30e,#11f,#01f,#11e,#50c,#11f,#02f,#01f,#40c,#30e,#04f,#11f,#01f,#20e,#30e,#20e,#40d,#01f,#03f,#02f,#02f,#02f,#11f,#01f,#11f,#01f,#01f,#01f,#05f,#20e,#11f,#11f,#50b,#30e,#01f,#01f,#01f,#30e,#20e,#11f,#30e,#30e,#40d,#04f,#20e,#20e,#40d,#30e,#40c,#21e,#40c,#20e,#11f,#11f,#20e,#20e,#11f,#20e,#50b,#01f,#01f,#02f,#01f,#11f,#20e,#20e,#30e,#01f,#20e,#04f,#02f,#02f,#40c,#20e,#20e,#40d,#11f,#01f,#01f,#01f,#11e,#20e,#30e,#21e,#50b,#30e,#03f,#20e,#01f,#21e,#30e,#11f,#50b,#01f,#20e,#02f,#30e,#02f,#03f,#20e,#40c,#11f,#01f,#20e,#01f,#01f,#11f,#01f,#11f,#40d,#21e,#11f,#02f,#03f,#20e,#11f,#20e,#30e,#11f,#02f,#30e,#40d,#01f,#02f,#20e,#30e,#11e,#40d,#01f,#04f,#11f,#21e,#20e,#30e,#40d,#11f,#20e,#11f,#03f,#11f,#04f,#02f,#40d,#11f,#11f,#21e,#40d,#04f,#03f,#30e,#01f,#11f,#40d,#30e,#11e,#11f,#03f,#11f,#03f,#11f,#11f,#30e,#40d,#40c,#02f,#40d,#02f,#30e,#30e,#30e,#11e,#01f,#02f,#11e,#20e,#20e,#20e,#11e,#30e,#50c,#20e,#01f,#02f,#40d,#01f,#30e,#30e,#20e,#11f,#11f,#03f,#11e,#30e,#40d,#01f,#30e,#11f,#11f,#20e,#30e,#01f)"></div>
<div class="r" style="top:598px;height:4px;background:linear-gradient(90deg,#30e,#50b,#50b,#40d,#11e,#50a,#03f,#40d,#20e,#01f,#40c,#40c,#20e,#20e,#30e,#40c,#30e,#11f,#50a,#20e,#40d,#02f,#50b,#50a,#40c,#50b,#11f,#30e,#50a,#30e,#30e,#11f,#02f,#20e,#11e,#01f,#30e,#30e,#30e,#01f,#30e,#20e,#21e,#40d,#30e,#30e,#40c,#50c,#20e,#30e,#40d,#30e,#30e,#50b,#40c,#40d,#30e,#11e,#40c,#40d,#40c,#40c,#50b,#30e,#50a,#40d,#30e,#30e,#40d,#40d,#40c,#40c,#50c,#40d,#20e,#30e,#21e,#30e,#30e,#40e,#50b,#30e,#40d,#03f,#11f,#30e,#40d,#40d,#30e,#40d,#30e,#50b,#30e,#20e,#30e,#40d,#50b,#11e,#509,#30e,#21e,#20e,#11f,#01f,#40d,#40d,#50c,#30e,#30e,#11e,#30e,#40d,#30e,#40c,#40d,#40c,#40d,#40d,#02f,#40c,#40c,#01f,#20e,#40c,#50b,#30e,#11f,#11e,#40d,#30e,#50a,#40d,#40d,#30e,#30e,#40d,#20e,#02f,#30e,#40d,#30e,#50b,#30e,#21e,#40d,#40d,#40d,#30e,#50c,#20e,#40c,#11e,#01f,#30e,#20e,#20e,#40d,#30e,#30e,#40d,#50c,#11e,#20e,#20e,#30e,#30e,#50a,#50c,#40d,#30e,#01f,#30e,#40c,#50b,#50c,#40c,#40c,#40d,#11e,#50c,#11f,#50b,#50a,#30e,#50b,#30e,#40d,#40c,#50c,#30e,#50c,#40d,#40c,#50a,#40c,#30e,#20e,#40c,#40d,#30e,#50b,#40d,#40d,#40d,#30e,#20e,#40d,#40d,#30e,#30e,#40c,#30e,#30e,#30e,#30e)"></div>
<div class="r" style="top:602px;height:4px;background:linear-gradient(90deg,#50a,#50a,#507,#50a,#509,#50b,#40d,#40d,#40d,#50a,#508,#30e,#40d,#50b,#21e,#508,#40d,#50b,#507,#40c,#50b,#21e,#50a,#40d,#11f,#50a,#40d,#50b,#508,#50a,#509,#30e,#20e,#30e,#40d,#40d,#50a,#40d,#40d,#30e,#40d,#40d,#40c,#50b,#509,#50b,#50a,#50b,#40d,#40c,#40d,#30e,#40d,#50a,#50a,#50a,#509,#40d,#50a,#40d,#40c,#50a,#50a,#50b,#50a,#50b,#40d,#40d,#40d,#40c,#40c,#509,#50a,#40c,#40c,#40d,#40d,#40c,#50b,#50a,#509,#50b,#50a,#20e,#40d,#30e,#50b,#50c,#50a,#509,#40d,#50b,#40d,#20e,#50b,#50a,#50a,#40d,#509,#50b,#50c,#50a,#40d,#40e,#40c,#50b,#508,#30e,#40d,#50c,#50b,#50b,#50b,#40c,#50a,#50b,#40d,#40c,#40d,#50a,#50c,#50b,#40d,#50b,#50a,#50c,#40d,#40d,#50b,#40d,#50b,#50b,#50b,#50b,#40c,#40c,#30e,#20e,#40c,#509,#50b,#50a,#40d,#40d,#40c,#40c,#50b,#50b,#50a,#50a,#50b,#40c,#40c,#40c,#40d,#50c,#50b,#40c,#50b,#509,#50b,#20e,#30e,#50b,#50c,#40c,#509,#50b,#40d,#40c,#20e,#40d,#50a,#50a,#50a,#50a,#50b,#509,#20e,#40c,#20e,#50b,#509,#50a,#508,#40d,#30e,#50a,#40d,#40c,#50a,#50b,#50b,#509,#50b,#40c,#40d,#50b,#50b,#40c,#50b,#50a,#50b,#50b,#30e,#50a,#50b,#50a,#40e,#50c,#50c,#50b,#40d,#40c,#20e)"></div>
<div class="r" style="top:606px;height:4px;background:linear-gradient(90deg,#40d,#50a,#508,#508,#50b,#50c,#50b,#50b,#509,#30e,#507,#509,#40d,#50b,#50a,#50b,#50c,#40c,#406,#508,#50c,#50a,#50c,#508,#50a,#509,#50b,#50a,#407,#50b,#50a,#40d,#40c,#40c,#509,#50a,#50a,#509,#50b,#40d,#509,#50b,#50b,#50a,#50b,#50a,#508,#509,#50b,#50b,#50b,#50a,#509,#509,#508,#508,#509,#50b,#50b,#509,#508,#50b,#508,#507,#508,#50a,#40c,#50b,#50a,#50b,#508,#509,#508,#50a,#40d,#50c,#50a,#50a,#509,#50a,#508,#50a,#509,#40d,#50b,#50c,#509,#508,#50a,#508,#40c,#508,#50b,#40d,#50a,#50b,#509,#50b,#508,#50b,#509,#509,#50a,#50b,#50a,#50a,#508,#50b,#509,#50b,#509,#50b,#50a,#509,#509,#509,#50a,#50b,#40c,#50a,#509,#50b,#50a,#508,#509,#40c,#50b,#40c,#50a,#50b,#508,#508,#508,#50b,#509,#50b,#40c,#40d,#509,#50a,#50a,#509,#509,#50c,#50b,#50c,#509,#509,#509,#50b,#50a,#50b,#40d,#50b,#50b,#40c,#508,#509,#50a,#50a,#509,#40c,#40d,#509,#40c,#50b,#508,#509,#50a,#50a,#50c,#509,#50a,#509,#509,#406,#508,#508,#40c,#509,#40c,#508,#509,#509,#509,#50a,#509,#50a,#50b,#50a,#50a,#50a,#509,#507,#509,#50b,#50b,#508,#50a,#509,#508,#508,#50a,#50b,#40c,#50a,#509,#50a,#50b,#50a,#50a,#509,#50b,#50a,#40d)"></div>
<div class="r" style="top:610px;height:3px;background:linear-gradient(90deg,#50a,#50a,#405,#508,#50a,#508,#509,#507,#509,#508,#508,#507,#405,#50a,#509,#50b,#40c,#507,#305,#50a,#509,#50b,#50a,#508,#50b,#508,#508,#509,#406,#508,#507,#50a,#40c,#50a,#509,#509,#508,#507,#508,#509,#509,#40c,#50b,#509,#509,#509,#203,#508,#50a,#50b,#50a,#50b,#509,#508,#508,#405,#508,#40c,#509,#509,#508,#509,#508,#304,#507,#508,#50b,#509,#50a,#50a,#508,#508,#203,#508,#50b,#509,#50a,#508,#508,#507,#507,#509,#508,#50a,#50b,#50a,#507,#509,#508,#406,#50a,#509,#509,#509,#50a,#508,#406,#509,#507,#50a,#50b,#509,#50a,#50a,#508,#507,#305,#50a,#50a,#50a,#509,#509,#50a,#50a,#508,#507,#509,#509,#50a,#508,#509,#50b,#509,#507,#406,#50a,#50b,#50b,#50a,#509,#507,#508,#507,#509,#509,#509,#50c,#50a,#509,#407,#509,#507,#508,#40c,#50b,#509,#50a,#509,#508,#508,#406,#50a,#50a,#50b,#50a,#50a,#507,#50a,#508,#507,#509,#50a,#50a,#509,#50a,#50b,#507,#509,#50a,#509,#50a,#509,#50a,#508,#508,#406,#508,#507,#40c,#50a,#50b,#508,#507,#508,#406,#509,#509,#50b,#50a,#509,#509,#508,#406,#507,#406,#50a,#50b,#508,#50a,#509,#508,#406,#509,#50a,#50a,#50a,#509,#406,#509,#50a,#508,#509,#50a,#509,#50b)"></div>
<div class="r" style="top:613px;height:3px;background:linear-gradient(90deg,#508,#508,#305,#203,#405,#50a,#50b,#509,#509,#50b,#507,#507,#507,#509,#50b,#508,#509,#509,#304,#509,#507,#50b,#407,#406,#508,#508,#509,#509,#304,#304,#508,#50a,#50c,#50a,#509,#50a,#508,#304,#508,#50a,#50a,#50a,#509,#509,#509,#508,#102,#406,#50a,#509,#509,#509,#509,#508,#305,#304,#508,#50a,#508,#509,#406,#507,#406,#203,#507,#509,#509,#508,#509,#509,#507,#406,#203,#508,#50a,#509,#50a,#508,#509,#507,#203,#508,#508,#50b,#509,#509,#509,#508,#405,#204,#50a,#507,#50a,#50a,#509,#508,#507,#507,#304,#509,#50b,#508,#50a,#509,#508,#406,#102,#509,#509,#50a,#509,#50a,#509,#508,#507,#304,#507,#508,#50b,#509,#508,#509,#508,#305,#406,#50a,#50a,#509,#508,#508,#508,#508,#304,#508,#508,#507,#40c,#509,#508,#406,#406,#304,#507,#50b,#509,#50a,#509,#507,#507,#305,#305,#50a,#509,#50a,#50a,#50a,#508,#508,#305,#508,#509,#50b,#50a,#50a,#509,#50a,#304,#304,#508,#509,#50a,#508,#509,#507,#406,#203,#305,#507,#50b,#50a,#40c,#509,#405,#406,#203,#509,#509,#509,#507,#508,#509,#509,#204,#304,#507,#508,#50a,#508,#50a,#508,#508,#204,#509,#509,#50a,#508,#507,#508,#509,#405,#507,#508,#508,#509,#50b)"></div>
<div class="r" style="top:616px;height:3px;background:linear-gradient(90deg,#508,#509,#102,#508,#406,#508,#50b,#508,#50a,#509,#507,#406,#405,#305,#50b,#50a,#508,#509,#305,#305,#305,#50a,#406,#508,#50b,#407,#508,#406,#102,#203,#507,#509,#50b,#50b,#509,#507,#507,#102,#304,#508,#50a,#50b,#50b,#507,#507,#507,#101,#405,#509,#508,#509,#509,#507,#508,#203,#101,#508,#50a,#509,#508,#407,#507,#204,#101,#304,#508,#50b,#50a,#508,#509,#507,#204,#102,#406,#509,#50a,#509,#508,#507,#304,#000,#405,#508,#50b,#509,#509,#507,#508,#406,#101,#508,#509,#508,#50b,#509,#406,#405,#203,#001,#509,#50a,#509,#509,#508,#509,#406,#101,#405,#507,#509,#507,#509,#508,#508,#304,#202,#508,#509,#50b,#407,#508,#509,#508,#102,#203,#508,#50a,#50a,#509,#508,#406,#304,#102,#405,#507,#508,#50a,#50b,#508,#508,#406,#203,#509,#509,#50a,#509,#508,#508,#305,#203,#305,#509,#509,#508,#509,#509,#507,#305,#202,#406,#509,#50a,#509,#508,#508,#509,#000,#202,#508,#508,#50b,#508,#509,#507,#405,#000,#406,#305,#509,#509,#509,#508,#507,#304,#000,#508,#508,#509,#509,#508,#507,#405,#202,#102,#304,#507,#509,#508,#50a,#508,#203,#102,#405,#508,#50a,#508,#507,#405,#508,#304,#203,#508,#507,#509,#509)"></div>
<div class="r" style="top:619px;height:3px;background:linear-gradient(90deg,#507,#507,#406,#203,#407,#203,#509,#50b,#508,#50a,#305,#203,#304,#203,#507,#204,#508,#508,#507,#204,#304,#406,#203,#305,#50a,#405,#407,#406,#001,#000,#406,#50a,#50a,#509,#508,#406,#406,#101,#204,#508,#507,#509,#509,#508,#406,#305,#000,#406,#509,#509,#509,#406,#507,#405,#000,#000,#406,#509,#509,#508,#508,#406,#203,#000,#101,#406,#508,#509,#509,#507,#405,#202,#000,#406,#508,#509,#508,#509,#407,#304,#000,#102,#507,#50a,#508,#508,#507,#406,#102,#000,#507,#508,#509,#50a,#406,#507,#304,#203,#000,#507,#509,#507,#508,#509,#305,#202,#000,#406,#508,#50a,#507,#509,#509,#507,#102,#101,#507,#507,#509,#509,#508,#508,#508,#000,#101,#508,#50a,#509,#509,#507,#407,#203,#000,#203,#508,#507,#50b,#50a,#507,#304,#304,#000,#507,#50a,#509,#509,#406,#508,#304,#101,#203,#509,#509,#508,#50b,#50a,#406,#203,#000,#203,#406,#50a,#509,#407,#509,#508,#000,#000,#406,#508,#50a,#507,#509,#507,#405,#000,#203,#507,#50a,#509,#50a,#507,#406,#102,#000,#406,#507,#508,#509,#507,#508,#305,#000,#000,#305,#509,#50a,#406,#508,#406,#101,#000,#203,#508,#508,#406,#508,#304,#406,#101,#101,#406,#407,#509,#508)"></div>
<div class="r" style="top:622px;height:4px;background:linear-gradient(90deg,#508,#509,#102,#203,#508,#203,#508,#508,#508,#509,#507,#305,#304,#407,#304,#305,#509,#50a,#203,#507,#305,#406,#305,#304,#508,#406,#508,#304,#000,#000,#304,#508,#50b,#509,#509,#509,#204,#000,#101,#509,#509,#50a,#509,#406,#305,#102,#000,#203,#508,#50a,#509,#509,#507,#405,#101,#000,#507,#50b,#507,#508,#507,#406,#102,#000,#102,#305,#50a,#509,#507,#507,#304,#101,#000,#304,#50a,#50a,#508,#507,#406,#102,#000,#101,#407,#509,#509,#509,#305,#407,#101,#000,#406,#406,#508,#50a,#508,#507,#203,#101,#000,#406,#507,#508,#50a,#509,#507,#304,#000,#305,#406,#50a,#406,#507,#509,#507,#001,#000,#405,#508,#509,#406,#507,#508,#305,#000,#101,#508,#509,#509,#50a,#508,#305,#203,#000,#305,#508,#508,#50a,#50b,#406,#203,#203,#000,#406,#509,#50a,#509,#508,#508,#304,#101,#202,#509,#509,#50a,#50a,#508,#305,#102,#000,#304,#406,#50a,#50a,#508,#507,#508,#000,#101,#405,#508,#50a,#507,#508,#507,#304,#000,#101,#406,#50a,#508,#50b,#507,#304,#101,#000,#406,#509,#508,#508,#507,#406,#406,#000,#000,#304,#509,#50a,#507,#508,#507,#203,#000,#304,#407,#50a,#507,#508,#304,#507,#102,#101,#406,#507,#509,#50a)"></div>
<div class="r" style="top:626px;height:2px;background:linear-gradient(90deg,#406,#304,#102,#203,#305,#406,#508,#509,#304,#508,#305,#203,#305,#507,#406,#405,#509,#204,#001,#101,#203,#102,#203,#202,#508,#305,#507,#202,#000,#000,#203,#508,#50a,#509,#507,#405,#101,#000,#101,#508,#507,#509,#50a,#406,#203,#000,#000,#101,#507,#509,#509,#508,#304,#204,#000,#000,#204,#507,#507,#508,#305,#305,#101,#000,#000,#406,#508,#507,#508,#508,#203,#000,#000,#203,#508,#508,#508,#405,#305,#202,#000,#101,#305,#509,#509,#508,#203,#304,#101,#000,#102,#305,#507,#50a,#507,#305,#203,#000,#000,#203,#508,#509,#509,#507,#406,#001,#000,#001,#304,#509,#508,#407,#507,#203,#000,#000,#203,#507,#509,#406,#406,#507,#203,#000,#000,#507,#508,#508,#509,#405,#204,#000,#000,#102,#304,#508,#509,#509,#305,#102,#000,#000,#102,#508,#509,#508,#305,#507,#102,#000,#000,#507,#508,#507,#50a,#507,#203,#102,#000,#101,#305,#509,#509,#508,#507,#203,#000,#000,#304,#508,#50a,#507,#507,#305,#001,#000,#001,#203,#50a,#507,#509,#305,#204,#000,#000,#204,#507,#508,#406,#507,#305,#203,#000,#000,#203,#406,#507,#406,#507,#203,#000,#000,#001,#405,#508,#508,#405,#305,#203,#000,#000,#304,#305,#508,#509)"></div>
<div class="r" style="top:628px;height:3px;background:linear-gradient(90deg,#000,#000,#000,#000,#000,#000,#000,#000,#000,#000,#000,#000,#000,#000,#000,#101,#101,#001,#000,#000,#000,#000,#000,#000,#304,#000,#001,#000,#000,#000,#000,#101,#304,#203,#101,#000,#000,#000,#000,#101,#101,#305,#304,#000,#000,#000,#000,#000,#102,#204,#203,#102,#000,#000,#000,#000,#000,#203,#304,#101,#101,#000,#000,#000,#000,#000,#102,#203,#102,#102,#000,#000,#000,#000,#102,#202,#202,#202,#000,#000,#000,#000,#000,#203,#405,#202,#000,#000,#000,#000,#000,#101,#102,#202,#101,#000,#000,#000,#000,#000,#001,#203,#102,#001,#000,#000,#000,#000,#000,#102,#203,#102,#001,#000,#000,#000,#000,#102,#203,#001,#101,#000,#000,#000,#000,#000,#203,#305,#101,#000,#000,#000,#000,#000,#001,#101,#305,#203,#000,#000,#000,#000,#000,#202,#304,#203,#101,#000,#000,#000,#000,#102,#203,#304,#304,#101,#000,#000,#000,#000,#000,#304,#304,#203,#000,#000,#000,#000,#000,#101,#304,#101,#102,#000,#000,#000,#000,#000,#203,#102,#304,#000,#000,#000,#000,#000,#203,#203,#101,#001,#000,#000,#000,#000,#000,#000,#202,#101,#001,#000,#000,#000,#000,#000,#204,#101,#101,#000,#000,#000,#000,#000,#101,#203,#203)"></div>
<div class="r" style="top:631px;height:2px;background:linear-gradient(90deg,#50a,#508,#305,#50a,#508,#406,#50b,#50b,#508,#508,#50a,#509,#509,#507,#50b,#509,#509,#406,#204,#508,#507,#50a,#507,#305,#50a,#406,#509,#507,#304,#508,#407,#508,#50a,#509,#509,#508,#509,#509,#508,#509,#508,#50b,#50a,#508,#508,#507,#406,#507,#508,#50a,#50a,#508,#508,#406,#508,#508,#509,#50a,#508,#509,#509,#508,#407,#507,#406,#508,#50a,#509,#508,#50a,#508,#508,#304,#508,#50a,#50a,#509,#508,#509,#507,#507,#508,#509,#50b,#50a,#509,#406,#508,#406,#405,#508,#509,#50a,#50b,#508,#509,#507,#509,#507,#509,#50a,#508,#509,#509,#507,#508,#406,#50a,#509,#509,#507,#509,#50b,#508,#406,#509,#509,#509,#50b,#508,#508,#50a,#508,#406,#305,#509,#509,#50a,#508,#509,#508,#507,#507,#507,#509,#50a,#50b,#509,#509,#407,#507,#406,#508,#50b,#508,#50a,#509,#509,#508,#508,#406,#50b,#50a,#50a,#50a,#509,#507,#508,#509,#508,#507,#50b,#50a,#509,#50a,#50a,#507,#406,#508,#509,#50c,#508,#50a,#508,#508,#507,#406,#507,#509,#509,#50b,#508,#508,#406,#406,#509,#508,#50a,#50a,#50a,#509,#509,#507,#508,#508,#508,#50b,#507,#509,#509,#405,#507,#508,#509,#50b,#507,#508,#507,#509,#507,#508,#508,#509,#50a,#50a)"></div>
<div class="r" style="top:633px;height:3px;background:linear-gradient(90deg,#50a,#508,#507,#507,#50a,#509,#50b,#50b,#50a,#508,#509,#40c,#507,#50a,#508,#50b,#508,#508,#509,#406,#406,#507,#509,#50a,#50a,#508,#50b,#508,#508,#508,#509,#509,#509,#509,#509,#50a,#508,#50a,#509,#50b,#509,#50a,#50a,#508,#509,#509,#508,#509,#50a,#509,#50a,#50a,#508,#507,#508,#508,#509,#50a,#508,#509,#508,#508,#508,#508,#507,#508,#509,#50b,#509,#509,#508,#508,#508,#509,#509,#50b,#509,#509,#509,#507,#507,#508,#509,#40c,#509,#508,#509,#406,#509,#509,#50a,#50a,#508,#509,#508,#508,#508,#508,#507,#509,#509,#508,#509,#509,#509,#508,#406,#508,#509,#50a,#508,#509,#509,#509,#508,#508,#509,#50a,#50a,#509,#508,#509,#508,#508,#507,#50a,#50a,#50b,#50b,#508,#507,#508,#509,#509,#509,#509,#50a,#509,#508,#508,#508,#508,#50a,#50b,#50a,#50b,#50a,#508,#508,#508,#507,#509,#50a,#508,#50b,#50b,#508,#508,#50a,#507,#508,#50a,#509,#50a,#50a,#50a,#406,#509,#508,#50a,#50b,#509,#508,#509,#50a,#508,#508,#407,#509,#50a,#40c,#508,#508,#509,#406,#509,#508,#508,#508,#508,#508,#50a,#509,#406,#509,#50a,#50a,#50a,#50a,#508,#509,#508,#509,#509,#509,#509,#509,#509,#509,#509,#509,#507,#509,#50a,#40c)"></div>
<div class="r" style="top:636px;height:2px;background:linear-gradient(90deg,#50a,#509,#508,#509,#509,#508,#50a,#40c,#508,#509,#509,#508,#509,#508,#508,#50a,#50b,#50b,#304,#507,#507,#50b,#509,#508,#50a,#509,#50a,#507,#507,#508,#406,#509,#509,#509,#509,#50b,#508,#509,#509,#509,#50a,#50a,#509,#508,#509,#508,#406,#509,#50a,#509,#509,#50a,#508,#509,#507,#405,#507,#50a,#509,#509,#509,#508,#406,#508,#507,#406,#509,#50b,#507,#50a,#508,#508,#507,#507,#509,#508,#509,#50a,#509,#508,#507,#508,#507,#40c,#50a,#508,#406,#507,#407,#406,#508,#508,#509,#50b,#508,#509,#406,#508,#507,#508,#508,#508,#50a,#509,#507,#507,#305,#50a,#509,#509,#509,#508,#50a,#508,#405,#508,#509,#508,#50b,#50a,#509,#50b,#50a,#507,#406,#509,#50b,#50a,#508,#509,#508,#509,#508,#509,#509,#509,#50b,#509,#509,#508,#509,#406,#509,#50b,#508,#509,#509,#508,#406,#508,#508,#50b,#50a,#50a,#509,#50a,#508,#509,#508,#508,#509,#50a,#50b,#50a,#50a,#508,#507,#406,#509,#508,#40d,#50a,#50a,#406,#509,#508,#507,#406,#50a,#508,#50c,#406,#507,#406,#406,#508,#50a,#509,#508,#508,#507,#507,#508,#507,#507,#508,#509,#507,#50a,#508,#507,#509,#507,#508,#50b,#50a,#508,#508,#509,#50a,#508,#509,#507,#509,#40c)"></div>
<div class="r" style="top:638px;height:2px;background:linear-gradient(90deg,#000,#000,#000,#000,#000,#000,#304,#001,#102,#102,#203,#203,#101,#203,#304,#203,#304,#000,#000,#102,#000,#000,#102,#000,#202,#202,#102,#000,#000,#000,#001,#203,#507,#406,#304,#000,#000,#000,#000,#203,#304,#508,#305,#102,#000,#000,#000,#000,#203,#204,#203,#102,#001,#000,#000,#000,#001,#304,#304,#203,#102,#000,#000,#000,#000,#001,#406,#305,#203,#202,#000,#000,#000,#001,#203,#304,#305,#102,#101,#000,#000,#001,#000,#305,#405,#203,#102,#000,#000,#000,#001,#000,#304,#406,#203,#102,#000,#000,#000,#000,#203,#304,#407,#305,#000,#000,#000,#001,#001,#304,#405,#304,#202,#000,#000,#000,#000,#204,#406,#304,#102,#101,#000,#000,#000,#101,#305,#507,#203,#203,#000,#000,#000,#000,#102,#203,#406,#305,#102,#000,#000,#000,#101,#204,#204,#305,#202,#102,#000,#000,#000,#202,#406,#305,#406,#203,#000,#000,#000,#000,#000,#406,#405,#304,#102,#102,#000,#000,#000,#203,#508,#204,#203,#000,#000,#000,#000,#102,#405,#305,#406,#000,#000,#000,#000,#202,#203,#304,#305,#101,#000,#000,#000,#000,#000,#304,#304,#203,#203,#000,#000,#000,#000,#101,#203,#203,#102,#000,#101,#000,#000,#101,#101,#406,#305)"></div>
<div class="r" style="top:640px;height:3px;background:linear-gradient(90deg,#000,#202,#000,#102,#000,#203,#305,#305,#102,#202,#000,#000,#000,#000,#305,#102,#203,#203,#101,#102,#101,#203,#101,#000,#203,#000,#001,#000,#000,#000,#000,#304,#507,#305,#102,#000,#000,#000,#000,#101,#203,#406,#406,#101,#000,#000,#000,#000,#102,#305,#304,#203,#000,#000,#000,#000,#000,#305,#304,#305,#202,#102,#000,#000,#000,#101,#406,#304,#204,#203,#001,#000,#000,#000,#202,#305,#305,#304,#102,#000,#000,#101,#000,#406,#305,#406,#101,#000,#000,#000,#000,#001,#204,#405,#203,#000,#000,#000,#000,#000,#304,#203,#305,#102,#000,#000,#000,#000,#203,#304,#203,#203,#203,#001,#000,#000,#000,#203,#305,#305,#101,#203,#000,#000,#000,#102,#203,#406,#203,#202,#000,#000,#000,#000,#203,#203,#507,#305,#101,#000,#000,#000,#000,#204,#406,#304,#204,#101,#000,#000,#000,#102,#304,#203,#406,#203,#001,#000,#000,#000,#203,#508,#508,#304,#203,#203,#000,#000,#203,#405,#509,#405,#507,#102,#202,#101,#000,#102,#507,#507,#507,#304,#102,#101,#000,#102,#406,#405,#305,#203,#203,#000,#101,#202,#000,#304,#406,#203,#304,#102,#102,#101,#000,#304,#304,#405,#304,#000,#101,#000,#000,#001,#304,#405,#507)"></div>
<div class="r" style="top:643px;height:2px;background:linear-gradient(90deg,#304,#001,#102,#202,#000,#203,#406,#102,#102,#405,#000,#204,#001,#102,#000,#102,#102,#203,#000,#202,#102,#102,#101,#000,#508,#203,#304,#101,#000,#101,#202,#406,#509,#305,#304,#102,#000,#102,#101,#304,#406,#507,#305,#101,#000,#000,#000,#102,#305,#305,#305,#406,#101,#202,#202,#102,#203,#507,#405,#406,#102,#102,#001,#000,#102,#304,#508,#508,#406,#204,#101,#000,#101,#203,#305,#509,#508,#304,#203,#000,#000,#102,#204,#508,#508,#507,#203,#101,#101,#000,#304,#203,#305,#508,#203,#203,#001,#101,#000,#203,#304,#406,#507,#305,#202,#102,#000,#102,#202,#405,#305,#304,#305,#203,#101,#203,#203,#203,#507,#406,#203,#203,#203,#000,#000,#202,#507,#405,#304,#202,#000,#000,#102,#101,#203,#405,#508,#305,#203,#102,#102,#001,#204,#305,#507,#507,#203,#101,#101,#203,#101,#202,#507,#405,#508,#305,#001,#102,#203,#102,#203,#508,#508,#204,#509,#507,#509,#508,#40c,#50b,#21e,#509,#509,#50a,#50c,#508,#509,#50a,#50a,#509,#40d,#508,#508,#509,#507,#509,#50a,#40d,#40c,#50a,#406,#305,#508,#509,#508,#40d,#40d,#509,#508,#507,#509,#509,#406,#508,#50a,#50a,#50b,#406,#508,#507,#304,#508,#509,#508,#50a)"></div>
<div class="r" style="top:645px;height:2px;background:linear-gradient(90deg,#000,#202,#102,#000,#000,#101,#204,#102,#101,#102,#000,#000,#000,#102,#305,#001,#203,#101,#000,#202,#000,#000,#203,#102,#507,#304,#202,#202,#102,#203,#304,#406,#508,#406,#304,#102,#000,#101,#000,#102,#203,#406,#304,#101,#101,#000,#000,#101,#203,#304,#305,#203,#202,#202,#304,#202,#203,#508,#508,#509,#305,#305,#203,#203,#304,#507,#508,#406,#406,#304,#101,#102,#405,#507,#50a,#40d,#509,#50b,#508,#507,#507,#407,#508,#50b,#40d,#50c,#50a,#406,#507,#304,#304,#508,#507,#508,#304,#203,#000,#204,#001,#202,#305,#508,#509,#507,#102,#102,#000,#101,#204,#508,#305,#406,#305,#203,#000,#101,#203,#305,#509,#406,#305,#305,#203,#000,#001,#203,#407,#508,#305,#305,#202,#203,#001,#102,#304,#304,#508,#507,#102,#001,#203,#102,#102,#406,#509,#406,#203,#203,#000,#203,#001,#305,#406,#507,#406,#406,#000,#101,#203,#203,#203,#50a,#509,#509,#40d,#03f,#08f,#0cf,#0cf,#09f,#0bf,#07f,#0af,#0af,#08f,#05f,#0bf,#08f,#04f,#06f,#0cf,#0af,#0af,#09f,#09f,#0bf,#0cf,#09f,#0bf,#04f,#03f,#05f,#07f,#0bf,#0cf,#0af,#08f,#09f,#01f,#05f,#06f,#04f,#08f,#03f,#09f,#09f,#08f,#0cf,#11f,#11f,#50c,#03f,#30e,#04f,#08f)"></div>
<div class="r" style="top:647px;height:2px;background:linear-gradient(90deg,#000,#000,#000,#000,#000,#000,#000,#000,#000,#000,#000,#000,#000,#000,#000,#000,#000,#000,#000,#000,#000,#000,#000,#000,#000,#000,#000,#000,#000,#101,#000,#000,#000,#000,#000,#000,#000,#000,#000,#000,#000,#000,#000,#000,#000,#000,#000,#000,#000,#000,#000,#000,#000,#50a,#50a,#304,#509,#508,#406,#507,#50a,#509,#304,#101,#508,#509,#406,#102,#102,#000,#000,#102,#03f,#20e,#40d,#21e,#509,#40c,#03f,#11e,#01f,#20e,#40d,#20e,#50a,#50a,#03f,#50b,#40d,#508,#50b,#509,#305,#405,#000,#101,#305,#101,#101,#000,#000,#000,#000,#203,#101,#000,#000,#000,#000,#000,#102,#102,#203,#000,#000,#000,#000,#000,#000,#000,#000,#102,#000,#000,#000,#000,#000,#000,#000,#000,#102,#000,#000,#000,#000,#000,#000,#000,#000,#000,#000,#000,#102,#000,#001,#000,#000,#000,#000,#000,#000,#000,#000,#000,#000,#000,#000,#000,#000,#101,#000,#000,#406,#509,#07f,#0ed,#0cf,#0ee,#0fa,#0ee,#0cf,#0fd,#0fb,#06f,#0df,#0fb,#0df,#0fa,#0ef,#0fc,#0ef,#0ef,#0fa,#0fc,#0fc,#0fc,#0fb,#0ee,#0f9,#0fa,#0ed,#0df,#0f8,#0f5,#0fb,#0ed,#0fa,#0ee,#0fc,#0df,#0fa,#0af,#0fc,#0ef,#0ef,#0cf,#0fb,#09f,#08f,#0af,#06f,#0af,#05f,#03f,#03f)"></div>
<div class="r" style="top:649px;height:2px;background:linear-gradient(90deg,#000,#000,#000,#000,#000,#000,#000,#000,#000,#000,#000,#000,#000,#000,#000,#000,#000,#000,#000,#000,#000,#000,#000,#507,#30e,#09f,#11f,#08f,#05f,#0af,#08f,#11f,#40d,#203,#000,#101,#000,#000,#000,#000,#000,#000,#000,#000,#000,#000,#000,#000,#001,#000,#000,#101,#40c,#0cf,#0ee,#0df,#09f,#0df,#0df,#0ed,#0ed,#09f,#07f,#0cf,#0cf,#0ef,#08f,#03f,#06f,#08f,#02f,#09f,#0ed,#0fb,#0f8,#0f8,#0fc,#0f8,#0fb,#0fb,#0ed,#0fc,#0ed,#0fa,#0f9,#0bf,#0cf,#0df,#0fa,#0df,#0ed,#0fc,#09f,#08f,#03f,#07f,#04f,#20e,#04f,#02f,#02f,#11f,#01f,#09f,#11f,#40c,#20e,#50a,#50b,#11e,#11f,#08f,#09f,#11f,#30e,#01f,#11f,#40d,#50b,#30e,#01f,#09f,#03f,#11f,#20e,#07f,#50b,#02f,#08f,#02f,#07f,#01f,#02f,#02f,#04f,#509,#30e,#30e,#50b,#06f,#20e,#03f,#11e,#05f,#01f,#50c,#40e,#02f,#03f,#50a,#11e,#20e,#11e,#40e,#30e,#40e,#30e,#50a,#40d,#06f,#03f,#40d,#06f,#05f,#0cf,#0af,#0df,#0ee,#09f,#0bf,#06f,#0af,#0cf,#20e,#06f,#0df,#0df,#0bf,#0df,#0fc,#0ee,#08f,#0ef,#0df,#0ed,#0fd,#0bf,#0bf,#0fc,#0fb,#0fc,#0ee,#0fa,#0ee,#0ed,#0ee,#0fb,#0fc,#0ed,#0bf,#0ed,#04f,#0df,#0fc,#0ed,#0af,#0ee,#0bf,#07f,#30e,#03f,#01f,#07f,#08f,#01f)"></div>
<div class="r" style="top:651px;height:2px;background:linear-gradient(90deg,#000,#000,#000,#000,#000,#000,#000,#000,#000,#000,#000,#000,#102,#000,#507,#50a,#509,#40d,#509,#50c,#11f,#40d,#01f,#0ed,#0ee,#0f9,#0fc,#0f9,#0f4,#0fa,#0ed,#0f8,#0ef,#07f,#03f,#11e,#30e,#50b,#02f,#03f,#40c,#50a,#20e,#02f,#11f,#50a,#50b,#02f,#40d,#05f,#01f,#0bf,#09f,#0f9,#0f9,#0df,#0ed,#0fa,#0ed,#0f8,#0fb,#0fb,#0ee,#0df,#0ed,#0fb,#0df,#0ee,#0fc,#0f9,#0bf,#0fc,#0cf,#0fa,#0ed,#0f9,#0bf,#0fb,#0fc,#0fa,#0bf,#0ee,#0af,#0ed,#0df,#0cf,#09f,#0cf,#0ed,#0ee,#0f7,#0fb,#0fc,#0af,#0cf,#0f9,#0ee,#0df,#0fc,#0ee,#0ed,#0ef,#0fb,#0fc,#0cf,#0ee,#0af,#0af,#0ee,#0fb,#0cf,#0fb,#0df,#0ef,#0cf,#0f9,#0fa,#0df,#0ee,#0fc,#0fb,#0ed,#0ee,#0fa,#0ee,#0f9,#0af,#0fd,#0fa,#0ef,#0fb,#0fc,#0fa,#0f9,#0fc,#09f,#09f,#08f,#0ee,#0f8,#0f9,#0df,#0fb,#0ef,#0df,#0cf,#0ee,#0fc,#0cf,#0df,#0fb,#0ed,#0fc,#0ee,#0ee,#0bf,#0cf,#0cf,#0cf,#09f,#0df,#09f,#0bf,#02f,#40c,#50b,#508,#507,#509,#406,#509,#203,#406,#000,#102,#406,#50a,#50b,#50b,#30e,#509,#406,#508,#40d,#40d,#40c,#40c,#509,#40d,#11f,#50b,#50a,#509,#20e,#50a,#50b,#01f,#30e,#50a,#50a,#50b,#102,#406,#30e,#40c,#203,#509,#406,#405,#203,#000,#203,#406,#406,#305)"></div>
<div class="r" style="top:653px;height:2px;background:linear-gradient(90deg,#20e,#20e,#40d,#11f,#50b,#01f,#20e,#02f,#06f,#01f,#02f,#40c,#09f,#40d,#02f,#0cf,#0ee,#0cf,#08f,#0fa,#0ee,#0af,#0ed,#0fb,#0fc,#0f9,#0af,#0fc,#0df,#0df,#0ef,#0af,#0fc,#0af,#09f,#0ee,#09f,#0ee,#0df,#0cf,#0af,#0bf,#0af,#0df,#0bf,#0cf,#08f,#0fb,#08f,#0af,#0af,#0ee,#0af,#08f,#07f,#40c,#05f,#06f,#11f,#05f,#05f,#05f,#01f,#06f,#30e,#11f,#04f,#20e,#04f,#0cf,#03f,#04f,#509,#50c,#20e,#30e,#30e,#40c,#50a,#407,#509,#508,#507,#50a,#50b,#509,#508,#50a,#50b,#02f,#07f,#05f,#01f,#50b,#20e,#09f,#40c,#11f,#0af,#04f,#0bf,#06f,#30e,#09f,#04f,#02f,#03f,#06f,#06f,#08f,#07f,#06f,#02f,#07f,#0af,#0df,#0cf,#0bf,#0bf,#09f,#0cf,#0cf,#03f,#0af,#08f,#0ef,#03f,#07f,#09f,#0af,#0af,#0ef,#0ee,#0ed,#0bf,#01f,#0bf,#11f,#0cf,#0ed,#0ee,#0df,#0ee,#07f,#08f,#02f,#0df,#08f,#08f,#05f,#0fd,#0cf,#06f,#01f,#05f,#06f,#05f,#09f,#03f,#20e,#03f,#40d,#40c,#203,#000,#000,#000,#000,#000,#000,#000,#000,#000,#000,#000,#000,#000,#000,#000,#000,#000,#000,#000,#000,#000,#000,#000,#000,#000,#000,#000,#000,#000,#000,#000,#000,#000,#000,#000,#000,#000,#000,#000,#000,#000,#000,#000,#000,#000,#000,#000,#000,#000,#000,#000)"></div>
<div class="r" style="top:655px;height:2px;background:linear-gradient(90deg,#03f,#0df,#0cf,#0ef,#04f,#03f,#0cf,#07f,#0fc,#0ed,#0fb,#0af,#0fc,#09f,#07f,#0bf,#0ee,#0df,#02f,#0ee,#0bf,#02f,#09f,#01f,#50b,#11f,#508,#50b,#509,#508,#204,#406,#01f,#20e,#40d,#02f,#09f,#09f,#06f,#01f,#40d,#11f,#07f,#08f,#0af,#40d,#08f,#0bf,#11f,#02f,#20e,#40d,#508,#000,#000,#000,#000,#000,#000,#000,#000,#000,#000,#000,#000,#000,#000,#000,#101,#405,#304,#000,#000,#000,#000,#000,#000,#000,#000,#000,#000,#000,#000,#000,#000,#000,#000,#000,#000,#101,#000,#000,#000,#000,#101,#000,#000,#000,#102,#203,#202,#001,#000,#101,#000,#304,#101,#102,#102,#507,#101,#000,#001,#001,#305,#508,#406,#406,#405,#305,#507,#102,#305,#406,#406,#507,#102,#304,#507,#203,#202,#304,#50a,#50a,#406,#102,#406,#305,#204,#30e,#50b,#508,#509,#203,#507,#204,#509,#406,#101,#406,#509,#304,#507,#304,#203,#204,#305,#304,#000,#000,#001,#000,#000,#000,#000,#000,#000,#000,#000,#000,#000,#000,#000,#000,#000,#000,#000,#000,#000,#000,#000,#000,#000,#000,#000,#000,#000,#000,#000,#000,#000,#000,#000,#000,#000,#000,#000,#000,#000,#000,#000,#000,#000,#000,#000,#000,#000,#000,#000,#000,#000,#000,#000,#000,#000)"></div>
<div class="r" style="top:657px;height:2px;background:linear-gradient(90deg,#02f,#07f,#02f,#05f,#40c,#20e,#05f,#11f,#07f,#04f,#0cf,#02f,#08f,#40d,#40d,#40c,#509,#40c,#507,#50a,#509,#508,#203,#000,#000,#000,#000,#000,#000,#000,#000,#000,#000,#000,#000,#305,#102,#001,#406,#000,#102,#204,#203,#102,#102,#203,#203,#305,#101,#000,#000,#000,#000,#000,#000,#000,#000,#000,#000,#000,#000,#000,#000,#000,#000,#000,#000,#000,#000,#000,#000,#000,#000,#000,#000,#000,#000,#000,#000,#000,#000,#000,#000,#000,#000,#000,#000,#000,#000,#000,#000,#000,#000,#000,#000,#000,#000,#000,#000,#000,#000,#000,#000,#000,#000,#000,#000,#000,#000,#000,#000,#000,#000,#000,#000,#000,#000,#000,#000,#000,#000,#000,#000,#000,#000,#000,#000,#000,#000,#000,#000,#000,#000,#000,#000,#000,#000,#000,#000,#000,#000,#000,#000,#000,#000,#000,#000,#000,#000,#000,#000,#000,#000,#000,#000,#000,#000,#000,#000,#000,#000,#000,#000,#000,#000,#000,#000,#000,#000,#000,#000,#000,#000,#000,#000,#000,#000,#000,#000,#000,#000,#000,#000,#000,#000,#000,#000,#000,#000,#000,#000,#000,#000,#000,#000,#000,#000,#000,#000,#000,#000,#000,#000,#000,#000,#000,#000,#000,#000,#000,#000,#000,#000,#000,#000)"></div>
<div class="r" style="top:659px;height:2px;background:linear-gradient(90deg,#101,#507,#304,#101,#102,#203,#102,#406,#305,#406,#507,#203,#305,#000,#000,#000,#000,#000,#000,#000,#000,#000,#000,#000,#000,#000,#000,#000,#000,#000,#000,#000,#000,#000,#000,#000,#000,#000,#000,#000,#000,#000,#000,#000,#000,#000,#000,#000,#000,#000,#000,#000,#000,#000,#000,#000,#000,#000,#000,#000,#000,#000,#000,#000,#000,#000,#000,#000,#000,#000,#000,#000,#000,#000,#000,#000,#000,#000,#000,#000,#000,#000,#000,#000,#000,#000,#000,#000,#000,#000,#000,#000,#000,#000,#000,#000,#000,#000,#000,#000,#000,#000,#000,#000,#000,#000,#000,#000,#000,#000,#000,#000,#000,#000,#000,#000,#000,#000,#000,#000,#000,#000,#000,#000,#000,#000,#000,#000,#000,#000,#000,#000,#000,#000,#000,#000,#000,#000,#000,#000,#000,#000,#000,#000,#000,#000,#000,#000,#000,#000,#000,#000,#000,#000,#000,#000,#000,#000,#000,#000,#000,#000,#000,#000,#000,#000,#000,#000,#000,#000,#000,#000,#000,#000,#000,#000,#000,#000,#000,#000,#000,#000,#000,#000,#000,#000,#000,#000,#000,#000,#000,#000,#000,#000,#000,#000,#000,#000,#000,#000,#000,#000,#000,#000,#000,#000,#000,#000,#000,#000,#000,#000,#000,#000,#000)"></div>
<div class="r" style="top:661px;height:2px;background:#000"></div>
<div class="r" style="top:663px;height:1px;background:#000"></div>
<div class="r" style="top:664px;height:3px;background:#000"></div>
<div class="r" style="top:667px;height:2px;background:#000"></div>
<div class="r" style="top:669px;height:2px;background:#000"></div>
<div class="r" style="top:671px;height:3px;background:#000"></div>
<div class="k" style="left:92px;top:175px;width:428px;height:1px;background:#fff"></div>
<div class="k" style="left:91px;top:79px;width:1px;height:169px"></div><div class="k" style="left:520px;top:79px;width:1px;height:169px"></div>
<div class="k" style="left:91px;top:247px;width:1px;height:84px"></div><div class="k" style="left:520px;top:247px;width:1px;height:84px"></div>
<div class="k" style="left:91px;top:338px;width:1px;height:337px"></div><div class="k" style="left:520px;top:338px;width:1px;height:337px"></div>
<div class="k" style="left:91px;top:78px;width:430px;height:1px;background:#999"></div>
<div class="k" style="left:91px;top:79px;width:430px;height:1px;background:#2a2a2a"></div>
<div class="k" style="left:91px;top:330px;width:430px;height:1px"></div>
<div class="k" style="left:91px;top:246px;width:430px;height:1px"></div>
<div class="k" style="left:91px;top:673px;width:430px;height:1px"></div>
<div class="k" style="left:92px;top:246px;width:4px;height:1px"></div><div class="k" style="left:516px;top:246px;width:4px;height:1px"></div><div class="k" style="left:92px;top:235px;width:8px;height:1px"></div><div class="k" style="left:512px;top:235px;width:8px;height:1px"></div><div class="k" style="left:92px;top:223px;width:4px;height:1px"></div><div class="k" style="left:516px;top:223px;width:4px;height:1px"></div><div class="k" style="left:92px;top:212px;width:4px;height:1px"></div><div class="k" style="left:516px;top:212px;width:4px;height:1px"></div><div class="k" style="left:92px;top:200px;width:4px;height:1px"></div><div class="k" style="left:516px;top:200px;width:4px;height:1px"></div><div class="k" style="left:92px;top:189px;width:8px;height:1px"></div><div class="k" style="left:512px;top:189px;width:8px;height:1px"></div><div class="k" style="left:92px;top:177px;width:4px;height:1px"></div><div class="k" style="left:516px;top:177px;width:4px;height:1px"></div><div class="k" style="left:92px;top:166px;width:4px;height:1px"></div><div class="k" style="left:516px;top:166px;width:4px;height:1px"></div><div class="k" style="left:92px;top:154px;width:4px;height:1px"></div><div class="k" style="left:516px;top:154px;width:4px;height:1px"></div><div class="k" style="left:92px;top:142px;width:8px;height:1px"></div><div class="k" style="left:512px;top:142px;width:8px;height:1px"></div><div class="k" style="left:92px;top:131px;width:4px;height:1px"></div><div class="k" style="left:516px;top:131px;width:4px;height:1px"></div><div class="k" style="left:92px;top:119px;width:4px;height:1px"></div><div class="k" style="left:516px;top:119px;width:4px;height:1px"></div><div class="k" style="left:92px;top:108px;width:4px;height:1px"></div><div class="k" style="left:516px;top:108px;width:4px;height:1px"></div><div class="k" style="left:92px;top:96px;width:8px;height:1px"></div><div class="k" style="left:512px;top:96px;width:8px;height:1px"></div><div class="k" style="left:92px;top:85px;width:4px;height:1px"></div><div class="k" style="left:516px;top:85px;width:4px;height:1px"></div>
<div class="k" style="left:92px;top:326px;width:9px;height:1px"></div><div class="k" style="left:511px;top:326px;width:9px;height:1px"></div><div class="k" style="left:92px;top:321px;width:5px;height:1px"></div><div class="k" style="left:515px;top:321px;width:5px;height:1px"></div><div class="k" style="left:92px;top:316px;width:5px;height:1px"></div><div class="k" style="left:515px;top:316px;width:5px;height:1px"></div><div class="k" style="left:92px;top:312px;width:5px;height:1px"></div><div class="k" style="left:515px;top:312px;width:5px;height:1px"></div><div class="k" style="left:92px;top:307px;width:9px;height:1px"></div><div class="k" style="left:511px;top:307px;width:9px;height:1px"></div><div class="k" style="left:92px;top:302px;width:5px;height:1px"></div><div class="k" style="left:515px;top:302px;width:5px;height:1px"></div><div class="k" style="left:92px;top:298px;width:5px;height:1px"></div><div class="k" style="left:515px;top:298px;width:5px;height:1px"></div><div class="k" style="left:92px;top:293px;width:5px;height:1px"></div><div class="k" style="left:515px;top:293px;width:5px;height:1px"></div><div class="k" style="left:92px;top:288px;width:9px;height:1px"></div><div class="k" style="left:511px;top:288px;width:9px;height:1px"></div><div class="k" style="left:92px;top:284px;width:5px;height:1px"></div><div class="k" style="left:515px;top:284px;width:5px;height:1px"></div><div class="k" style="left:92px;top:279px;width:5px;height:1px"></div><div class="k" style="left:515px;top:279px;width:5px;height:1px"></div><div class="k" style="left:92px;top:274px;width:5px;height:1px"></div><div class="k" style="left:515px;top:274px;width:5px;height:1px"></div><div class="k" style="left:92px;top:270px;width:9px;height:1px"></div><div class="k" style="left:511px;top:270px;width:9px;height:1px"></div><div class="k" style="left:92px;top:265px;width:5px;height:1px"></div><div class="k" style="left:515px;top:265px;width:5px;height:1px"></div><div class="k" style="left:92px;top:260px;width:5px;height:1px"></div><div class="k" style="left:515px;top:260px;width:5px;height:1px"></div><div class="k" style="left:92px;top:256px;width:5px;height:1px"></div><div class="k" style="left:515px;top:256px;width:5px;height:1px"></div><div class="k" style="left:92px;top:251px;width:9px;height:1px"></div><div class="k" style="left:511px;top:251px;width:9px;height:1px"></div>
<div class="k" style="left:92px;top:422px;width:3px;height:1px"></div><div class="k" style="left:517px;top:422px;width:3px;height:1px"></div><div class="k" style="left:92px;top:416px;width:5px;height:1px"></div><div class="k" style="left:515px;top:416px;width:5px;height:1px"></div><div class="k" style="left:92px;top:410px;width:3px;height:1px"></div><div class="k" style="left:517px;top:410px;width:3px;height:1px"></div><div class="k" style="left:92px;top:404px;width:3px;height:1px"></div><div class="k" style="left:517px;top:404px;width:3px;height:1px"></div><div class="k" style="left:92px;top:398px;width:3px;height:1px"></div><div class="k" style="left:517px;top:398px;width:3px;height:1px"></div><div class="k" style="left:92px;top:393px;width:5px;height:1px"></div><div class="k" style="left:515px;top:393px;width:5px;height:1px"></div><div class="k" style="left:92px;top:387px;width:3px;height:1px"></div><div class="k" style="left:517px;top:387px;width:3px;height:1px"></div><div class="k" style="left:92px;top:381px;width:3px;height:1px"></div><div class="k" style="left:517px;top:381px;width:3px;height:1px"></div><div class="k" style="left:92px;top:375px;width:3px;height:1px"></div><div class="k" style="left:517px;top:375px;width:3px;height:1px"></div><div class="k" style="left:92px;top:370px;width:5px;height:1px"></div><div class="k" style="left:515px;top:370px;width:5px;height:1px"></div><div class="k" style="left:92px;top:364px;width:3px;height:1px"></div><div class="k" style="left:517px;top:364px;width:3px;height:1px"></div><div class="k" style="left:92px;top:358px;width:3px;height:1px"></div><div class="k" style="left:517px;top:358px;width:3px;height:1px"></div><div class="k" style="left:92px;top:352px;width:3px;height:1px"></div><div class="k" style="left:517px;top:352px;width:3px;height:1px"></div><div class="k" style="left:92px;top:347px;width:5px;height:1px"></div><div class="k" style="left:515px;top:347px;width:5px;height:1px"></div><div class="k" style="left:92px;top:341px;width:3px;height:1px"></div><div class="k" style="left:517px;top:341px;width:3px;height:1px"></div>
<div class="k" style="left:92px;top:506px;width:3px;height:1px"></div><div class="k" style="left:517px;top:506px;width:3px;height:1px"></div><div class="k" style="left:92px;top:500px;width:5px;height:1px"></div><div class="k" style="left:515px;top:500px;width:5px;height:1px"></div><div class="k" style="left:92px;top:494px;width:3px;height:1px"></div><div class="k" style="left:517px;top:494px;width:3px;height:1px"></div><div class="k" style="left:92px;top:488px;width:3px;height:1px"></div><div class="k" style="left:517px;top:488px;width:3px;height:1px"></div><div class="k" style="left:92px;top:482px;width:3px;height:1px"></div><div class="k" style="left:517px;top:482px;width:3px;height:1px"></div><div class="k" style="left:92px;top:477px;width:5px;height:1px"></div><div class="k" style="left:515px;top:477px;width:5px;height:1px"></div><div class="k" style="left:92px;top:471px;width:3px;height:1px"></div><div class="k" style="left:517px;top:471px;width:3px;height:1px"></div><div class="k" style="left:92px;top:465px;width:3px;height:1px"></div><div class="k" style="left:517px;top:465px;width:3px;height:1px"></div><div class="k" style="left:92px;top:459px;width:3px;height:1px"></div><div class="k" style="left:517px;top:459px;width:3px;height:1px"></div><div class="k" style="left:92px;top:454px;width:5px;height:1px"></div><div class="k" style="left:515px;top:454px;width:5px;height:1px"></div><div class="k" style="left:92px;top:448px;width:3px;height:1px"></div><div class="k" style="left:517px;top:448px;width:3px;height:1px"></div><div class="k" style="left:92px;top:442px;width:3px;height:1px"></div><div class="k" style="left:517px;top:442px;width:3px;height:1px"></div><div class="k" style="left:92px;top:436px;width:3px;height:1px"></div><div class="k" style="left:517px;top:436px;width:3px;height:1px"></div><div class="k" style="left:92px;top:431px;width:5px;height:1px"></div><div class="k" style="left:515px;top:431px;width:5px;height:1px"></div><div class="k" style="left:92px;top:425px;width:3px;height:1px"></div><div class="k" style="left:517px;top:425px;width:3px;height:1px"></div>
<div class="k" style="left:92px;top:590px;width:3px;height:1px"></div><div class="k" style="left:517px;top:590px;width:3px;height:1px"></div><div class="k" style="left:92px;top:584px;width:5px;height:1px"></div><div class="k" style="left:515px;top:584px;width:5px;height:1px"></div><div class="k" style="left:92px;top:578px;width:3px;height:1px"></div><div class="k" style="left:517px;top:578px;width:3px;height:1px"></div><div class="k" style="left:92px;top:572px;width:3px;height:1px"></div><div class="k" style="left:517px;top:572px;width:3px;height:1px"></div><div class="k" style="left:92px;top:566px;width:3px;height:1px"></div><div class="k" style="left:517px;top:566px;width:3px;height:1px"></div><div class="k" style="left:92px;top:561px;width:5px;height:1px"></div><div class="k" style="left:515px;top:561px;width:5px;height:1px"></div><div class="k" style="left:92px;top:555px;width:3px;height:1px"></div><div class="k" style="left:517px;top:555px;width:3px;height:1px"></div><div class="k" style="left:92px;top:549px;width:3px;height:1px"></div><div class="k" style="left:517px;top:549px;width:3px;height:1px"></div><div class="k" style="left:92px;top:543px;width:3px;height:1px"></div><div class="k" style="left:517px;top:543px;width:3px;height:1px"></div><div class="k" style="left:92px;top:538px;width:5px;height:1px"></div><div class="k" style="left:515px;top:538px;width:5px;height:1px"></div><div class="k" style="left:92px;top:532px;width:3px;height:1px"></div><div class="k" style="left:517px;top:532px;width:3px;height:1px"></div><div class="k" style="left:92px;top:526px;width:3px;height:1px"></div><div class="k" style="left:517px;top:526px;width:3px;height:1px"></div><div class="k" style="left:92px;top:520px;width:3px;height:1px"></div><div class="k" style="left:517px;top:520px;width:3px;height:1px"></div><div class="k" style="left:92px;top:515px;width:5px;height:1px"></div><div class="k" style="left:515px;top:515px;width:5px;height:1px"></div><div class="k" style="left:92px;top:509px;width:3px;height:1px"></div><div class="k" style="left:517px;top:509px;width:3px;height:1px"></div>
<div class="k" style="left:92px;top:674px;width:3px;height:1px"></div><div class="k" style="left:517px;top:674px;width:3px;height:1px"></div><div class="k" style="left:92px;top:668px;width:5px;height:1px"></div><div class="k" style="left:515px;top:668px;width:5px;height:1px"></div><div class="k" style="left:92px;top:662px;width:3px;height:1px"></div><div class="k" style="left:517px;top:662px;width:3px;height:1px"></div><div class="k" style="left:92px;top:656px;width:3px;height:1px"></div><div class="k" style="left:517px;top:656px;width:3px;height:1px"></div><div class="k" style="left:92px;top:650px;width:3px;height:1px"></div><div class="k" style="left:517px;top:650px;width:3px;height:1px"></div><div class="k" style="left:92px;top:645px;width:5px;height:1px"></div><div class="k" style="left:515px;top:645px;width:5px;height:1px"></div><div class="k" style="left:92px;top:639px;width:3px;height:1px"></div><div class="k" style="left:517px;top:639px;width:3px;height:1px"></div><div class="k" style="left:92px;top:633px;width:3px;height:1px"></div><div class="k" style="left:517px;top:633px;width:3px;height:1px"></div><div class="k" style="left:92px;top:627px;width:3px;height:1px"></div><div class="k" style="left:517px;top:627px;width:3px;height:1px"></div><div class="k" style="left:92px;top:622px;width:5px;height:1px"></div><div class="k" style="left:515px;top:622px;width:5px;height:1px"></div><div class="k" style="left:92px;top:616px;width:3px;height:1px"></div><div class="k" style="left:517px;top:616px;width:3px;height:1px"></div><div class="k" style="left:92px;top:610px;width:3px;height:1px"></div><div class="k" style="left:517px;top:610px;width:3px;height:1px"></div><div class="k" style="left:92px;top:604px;width:3px;height:1px"></div><div class="k" style="left:517px;top:604px;width:3px;height:1px"></div><div class="k" style="left:92px;top:599px;width:5px;height:1px"></div><div class="k" style="left:515px;top:599px;width:5px;height:1px"></div><div class="k" style="left:92px;top:593px;width:3px;height:1px"></div><div class="k" style="left:517px;top:593px;width:3px;height:1px"></div>
<div class="k" style="left:127px;top:80px;width:1px;height:1px"></div><div class="k" style="left:162px;top:80px;width:1px;height:1px"></div><div class="k" style="left:198px;top:80px;width:1px;height:2px"></div><div class="k" style="left:234px;top:80px;width:1px;height:1px"></div><div class="k" style="left:270px;top:80px;width:1px;height:1px"></div><div class="k" style="left:306px;top:80px;width:1px;height:2px"></div><div class="k" style="left:341px;top:80px;width:1px;height:1px"></div><div class="k" style="left:377px;top:80px;width:1px;height:1px"></div><div class="k" style="left:413px;top:80px;width:1px;height:2px"></div><div class="k" style="left:448px;top:80px;width:1px;height:1px"></div><div class="k" style="left:484px;top:80px;width:1px;height:1px"></div>
<div class="k" style="left:127px;top:329px;width:1px;height:1px"></div><div class="k" style="left:162px;top:329px;width:1px;height:1px"></div><div class="k" style="left:198px;top:328px;width:1px;height:2px"></div><div class="k" style="left:234px;top:329px;width:1px;height:1px"></div><div class="k" style="left:270px;top:329px;width:1px;height:1px"></div><div class="k" style="left:306px;top:328px;width:1px;height:2px"></div><div class="k" style="left:341px;top:329px;width:1px;height:1px"></div><div class="k" style="left:377px;top:329px;width:1px;height:1px"></div><div class="k" style="left:413px;top:328px;width:1px;height:2px"></div><div class="k" style="left:448px;top:329px;width:1px;height:1px"></div><div class="k" style="left:484px;top:329px;width:1px;height:1px"></div>
<div class="k" style="left:127px;top:672px;width:1px;height:1px"></div><div class="k" style="left:162px;top:672px;width:1px;height:1px"></div><div class="k" style="left:198px;top:671px;width:1px;height:2px"></div><div class="k" style="left:234px;top:672px;width:1px;height:1px"></div><div class="k" style="left:270px;top:672px;width:1px;height:1px"></div><div class="k" style="left:306px;top:671px;width:1px;height:2px"></div><div class="k" style="left:341px;top:672px;width:1px;height:1px"></div><div class="k" style="left:377px;top:672px;width:1px;height:1px"></div><div class="k" style="left:413px;top:671px;width:1px;height:2px"></div><div class="k" style="left:448px;top:672px;width:1px;height:1px"></div><div class="k" style="left:484px;top:672px;width:1px;height:1px"></div>
<div class="yl" style="top:230.4px">200</div>
<div class="yl" style="top:184.2px">400</div>
<div class="yl" style="top:138.1px">600</div>
<div class="yl" style="top:91.9px">800</div>
<div class="yl" style="top:247.5px">40</div>
<div class="yl" style="top:265.3px">20</div>
<div class="yl" style="top:283.9px">0</div>
<div class="yl" style="top:302.5px">−20</div>
<div class="yl" style="top:321.1px">−40</div>
<div class="yl" style="top:411.1px">200</div>
<div class="yl" style="top:388.0px">400</div>
<div class="yl" style="top:364.9px">600</div>
<div class="yl" style="top:341.9px">800</div>
<div class="yl" style="top:495.1px">200</div>
<div class="yl" style="top:472.0px">400</div>
<div class="yl" style="top:448.9px">600</div>
<div class="yl" style="top:425.9px">800</div>
<div class="yl" style="top:579.1px">200</div>
<div class="yl" style="top:556.0px">400</div>
<div class="yl" style="top:532.9px">600</div>
<div class="yl" style="top:509.9px">800</div>
<div class="yl" style="top:663.1px">200</div>
<div class="yl" style="top:640.0px">400</div>
<div class="yl" style="top:616.9px">600</div>
<div class="yl" style="top:593.9px">800</div>
<div class="rot" style="left:54.8px;top:163px;font-size:12px;letter-spacing:.55px;-webkit-text-stroke:.55px #000">v<sub>eq</sub> [km/s]</div>
<div class="rot" style="left:55.5px;top:289px;font-size:11.5px;letter-spacing:.35px;-webkit-text-stroke:.5px #000">angle [°]</div>
<div class="rot" style="left:54.8px;top:380.4px;font-size:12px;letter-spacing:.55px;-webkit-text-stroke:.55px #000">v<sub>eq</sub> [km/s]</div>
<div class="rot" style="left:54.8px;top:464.4px;font-size:12px;letter-spacing:.55px;-webkit-text-stroke:.55px #000">v<sub>eq</sub> [km/s]</div>
<div class="rot" style="left:54.8px;top:548.4px;font-size:12px;letter-spacing:.55px;-webkit-text-stroke:.55px #000">v<sub>eq</sub> [km/s]</div>
<div class="rot" style="left:54.8px;top:632.4px;font-size:12px;letter-spacing:.55px;-webkit-text-stroke:.55px #000">v<sub>eq</sub> [km/s]</div>
<div class="cb" style="top:87.0px;height:151.6px;background:linear-gradient(180deg,rgb(0,0,0) 0.0%,rgb(0,0,0) 0.8%,rgb(255,0,0) 2.0%,rgb(255,8,0) 10.0%,rgb(255,16,0) 18.0%,rgb(255,80,0) 28.0%,rgb(255,128,0) 38.0%,rgb(255,192,0) 48.0%,rgb(255,255,0) 54.0%,rgb(176,255,0) 62.0%,rgb(64,255,0) 72.0%,rgb(0,255,0) 75.0%,rgb(0,255,48) 78.0%,rgb(0,255,128) 82.0%,rgb(0,255,192) 85.0%,rgb(0,232,255) 87.4%,rgb(0,190,255) 88.8%,rgb(0,128,255) 90.4%,rgb(0,16,255) 92.0%,rgb(60,0,230) 93.0%,rgb(90,0,175) 94.0%,rgb(85,0,125) 95.0%,rgb(46,0,68) 95.7%,rgb(0,0,0) 95.8%,rgb(0,0,0) 100.0%)"></div><div class="k" style="left:526px;top:237.6px;width:7px;height:1px"></div>
<div class="cl" style="top:85.7px">50</div>
<div class="cl" style="top:113.6px">40</div>
<div class="cl" style="top:143.6px">30</div>
<div class="cl" style="top:173.6px">20</div>
<div class="cl" style="top:204.0px">10</div>
<div class="cl" style="top:229.9px">0</div>
<div class="rot" style="left:557px;top:163px;letter-spacing:.15px;word-spacing:2.2px;-webkit-text-stroke:.35px #000">current [pA]</div>
<div class="cb" style="top:346.5px;height:67.5px;background:linear-gradient(180deg,rgb(0,0,0) 0.0%,rgb(0,0,0) 0.8%,rgb(255,0,0) 2.0%,rgb(255,8,0) 10.0%,rgb(255,16,0) 18.0%,rgb(255,80,0) 28.0%,rgb(255,128,0) 38.0%,rgb(255,192,0) 48.0%,rgb(255,255,0) 54.0%,rgb(176,255,0) 62.0%,rgb(64,255,0) 72.0%,rgb(0,255,0) 75.0%,rgb(0,255,48) 78.0%,rgb(0,255,128) 82.0%,rgb(0,255,192) 85.0%,rgb(0,232,255) 87.4%,rgb(0,190,255) 88.8%,rgb(0,128,255) 90.4%,rgb(0,16,255) 92.0%,rgb(60,0,230) 93.0%,rgb(90,0,175) 94.0%,rgb(85,0,125) 95.0%,rgb(46,0,68) 95.7%,rgb(0,0,0) 95.8%,rgb(0,0,0) 100.0%)"></div><div class="k" style="left:526px;top:413.0px;width:7px;height:1px"></div>
<div class="cl" style="top:344.9px">50</div>
<div class="cl" style="top:355.7px">40</div>
<div class="cl" style="top:369.4px">30</div>
<div class="cl" style="top:382.8px">20</div>
<div class="cl" style="top:395.9px">10</div>
<div class="cl" style="top:406.2px">0</div>
<div class="rot" style="left:557px;top:380px;letter-spacing:.15px;word-spacing:2.2px;-webkit-text-stroke:.35px #000">current [pA]</div>
<div class="cb" style="top:430.5px;height:67.5px;background:linear-gradient(180deg,rgb(0,0,0) 0.0%,rgb(0,0,0) 0.8%,rgb(255,0,0) 2.0%,rgb(255,8,0) 10.0%,rgb(255,16,0) 18.0%,rgb(255,80,0) 28.0%,rgb(255,128,0) 38.0%,rgb(255,192,0) 48.0%,rgb(255,255,0) 54.0%,rgb(176,255,0) 62.0%,rgb(64,255,0) 72.0%,rgb(0,255,0) 75.0%,rgb(0,255,48) 78.0%,rgb(0,255,128) 82.0%,rgb(0,255,192) 85.0%,rgb(0,232,255) 87.4%,rgb(0,190,255) 88.8%,rgb(0,128,255) 90.4%,rgb(0,16,255) 92.0%,rgb(60,0,230) 93.0%,rgb(90,0,175) 94.0%,rgb(85,0,125) 95.0%,rgb(46,0,68) 95.7%,rgb(0,0,0) 95.8%,rgb(0,0,0) 100.0%)"></div><div class="k" style="left:526px;top:497.0px;width:7px;height:1px"></div>
<div class="cl" style="top:428.9px">50</div>
<div class="cl" style="top:439.7px">40</div>
<div class="cl" style="top:453.4px">30</div>
<div class="cl" style="top:466.8px">20</div>
<div class="cl" style="top:479.9px">10</div>
<div class="cl" style="top:490.2px">0</div>
<div class="rot" style="left:557px;top:464px;letter-spacing:.15px;word-spacing:2.2px;-webkit-text-stroke:.35px #000">current [pA]</div>
<div class="cb" style="top:514.5px;height:67.5px;background:linear-gradient(180deg,rgb(0,0,0) 0.0%,rgb(0,0,0) 0.8%,rgb(255,0,0) 2.0%,rgb(255,8,0) 10.0%,rgb(255,16,0) 18.0%,rgb(255,80,0) 28.0%,rgb(255,128,0) 38.0%,rgb(255,192,0) 48.0%,rgb(255,255,0) 54.0%,rgb(176,255,0) 62.0%,rgb(64,255,0) 72.0%,rgb(0,255,0) 75.0%,rgb(0,255,48) 78.0%,rgb(0,255,128) 82.0%,rgb(0,255,192) 85.0%,rgb(0,232,255) 87.4%,rgb(0,190,255) 88.8%,rgb(0,128,255) 90.4%,rgb(0,16,255) 92.0%,rgb(60,0,230) 93.0%,rgb(90,0,175) 94.0%,rgb(85,0,125) 95.0%,rgb(46,0,68) 95.7%,rgb(0,0,0) 95.8%,rgb(0,0,0) 100.0%)"></div><div class="k" style="left:526px;top:581.0px;width:7px;height:1px"></div>
<div class="cl" style="top:512.9px">50</div>
<div class="cl" style="top:523.7px">40</div>
<div class="cl" style="top:537.4px">30</div>
<div class="cl" style="top:550.8px">20</div>
<div class="cl" style="top:563.9px">10</div>
<div class="cl" style="top:574.2px">0</div>
<div class="rot" style="left:557px;top:548px;letter-spacing:.15px;word-spacing:2.2px;-webkit-text-stroke:.35px #000">current [pA]</div>
<div class="cb" style="top:598.5px;height:67.5px;background:linear-gradient(180deg,rgb(0,0,0) 0.0%,rgb(0,0,0) 0.8%,rgb(255,0,0) 2.0%,rgb(255,8,0) 10.0%,rgb(255,16,0) 18.0%,rgb(255,80,0) 28.0%,rgb(255,128,0) 38.0%,rgb(255,192,0) 48.0%,rgb(255,255,0) 54.0%,rgb(176,255,0) 62.0%,rgb(64,255,0) 72.0%,rgb(0,255,0) 75.0%,rgb(0,255,48) 78.0%,rgb(0,255,128) 82.0%,rgb(0,255,192) 85.0%,rgb(0,232,255) 87.4%,rgb(0,190,255) 88.8%,rgb(0,128,255) 90.4%,rgb(0,16,255) 92.0%,rgb(60,0,230) 93.0%,rgb(90,0,175) 94.0%,rgb(85,0,125) 95.0%,rgb(46,0,68) 95.7%,rgb(0,0,0) 95.8%,rgb(0,0,0) 100.0%)"></div><div class="k" style="left:526px;top:665.0px;width:7px;height:1px"></div>
<div class="cl" style="top:596.9px">50</div>
<div class="cl" style="top:607.7px">40</div>
<div class="cl" style="top:621.4px">30</div>
<div class="cl" style="top:634.8px">20</div>
<div class="cl" style="top:647.9px">10</div>
<div class="cl" style="top:658.2px">0</div>
<div class="rot" style="left:557px;top:632px;letter-spacing:.15px;word-spacing:2.2px;-webkit-text-stroke:.35px #000">current [pA]</div>
<div class="t" style="left:102px;top:80px;font-weight:bold;font-size:11px;transform-origin:0 0;transform:scaleX(.78)">TOTAL</div>
<div class="t" style="left:102px;top:338px;font-size:11.5px;letter-spacing:.3px;-webkit-text-stroke:.6px #000">A sensor</div>
<div class="t" style="left:102px;top:422px;font-size:11.5px;letter-spacing:.3px;-webkit-text-stroke:.6px #000">B sensor</div>
<div class="t" style="left:102px;top:506px;font-size:11.5px;letter-spacing:.3px;-webkit-text-stroke:.6px #000">C sensor</div>
<div class="t" style="left:102px;top:590px;font-size:11.5px;letter-spacing:.3px;-webkit-text-stroke:.6px #000">D sensor</div>
<div class="k" style="left:92px;top:288px;width:428px;height:1px"></div>
<svg style="position:absolute;left:0;top:0" width="612" height="792" viewBox="0 0 612 792"><path d="M91.9 288.8 L93.6 288.5 L95.2 288.9 L96.8 288.7 L98.5 288.8 L99.8 287.0 L101.7 286.6 L103.7 286.0 L105.4 285.8 L107.2 284.7 L108.9 284.9 L110.7 284.4 L112.4 285.7 L114.1 285.4 L116.8 288.3 L119.4 289.6 L121.1 289.0 L122.9 288.7 L124.6 288.8 L126.3 289.6 L128.1 289.0 L129.8 289.1 L131.8 289.3 L133.8 288.5 L135.7 288.5 L137.7 288.1 L140.3 283.6 L142.2 282.7 L144.2 282.8 L146.0 283.5 L147.7 284.4 L149.4 284.4 L152.1 287.0 L153.8 287.0 L155.5 287.3 L157.3 287.0 L159.9 283.6 L161.9 283.5 L163.8 282.8 L166.4 286.2 L168.4 285.6 L170.4 286.6 L172.3 286.3 L174.3 286.2 L176.2 284.2 L178.2 282.8 L180.8 281.0 L183.4 283.6 L185.2 283.2 L186.9 284.6 L188.7 284.4 L190.3 284.5 L191.9 285.0 L193.6 285.3 L195.2 284.9 L195.7 276.5 L197.8 275.8 L200.4 279.7 L202.4 280.2 L204.3 280.2 L206.3 279.9 L208.3 278.4 L210.2 278.6 L212.2 279.2 L214.0 275.8 L216.1 279.7 L217.8 281.0 L219.6 281.4 L221.3 282.3 L223.1 283.6 L224.8 284.2 L226.6 284.4 L228.5 283.0 L230.5 282.8 L232.3 281.8 L234.4 284.4 L236.4 284.1 L238.3 284.9 L238.0 284.4 L239.7 283.7 L241.5 284.5 L243.2 283.6 L245.0 283.1 L246.7 282.9 L248.5 282.3 L250.4 282.3 L252.4 282.8 L255.0 286.2 L257.0 285.8 L258.9 285.4 L260.7 284.7 L262.4 284.0 L264.1 283.6 L266.1 283.3 L268.1 282.8 L270.7 285.4 L272.3 285.8 L273.9 286.4 L275.6 286.3 L277.2 286.2 L279.2 286.2 L281.1 284.9 L283.0 282.3 L284.7 283.5 L286.4 283.6 L289.0 286.2 L290.9 287.1 L292.9 286.9 L294.9 286.3 L296.8 287.0 L299.4 283.6 L301.4 284.5 L303.4 284.4 L306.0 286.2 L307.9 286.9 L309.9 286.8 L311.9 286.3 L313.8 286.2 L316.4 283.6 L318.4 284.3 L320.4 284.4 L323.0 286.2 L324.9 285.8 L326.9 286.7 L328.8 286.3 L330.8 286.2 L333.4 282.8 L335.2 282.7 L336.9 282.6 L338.7 283.3 L341.3 285.4 L343.1 286.0 L344.9 286.3 L346.8 285.2 L348.6 286.3 L350.4 286.0 L353.0 284.4 L355.6 286.0 L357.6 286.9 L359.6 288.1 L361.2 287.8 L362.8 288.2 L364.5 289.0 L366.1 288.8 L368.0 287.1 L370.0 287.9 L371.9 286.9 L373.9 287.9 L375.8 287.9 L377.6 287.6 L379.3 288.9 L381.1 289.0 L383.0 287.2 L385.0 285.8 L386.7 286.2 L388.5 286.2 L390.2 285.3 L392.8 289.0 L394.5 289.2 L396.1 290.1 L397.7 289.3 L399.4 289.8 L401.1 288.3 L402.9 288.1 L404.6 287.1 L407.2 285.8 L409.8 288.4 L411.8 289.1 L413.8 291.1 L415.7 290.9 L417.7 291.6 L420.3 288.4 L422.2 289.0 L424.2 289.8 L426.2 290.8 L428.1 291.6 L429.9 290.5 L431.6 289.7 L433.4 289.8 L435.3 289.6 L437.3 288.4 L439.2 288.8 L441.2 289.8 L442.9 290.1 L444.7 289.8 L446.4 289.0 L448.2 289.5 L449.9 290.3 L451.7 291.1 L453.4 290.4 L455.1 289.9 L456.9 289.0 L458.6 288.9 L460.4 288.7 L462.1 288.4 L463.9 289.0 L465.6 289.9 L467.3 289.8 L469.1 289.5 L470.8 289.1 L472.6 289.0 L474.3 288.9 L476.1 287.9 L477.8 287.9 L479.5 288.0 L481.3 289.3 L483.0 289.0 L484.8 289.5 L486.5 290.1 L488.3 290.5 L490.0 290.0 L491.7 290.8 L493.5 291.1 L495.2 290.5 L497.0 289.0 L498.7 289.0 L500.5 289.4 L502.2 289.7 L503.9 289.8 L505.7 288.7 L507.4 289.1 L509.2 288.4 L510.9 288.8 L512.7 289.6 L514.4 289.8 L516.1 289.3 L517.9 289.5 L519.6 289.0" fill="none" stroke="#ff0000" stroke-width="1.05" stroke-linejoin="round"/><path d="M91.9 285.4 L93.6 285.2 L95.3 285.0 L97.0 285.1 L98.6 284.9 L100.3 284.8 L102.0 284.9 L103.7 284.9 L105.4 285.1 L107.2 285.0 L108.9 284.8 L110.7 284.4 L112.4 284.5 L114.1 284.4 L116.1 284.5 L118.1 284.7 L120.0 284.9 L122.0 285.4 L123.9 285.4 L125.9 286.1 L127.9 286.3 L129.8 286.2 L131.6 286.3 L133.3 286.3 L135.1 285.7 L136.8 285.7 L138.5 285.9 L140.3 285.7 L141.9 285.8 L143.6 285.9 L145.2 285.9 L146.8 285.3 L148.5 285.6 L150.1 285.6 L151.7 285.5 L153.4 285.4 L155.3 284.8 L157.3 284.5 L159.2 283.8 L161.2 283.6 L163.2 283.5 L165.1 282.8 L167.1 283.9 L169.0 284.4 L170.8 284.3 L172.5 284.1 L174.3 284.4 L176.0 284.1 L177.8 284.2 L179.5 283.9 L181.1 284.2 L182.8 284.1 L184.4 284.2 L186.0 284.5 L187.7 284.5 L189.3 284.4 L190.9 284.6 L192.6 284.9 L194.2 285.2 L195.8 284.7 L197.5 284.8 L199.1 285.3 L200.7 285.1 L202.4 285.3 L204.0 285.4 L205.6 285.4 L207.3 285.4 L208.9 285.9 L210.5 285.3 L212.2 285.5 L213.8 285.4 L215.5 285.7 L217.1 285.5 L218.7 285.7 L220.4 285.6 L222.0 285.9 L223.6 285.6 L225.3 285.7 L226.9 286.0 L228.5 285.4 L230.2 285.4 L231.8 285.7 L233.8 286.8 L235.7 288.3 L238.0 287.5 L239.6 287.7 L241.3 287.6 L242.9 287.3 L244.5 287.4 L246.2 287.3 L247.8 287.5 L249.4 287.2 L251.1 287.5 L252.7 287.6 L254.3 287.7 L256.0 287.7 L257.6 287.4 L259.2 287.5 L260.9 286.8 L262.5 286.9 L264.1 287.0 L265.8 287.4 L267.4 287.3 L269.0 287.0 L270.7 287.4 L272.3 287.3 L273.9 287.4 L275.6 287.1 L277.2 287.1 L278.8 287.3 L280.5 287.1 L282.1 287.3 L283.8 287.7 L285.4 287.3 L287.0 287.1 L288.7 287.2 L290.3 287.5 L291.9 287.3 L293.6 287.7 L295.2 287.4 L296.8 287.4 L298.5 287.2 L300.1 287.9 L301.7 287.5 L303.4 287.3 L305.0 287.2 L306.6 287.2 L308.3 287.3 L309.9 287.7 L311.5 287.3 L313.2 287.2 L314.8 287.5 L316.4 287.5 L318.1 287.3 L319.7 287.8 L321.3 287.2 L323.0 287.4 L324.6 287.6 L326.2 287.3 L327.9 287.6 L329.5 287.3 L331.1 287.1 L332.8 287.1 L334.4 286.8 L336.0 287.1 L337.7 286.9 L339.3 287.3 L340.9 287.3 L342.6 287.0 L344.2 287.0 L345.8 286.7 L347.5 286.8 L349.1 286.8 L350.7 286.8 L352.4 286.8 L354.0 287.3 L355.6 287.0 L357.6 286.8 L359.6 286.7 L361.5 287.3 L363.5 287.0 L365.7 286.5 L368.0 285.8 L370.0 286.2 L371.9 285.8 L373.9 286.1 L375.8 285.8 L377.8 286.5 L379.8 287.1 L381.7 287.6 L383.7 287.9 L385.4 288.0 L387.2 287.8 L388.9 288.0 L390.7 288.5 L392.4 288.6 L394.1 288.4 L396.1 288.9 L398.1 288.6 L400.0 288.9 L402.0 289.0 L403.7 288.8 L405.5 288.4 L407.2 287.9 L409.2 287.9 L411.1 287.5 L413.1 287.4 L415.1 287.1 L416.8 286.7 L418.5 285.8 L420.3 285.3 L422.2 285.4 L424.2 285.2 L426.2 284.4 L428.1 284.5 L430.1 284.5 L432.1 284.2 L434.0 283.7 L436.0 283.2 L437.7 283.6 L439.5 284.9 L441.2 285.3 L443.2 284.9 L445.1 285.2 L447.1 284.8 L449.0 284.5 L451.0 284.5 L453.0 284.9 L454.9 285.6 L456.9 285.8 L458.8 285.7 L460.8 285.7 L462.8 285.7 L464.7 285.3 L466.7 285.2 L468.7 285.2 L470.6 286.0 L472.6 285.8 L474.5 285.4 L476.5 285.8 L478.5 285.2 L480.4 285.3 L482.4 285.8 L484.3 286.0 L486.3 286.4 L488.3 286.4 L490.0 286.3 L491.7 286.4 L493.5 285.9 L495.2 286.1 L497.0 285.8 L498.7 285.8 L500.5 286.0 L502.2 285.8 L503.9 285.5 L505.7 285.5 L507.4 285.1 L509.2 285.3 L511.1 284.8 L513.1 285.0 L515.1 284.7 L517.0 284.5 L519.6 285.3" fill="none" stroke="#80ff00" stroke-width="1.25" stroke-linejoin="round"/></svg>
<div class="t" style="left:434.5px;top:248px;font-size:10.5px;color:#f00;letter-spacing:.62px;word-spacing:1.6px;-webkit-text-stroke:0">inflow azimuth</div>
<div class="t" style="left:435px;top:257.5px;font-size:10.5px;color:#80ff00;letter-spacing:.72px;word-spacing:1.6px;-webkit-text-stroke:0">inflow attitude</div>
<div class="t" style="left:91.5px;top:679.8px;width:60px;margin-left:-30px;text-align:center;letter-spacing:.4px">00:00</div>
<div class="t" style="left:198.8px;top:679.8px;width:60px;margin-left:-30px;text-align:center;letter-spacing:.4px">06:00</div>
<div class="t" style="left:306.0px;top:679.8px;width:60px;margin-left:-30px;text-align:center;letter-spacing:.4px">12:00</div>
<div class="t" style="left:413.2px;top:679.8px;width:60px;margin-left:-30px;text-align:center;letter-spacing:.4px">18:00</div>
<div class="t" style="left:520.5px;top:679.8px;width:60px;margin-left:-30px;text-align:center;letter-spacing:.4px">00:00</div>
<div class="t" style="left:306px;top:692.5px;width:100px;margin-left:-50px;text-align:center;letter-spacing:.7px">2021–09–25</div>
<div class="t" style="left:64.5px;top:753.5px;font-size:7.6px;letter-spacing:.61px;-webkit-text-stroke:.2px #000">Generated on Mon Oct 25 13:58:39 2021 by mstevens@cfa.harvard.edu</div>
<div class="t" style="left:64.5px;top:761.3px;font-size:7.6px;letter-spacing:.61px;-webkit-text-stroke:.2px #000">For browse purposes only.</div>
</body></html>
